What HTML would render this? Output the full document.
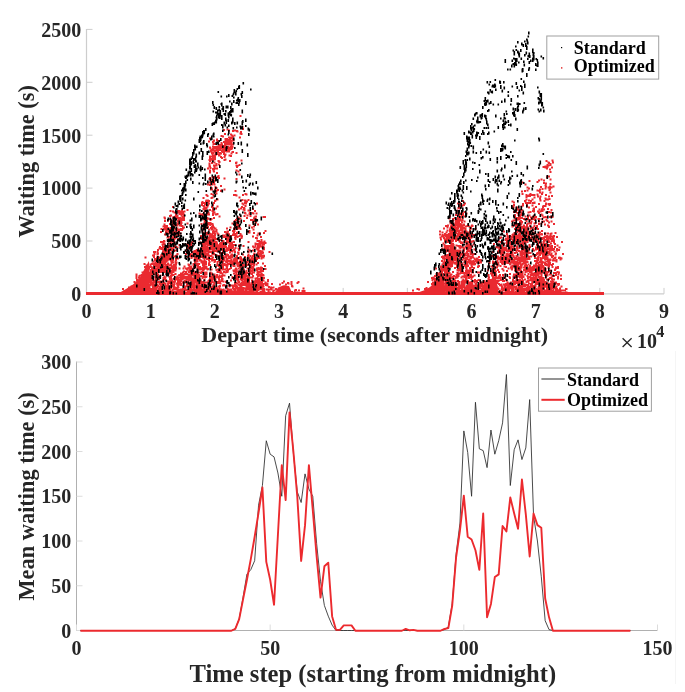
<!DOCTYPE html>
<html><head><meta charset="utf-8"><style>
html,body{margin:0;padding:0;background:#fff;overflow:hidden}
svg{display:block;font-family:"Liberation Serif",serif;will-change:transform}
</style></head><body>
<svg width="685" height="692" viewBox="0 0 685 692"><path d="M86.5 28.9V293.9H664.0" fill="none" stroke="#cdcdcd" stroke-width="1.2"/>
<path d="M86.5 293.90h6" stroke="#cdcdcd" stroke-width="1"/>
<text x="81.30" y="301.20" text-anchor="end" font-size="20" font-family="Liberation Serif" font-weight="bold" fill="#262626">0</text>
<path d="M86.5 241.00h6" stroke="#cdcdcd" stroke-width="1"/>
<text x="81.30" y="248.30" text-anchor="end" font-size="20" font-family="Liberation Serif" font-weight="bold" fill="#262626">500</text>
<path d="M86.5 188.10h6" stroke="#cdcdcd" stroke-width="1"/>
<text x="81.30" y="195.40" text-anchor="end" font-size="20" font-family="Liberation Serif" font-weight="bold" fill="#262626">1000</text>
<path d="M86.5 135.20h6" stroke="#cdcdcd" stroke-width="1"/>
<text x="81.30" y="142.50" text-anchor="end" font-size="20" font-family="Liberation Serif" font-weight="bold" fill="#262626">1500</text>
<path d="M86.5 82.30h6" stroke="#cdcdcd" stroke-width="1"/>
<text x="81.30" y="89.60" text-anchor="end" font-size="20" font-family="Liberation Serif" font-weight="bold" fill="#262626">2000</text>
<path d="M86.5 29.40h6" stroke="#cdcdcd" stroke-width="1"/>
<text x="81.30" y="36.70" text-anchor="end" font-size="20" font-family="Liberation Serif" font-weight="bold" fill="#262626">2500</text>
<path d="M86.50 293.9v-6" stroke="#cdcdcd" stroke-width="1"/>
<text x="86.50" y="317.9" text-anchor="middle" font-size="20" font-family="Liberation Serif" font-weight="bold" fill="#262626">0</text>
<path d="M150.67 293.9v-6" stroke="#cdcdcd" stroke-width="1"/>
<text x="150.67" y="317.9" text-anchor="middle" font-size="20" font-family="Liberation Serif" font-weight="bold" fill="#262626">1</text>
<path d="M214.83 293.9v-6" stroke="#cdcdcd" stroke-width="1"/>
<text x="214.83" y="317.9" text-anchor="middle" font-size="20" font-family="Liberation Serif" font-weight="bold" fill="#262626">2</text>
<path d="M279.00 293.9v-6" stroke="#cdcdcd" stroke-width="1"/>
<text x="279.00" y="317.9" text-anchor="middle" font-size="20" font-family="Liberation Serif" font-weight="bold" fill="#262626">3</text>
<path d="M343.17 293.9v-6" stroke="#cdcdcd" stroke-width="1"/>
<text x="343.17" y="317.9" text-anchor="middle" font-size="20" font-family="Liberation Serif" font-weight="bold" fill="#262626">4</text>
<path d="M407.33 293.9v-6" stroke="#cdcdcd" stroke-width="1"/>
<text x="407.33" y="317.9" text-anchor="middle" font-size="20" font-family="Liberation Serif" font-weight="bold" fill="#262626">5</text>
<path d="M471.50 293.9v-6" stroke="#cdcdcd" stroke-width="1"/>
<text x="471.50" y="317.9" text-anchor="middle" font-size="20" font-family="Liberation Serif" font-weight="bold" fill="#262626">6</text>
<path d="M535.67 293.9v-6" stroke="#cdcdcd" stroke-width="1"/>
<text x="535.67" y="317.9" text-anchor="middle" font-size="20" font-family="Liberation Serif" font-weight="bold" fill="#262626">7</text>
<path d="M599.83 293.9v-6" stroke="#cdcdcd" stroke-width="1"/>
<text x="599.83" y="317.9" text-anchor="middle" font-size="20" font-family="Liberation Serif" font-weight="bold" fill="#262626">8</text>
<path d="M664.00 293.9v-6" stroke="#cdcdcd" stroke-width="1"/>
<text x="664.00" y="317.9" text-anchor="middle" font-size="20" font-family="Liberation Serif" font-weight="bold" fill="#262626">9</text>
<text x="374.7" y="341.8" text-anchor="middle" font-size="22" font-family="Liberation Serif" font-weight="bold" fill="#262626">Depart time (seconds after midnight)</text>
<text transform="translate(33.5 161.3) rotate(-90)" text-anchor="middle" font-size="22.3" font-family="Liberation Serif" font-weight="bold" fill="#262626">Waiting time (s)</text>
<path d="M622.6 338.2L631.6 347M631.6 338.2L622.6 347" stroke="#262626" stroke-width="1.3"/>
<text x="637" y="347.7" font-size="20" font-family="Liberation Serif" font-weight="bold" fill="#262626">10</text>
<text x="656.2" y="337.4" font-size="16.2" font-family="Liberation Serif" font-weight="bold" fill="#262626">4</text>
<rect x="86" y="292" width="518" height="3" fill="#ea2a30"/>
<path d="M120 292.5L126 289L133 284.5L140 277.5L146 266L149 261L150 292.5Z M418 292.5L425 290L430 287L434 283L438 276L442 268L446 292.5Z M275 292.5L278 287.5L283 285.5L289 286L292 292.5Z" fill="#ea2a30"/>
<path d="M239.5 115h2v2h-2zM241.5 126h2v2h-2zM242 128h2v2h-2zM226.5 128.5h2v2h-2zM223 129h2v2h-2zM228 129.5h2v2h-2zM234 129.5h2v2h-2zM236 130h2v2h-2zM232 130h2v2h-2zM236.5 130.5h2v2h-2zM240 131h2v2h-2zM224 133h2v2h-2zM239.5 132.5h2v2h-2zM230 133.5h2v2h-2zM240.5 133h2v2h-2zM231 134.5h2v2h-2zM233.5 134.5h2v2h-2zM220.5 135h2v2h-2zM222 135.5h2v2h-2zM232 135.5h2v2h-2zM228 136.5h2v2h-2zM229.5 136.5h2v2h-2zM239 136.5h2v2h-2zM209 137.5h2v2h-2zM224.5 138h2v2h-2zM226 138h2v2h-2zM229 137.5h2v2h-2zM231 137h2v2h-2zM216 138.5h2v2h-2zM227 139h2v2h-2zM227.5 139h2v2h-2zM213 139.5h2v2h-2zM216 139.5h2v2h-2zM217 140h2v2h-2zM224.5 139h2v2h-2zM226 139.5h2v2h-2zM228 139.5h2v2h-2zM229.5 139.5h2v2h-2zM230.5 140h2v2h-2zM232 139h2v2h-2zM231 139.5h2v2h-2zM232.5 139.5h2v2h-2zM208 140.5h2v2h-2zM212 141h2v2h-2zM212.5 140.5h2v2h-2zM223 141h2v2h-2zM224.5 140.5h2v2h-2zM225 140h2v2h-2zM228 140.5h2v2h-2zM229.5 141h2v2h-2zM230.5 140.5h2v2h-2zM220.5 142h2v2h-2zM226 141.5h2v2h-2zM225.5 142h2v2h-2zM225.5 141.5h2v2h-2zM225 141.5h2v2h-2zM226.5 142h2v2h-2zM212.5 143h2v2h-2zM213.5 143h2v2h-2zM215 143h2v2h-2zM224 142.5h2v2h-2zM225.5 142h2v2h-2zM226 142h2v2h-2zM227.5 142.5h2v2h-2zM229.5 142h2v2h-2zM230.5 142.5h2v2h-2zM219 144h2v2h-2zM221 143.5h2v2h-2zM220.5 143h2v2h-2zM220.5 143.5h2v2h-2zM225.5 143.5h2v2h-2zM227.5 143.5h2v2h-2zM229 143h2v2h-2zM230.5 143.5h2v2h-2zM232 143.5h2v2h-2zM218 144.5h2v2h-2zM219.5 144.5h2v2h-2zM224 144.5h2v2h-2zM212 145.5h2v2h-2zM214 146h2v2h-2zM216 146h2v2h-2zM216.5 145.5h2v2h-2zM218.5 146h2v2h-2zM219 145h2v2h-2zM221.5 145.5h2v2h-2zM222 145h2v2h-2zM222.5 146h2v2h-2zM224.5 145.5h2v2h-2zM229.5 145.5h2v2h-2zM229.5 146h2v2h-2zM230.5 145.5h2v2h-2zM209 146.5h2v2h-2zM215.5 146.5h2v2h-2zM216 146.5h2v2h-2zM217 146.5h2v2h-2zM219.5 146h2v2h-2zM220 147h2v2h-2zM219 146.5h2v2h-2zM219 146h2v2h-2zM222.5 147h2v2h-2zM225 147h2v2h-2zM225.5 146.5h2v2h-2zM225.5 146h2v2h-2zM227 146h2v2h-2zM229 147h2v2h-2zM228.5 147h2v2h-2zM230.5 146.5h2v2h-2zM231.5 146h2v2h-2zM209.5 147.5h2v2h-2zM212 148h2v2h-2zM212.5 147.5h2v2h-2zM214.5 147.5h2v2h-2zM215 147.5h2v2h-2zM215.5 147h2v2h-2zM215 147.5h2v2h-2zM217 148h2v2h-2zM219.5 147.5h2v2h-2zM222 147h2v2h-2zM222 147h2v2h-2zM224.5 147.5h2v2h-2zM227 147.5h2v2h-2zM229 148h2v2h-2zM231 147.5h2v2h-2zM212 148.5h2v2h-2zM212 148h2v2h-2zM216 148.5h2v2h-2zM215.5 148.5h2v2h-2zM215.5 148.5h2v2h-2zM216 148h2v2h-2zM217 148h2v2h-2zM217 148.5h2v2h-2zM217.5 148h2v2h-2zM217 148.5h2v2h-2zM217.5 148.5h2v2h-2zM221.5 149h2v2h-2zM222 148h2v2h-2zM224.5 149h2v2h-2zM225 148.5h2v2h-2zM226 148h2v2h-2zM226 148.5h2v2h-2zM228.5 148.5h2v2h-2zM228 149h2v2h-2zM229 148.5h2v2h-2zM230 148h2v2h-2zM210.5 149h2v2h-2zM210.5 149.5h2v2h-2zM210.5 149.5h2v2h-2zM212.5 149.5h2v2h-2zM214 150h2v2h-2zM215.5 149.5h2v2h-2zM217 150h2v2h-2zM219 149h2v2h-2zM221 150h2v2h-2zM223.5 149h2v2h-2zM210 150h2v2h-2zM210.5 151h2v2h-2zM213.5 150.5h2v2h-2zM213.5 150.5h2v2h-2zM214 150h2v2h-2zM213.5 150.5h2v2h-2zM222 151h2v2h-2zM223.5 150h2v2h-2zM225.5 150.5h2v2h-2zM226.5 150.5h2v2h-2zM228 150.5h2v2h-2zM231.5 151h2v2h-2zM214.5 151h2v2h-2zM215.5 152h2v2h-2zM217 151h2v2h-2zM219 152h2v2h-2zM219.5 152h2v2h-2zM223 151h2v2h-2zM232 151h2v2h-2zM211 152.5h2v2h-2zM211.5 152.5h2v2h-2zM212 152h2v2h-2zM214.5 152h2v2h-2zM216.5 152h2v2h-2zM216.5 153h2v2h-2zM220 152.5h2v2h-2zM223 153h2v2h-2zM230.5 152.5h2v2h-2zM235.5 152h2v2h-2zM218.5 153.5h2v2h-2zM224.5 153.5h2v2h-2zM212 154.5h2v2h-2zM212.5 154.5h2v2h-2zM214.5 154h2v2h-2zM218 154.5h2v2h-2zM218.5 154.5h2v2h-2zM224 154.5h2v2h-2zM228.5 154.5h2v2h-2zM209 155.5h2v2h-2zM210 155.5h2v2h-2zM214 155.5h2v2h-2zM214 156h2v2h-2zM230 155h2v2h-2zM212 156h2v2h-2zM212.5 156.5h2v2h-2zM220 156h2v2h-2zM221 157h2v2h-2zM223.5 156h2v2h-2zM209 157.5h2v2h-2zM208.5 159h2v2h-2zM210 158.5h2v2h-2zM211 158h2v2h-2zM212 158.5h2v2h-2zM214 158h2v2h-2zM213.5 158h2v2h-2zM213.5 158.5h2v2h-2zM223.5 159h2v2h-2zM224.5 158.5h2v2h-2zM209 160h2v2h-2zM211.5 159.5h2v2h-2zM212 159.5h2v2h-2zM240.5 159.5h2v2h-2zM209 160h2v2h-2zM217.5 160h2v2h-2zM218 160.5h2v2h-2zM229 160h2v2h-2zM213.5 161.5h2v2h-2zM218.5 161h2v2h-2zM235 162h2v2h-2zM235.5 161.5h2v2h-2zM208.5 162.5h2v2h-2zM211 162h2v2h-2zM215.5 163h2v2h-2zM218 163.5h2v2h-2zM208.5 164h2v2h-2zM213 164.5h2v2h-2zM213.5 164.5h2v2h-2zM215.5 164.5h2v2h-2zM235.5 164.5h2v2h-2zM236.5 165h2v2h-2zM238.5 164h2v2h-2zM208.5 165.5h2v2h-2zM209 165.5h2v2h-2zM236 166h2v2h-2zM209.5 167h2v2h-2zM213.5 166h2v2h-2zM207 167.5h2v2h-2zM212 168h2v2h-2zM214.5 167.5h2v2h-2zM216 167.5h2v2h-2zM213 168h2v2h-2zM209 169.5h2v2h-2zM212.5 169h2v2h-2zM212.5 169.5h2v2h-2zM235.5 169.5h2v2h-2zM213 170.5h2v2h-2zM237.5 170.5h2v2h-2zM209 171.5h2v2h-2zM216 172h2v2h-2zM238.5 173.5h2v2h-2zM213.5 176h2v2h-2zM217.5 175h2v2h-2zM217.5 175h2v2h-2zM209 177h2v2h-2zM211.5 176h2v2h-2zM216.5 176h2v2h-2zM218 177h2v2h-2zM208.5 178h2v2h-2zM213.5 177.5h2v2h-2zM215 177h2v2h-2zM223.5 177.5h2v2h-2zM235.5 178h2v2h-2zM210.5 178.5h2v2h-2zM215.5 178.5h2v2h-2zM213 180h2v2h-2zM212 179.5h2v2h-2zM211 180h2v2h-2zM212 180.5h2v2h-2zM208.5 181.5h2v2h-2zM210 181.5h2v2h-2zM211.5 181.5h2v2h-2zM212 181.5h2v2h-2zM210.5 182h2v2h-2zM211.5 182.5h2v2h-2zM213 182h2v2h-2zM207 183.5h2v2h-2zM209 184h2v2h-2zM211 183.5h2v2h-2zM213.5 183.5h2v2h-2zM220 185h2v2h-2zM214.5 186h2v2h-2zM215.5 187h2v2h-2zM210.5 187h2v2h-2zM210 188.5h2v2h-2zM211 188.5h2v2h-2zM214 188.5h2v2h-2zM216.5 189h2v2h-2zM217 189h2v2h-2zM223.5 188.5h2v2h-2zM214.5 190h2v2h-2zM215.5 190h2v2h-2zM220.5 189.5h2v2h-2zM220 190h2v2h-2zM234.5 190h2v2h-2zM214.5 191.5h2v2h-2zM215.5 192.5h2v2h-2zM205.5 194h2v2h-2zM210.5 193h2v2h-2zM212.5 194h2v2h-2zM233 194h2v2h-2zM244.5 193h2v2h-2zM245.5 193.5h2v2h-2zM206.5 195h2v2h-2zM234.5 194h2v2h-2zM235.5 194.5h2v2h-2zM242 194h2v2h-2zM202.5 197h2v2h-2zM211.5 196.5h2v2h-2zM238.5 196.5h2v2h-2zM210.5 197h2v2h-2zM216.5 198.5h2v2h-2zM247.5 199h2v2h-2zM205.5 199.5h2v2h-2zM207 199.5h2v2h-2zM208 200h2v2h-2zM214 200h2v2h-2zM214.5 199.5h2v2h-2zM239.5 200h2v2h-2zM241.5 199h2v2h-2zM244.5 199.5h2v2h-2zM244 199.5h2v2h-2zM201.5 201h2v2h-2zM205 200.5h2v2h-2zM244.5 201h2v2h-2zM246 200.5h2v2h-2zM203 202h2v2h-2zM205 201h2v2h-2zM207 201.5h2v2h-2zM201 202h2v2h-2zM203 202h2v2h-2zM204 202.5h2v2h-2zM208 202.5h2v2h-2zM213 202h2v2h-2zM241.5 202.5h2v2h-2zM244 202h2v2h-2zM245 202.5h2v2h-2zM256 202.5h2v2h-2zM204 203h2v2h-2zM207 204h2v2h-2zM212 204h2v2h-2zM242.5 203.5h2v2h-2zM201 204h2v2h-2zM205.5 204.5h2v2h-2zM172 206h2v2h-2zM202.5 205h2v2h-2zM203 205h2v2h-2zM206.5 205.5h2v2h-2zM211 206h2v2h-2zM216.5 205.5h2v2h-2zM241 206h2v2h-2zM244.5 205h2v2h-2zM203.5 206.5h2v2h-2zM204 207h2v2h-2zM212 206.5h2v2h-2zM203 207.5h2v2h-2zM203.5 208h2v2h-2zM203.5 207.5h2v2h-2zM205.5 207h2v2h-2zM205.5 207.5h2v2h-2zM215 207.5h2v2h-2zM240 207.5h2v2h-2zM243 207h2v2h-2zM243.5 207.5h2v2h-2zM202.5 208h2v2h-2zM209 209h2v2h-2zM212 208h2v2h-2zM212 208.5h2v2h-2zM238 208.5h2v2h-2zM242.5 208.5h2v2h-2zM252 208h2v2h-2zM169.5 210h2v2h-2zM177 210h2v2h-2zM178.5 210h2v2h-2zM181 209.5h2v2h-2zM186.5 209h2v2h-2zM204.5 209.5h2v2h-2zM211.5 210h2v2h-2zM243.5 209.5h2v2h-2zM247.5 209.5h2v2h-2zM254 210h2v2h-2zM172 210.5h2v2h-2zM183.5 210.5h2v2h-2zM203.5 210.5h2v2h-2zM212.5 210.5h2v2h-2zM212.5 210.5h2v2h-2zM173.5 211.5h2v2h-2zM175 212h2v2h-2zM175.5 211.5h2v2h-2zM177.5 211.5h2v2h-2zM177 211.5h2v2h-2zM180.5 211h2v2h-2zM182 211h2v2h-2zM207.5 211.5h2v2h-2zM213.5 211.5h2v2h-2zM244 212h2v2h-2zM249 211.5h2v2h-2zM178.5 213h2v2h-2zM178.5 212.5h2v2h-2zM179.5 212h2v2h-2zM180 213h2v2h-2zM179.5 212.5h2v2h-2zM180 212.5h2v2h-2zM181.5 212.5h2v2h-2zM182.5 213h2v2h-2zM198.5 212.5h2v2h-2zM202 213h2v2h-2zM205.5 213h2v2h-2zM206.5 212.5h2v2h-2zM207 212.5h2v2h-2zM212 212.5h2v2h-2zM212.5 213h2v2h-2zM244.5 212.5h2v2h-2zM248.5 212.5h2v2h-2zM251.5 212h2v2h-2zM252.5 212.5h2v2h-2zM255.5 212.5h2v2h-2zM175 213.5h2v2h-2zM180.5 214h2v2h-2zM181 213.5h2v2h-2zM183 214h2v2h-2zM200 213.5h2v2h-2zM203.5 214h2v2h-2zM206.5 213.5h2v2h-2zM208 213.5h2v2h-2zM212 214h2v2h-2zM215 213.5h2v2h-2zM215.5 213.5h2v2h-2zM216.5 213h2v2h-2zM249 213h2v2h-2zM170 214.5h2v2h-2zM175.5 214.5h2v2h-2zM180.5 214.5h2v2h-2zM183 214.5h2v2h-2zM199.5 214h2v2h-2zM201.5 214h2v2h-2zM246.5 214.5h2v2h-2zM249.5 215h2v2h-2zM169 215h2v2h-2zM174.5 215.5h2v2h-2zM175 215.5h2v2h-2zM176.5 215h2v2h-2zM218.5 215.5h2v2h-2zM243.5 215h2v2h-2zM254.5 215.5h2v2h-2zM255 215.5h2v2h-2zM262.5 216h2v2h-2zM264 216h2v2h-2zM163.5 216.5h2v2h-2zM172 216.5h2v2h-2zM173.5 216h2v2h-2zM175 217h2v2h-2zM176.5 217h2v2h-2zM176.5 217h2v2h-2zM177.5 217h2v2h-2zM179 217h2v2h-2zM181.5 216h2v2h-2zM183 216.5h2v2h-2zM183 217h2v2h-2zM204 216.5h2v2h-2zM206 217h2v2h-2zM237.5 216.5h2v2h-2zM246 217h2v2h-2zM253.5 216.5h2v2h-2zM164 217.5h2v2h-2zM175.5 217.5h2v2h-2zM176 217.5h2v2h-2zM176.5 217h2v2h-2zM181 217.5h2v2h-2zM202.5 218h2v2h-2zM204.5 217.5h2v2h-2zM207.5 217.5h2v2h-2zM213 217h2v2h-2zM236 218h2v2h-2zM237 217h2v2h-2zM239.5 217.5h2v2h-2zM253 217.5h2v2h-2zM170 219h2v2h-2zM169.5 218.5h2v2h-2zM173.5 219h2v2h-2zM174 219h2v2h-2zM178 218.5h2v2h-2zM178.5 218.5h2v2h-2zM178 219h2v2h-2zM178 218h2v2h-2zM183 219h2v2h-2zM206.5 218h2v2h-2zM210.5 218h2v2h-2zM235 219h2v2h-2zM254.5 218h2v2h-2zM255 218.5h2v2h-2zM167 219.5h2v2h-2zM170.5 220h2v2h-2zM178 219.5h2v2h-2zM178 219.5h2v2h-2zM179.5 219.5h2v2h-2zM179.5 219h2v2h-2zM180.5 219.5h2v2h-2zM182 219h2v2h-2zM183 219h2v2h-2zM204 220h2v2h-2zM203.5 219.5h2v2h-2zM209.5 219h2v2h-2zM237 219.5h2v2h-2zM250 219h2v2h-2zM251.5 219h2v2h-2zM254.5 220h2v2h-2zM164 220h2v2h-2zM170 220.5h2v2h-2zM172.5 220.5h2v2h-2zM173.5 221h2v2h-2zM177 220.5h2v2h-2zM176.5 220.5h2v2h-2zM177 220h2v2h-2zM178 220.5h2v2h-2zM178 220.5h2v2h-2zM178.5 220h2v2h-2zM179.5 220.5h2v2h-2zM180 220h2v2h-2zM204 220.5h2v2h-2zM234 220h2v2h-2zM233.5 220.5h2v2h-2zM238.5 220.5h2v2h-2zM243 220h2v2h-2zM252.5 220h2v2h-2zM171.5 221.5h2v2h-2zM171 221.5h2v2h-2zM173.5 221.5h2v2h-2zM173 221h2v2h-2zM179.5 221h2v2h-2zM179.5 222h2v2h-2zM206 221.5h2v2h-2zM206.5 222h2v2h-2zM252 221.5h2v2h-2zM255 221.5h2v2h-2zM170.5 223h2v2h-2zM172 222.5h2v2h-2zM173 222.5h2v2h-2zM173.5 222.5h2v2h-2zM174.5 223h2v2h-2zM177.5 222h2v2h-2zM177 223h2v2h-2zM180.5 222h2v2h-2zM186.5 222.5h2v2h-2zM200.5 223h2v2h-2zM200.5 223h2v2h-2zM203.5 222h2v2h-2zM206 222.5h2v2h-2zM208.5 222h2v2h-2zM209.5 222h2v2h-2zM211.5 223h2v2h-2zM231.5 222.5h2v2h-2zM235 222h2v2h-2zM236 222h2v2h-2zM237 222.5h2v2h-2zM163.5 223.5h2v2h-2zM169 223h2v2h-2zM172 224h2v2h-2zM175.5 224h2v2h-2zM180 223.5h2v2h-2zM208 223.5h2v2h-2zM208.5 223h2v2h-2zM237 223h2v2h-2zM236 223.5h2v2h-2zM254 223.5h2v2h-2zM257 223.5h2v2h-2zM164 225h2v2h-2zM171 224h2v2h-2zM173.5 225h2v2h-2zM176.5 224.5h2v2h-2zM179 224.5h2v2h-2zM180.5 225h2v2h-2zM203 224.5h2v2h-2zM206 224.5h2v2h-2zM209.5 224h2v2h-2zM212 224.5h2v2h-2zM237 224.5h2v2h-2zM237.5 224h2v2h-2zM248.5 224.5h2v2h-2zM162.5 225.5h2v2h-2zM164 226h2v2h-2zM164.5 225.5h2v2h-2zM166 225h2v2h-2zM181.5 225h2v2h-2zM203.5 226h2v2h-2zM203.5 225.5h2v2h-2zM207 226h2v2h-2zM235.5 226h2v2h-2zM235.5 225.5h2v2h-2zM237.5 226h2v2h-2zM253 225.5h2v2h-2zM167 227h2v2h-2zM173 226.5h2v2h-2zM183 226.5h2v2h-2zM211 226h2v2h-2zM213 226.5h2v2h-2zM229.5 226.5h2v2h-2zM234 226h2v2h-2zM235 226.5h2v2h-2zM237.5 227h2v2h-2zM238.5 226.5h2v2h-2zM239 227h2v2h-2zM251 226.5h2v2h-2zM163 228h2v2h-2zM165.5 227h2v2h-2zM167.5 227.5h2v2h-2zM167.5 227h2v2h-2zM170.5 227h2v2h-2zM170.5 227.5h2v2h-2zM170 227h2v2h-2zM172.5 227h2v2h-2zM172 227.5h2v2h-2zM176.5 227.5h2v2h-2zM179.5 228h2v2h-2zM182 227h2v2h-2zM202 227.5h2v2h-2zM203 228h2v2h-2zM205.5 227h2v2h-2zM210 227h2v2h-2zM211 227h2v2h-2zM214 227.5h2v2h-2zM214.5 227.5h2v2h-2zM226 227.5h2v2h-2zM233 227.5h2v2h-2zM235 228h2v2h-2zM235.5 228h2v2h-2zM236 227.5h2v2h-2zM160.5 228h2v2h-2zM163.5 228.5h2v2h-2zM165 228h2v2h-2zM167.5 228h2v2h-2zM167.5 229h2v2h-2zM169.5 228.5h2v2h-2zM171.5 228.5h2v2h-2zM174.5 228h2v2h-2zM179 229h2v2h-2zM181.5 228h2v2h-2zM204 228.5h2v2h-2zM208 228.5h2v2h-2zM210.5 228.5h2v2h-2zM211.5 228h2v2h-2zM215.5 229h2v2h-2zM236.5 228h2v2h-2zM239.5 228h2v2h-2zM252.5 228.5h2v2h-2zM166 229h2v2h-2zM165.5 229h2v2h-2zM166.5 229.5h2v2h-2zM168 229.5h2v2h-2zM169 229h2v2h-2zM170 229.5h2v2h-2zM172.5 229.5h2v2h-2zM172 230h2v2h-2zM172.5 229.5h2v2h-2zM176 229.5h2v2h-2zM177.5 229h2v2h-2zM181 229h2v2h-2zM212.5 229.5h2v2h-2zM232 230h2v2h-2zM233 229.5h2v2h-2zM233.5 230h2v2h-2zM248.5 230h2v2h-2zM165 231h2v2h-2zM165.5 231h2v2h-2zM168 230h2v2h-2zM169.5 230h2v2h-2zM172 230.5h2v2h-2zM173.5 230.5h2v2h-2zM174 230.5h2v2h-2zM178 231h2v2h-2zM201.5 230h2v2h-2zM212 231h2v2h-2zM213 231h2v2h-2zM214 230.5h2v2h-2zM213.5 231h2v2h-2zM215.5 230.5h2v2h-2zM224 231h2v2h-2zM227 230.5h2v2h-2zM226.5 230.5h2v2h-2zM264.5 230h2v2h-2zM160 231h2v2h-2zM165.5 231.5h2v2h-2zM173 231.5h2v2h-2zM174 231.5h2v2h-2zM175 231.5h2v2h-2zM177.5 231.5h2v2h-2zM207 231.5h2v2h-2zM206 232h2v2h-2zM207.5 232h2v2h-2zM212 232h2v2h-2zM225.5 231.5h2v2h-2zM226.5 231.5h2v2h-2zM233 231h2v2h-2zM236.5 231.5h2v2h-2zM248 231.5h2v2h-2zM248.5 231.5h2v2h-2zM263 232h2v2h-2zM166.5 232h2v2h-2zM168 232.5h2v2h-2zM169 232.5h2v2h-2zM171 232h2v2h-2zM172.5 232.5h2v2h-2zM173 232.5h2v2h-2zM174 232.5h2v2h-2zM174 232.5h2v2h-2zM175.5 232.5h2v2h-2zM179.5 232.5h2v2h-2zM202.5 232h2v2h-2zM204 232.5h2v2h-2zM204.5 233h2v2h-2zM206 232h2v2h-2zM208 232.5h2v2h-2zM208.5 232.5h2v2h-2zM211.5 233h2v2h-2zM213.5 232h2v2h-2zM216.5 232.5h2v2h-2zM226 232h2v2h-2zM225.5 233h2v2h-2zM226 233h2v2h-2zM227.5 233h2v2h-2zM232.5 232.5h2v2h-2zM234.5 233h2v2h-2zM236 232h2v2h-2zM237 232h2v2h-2zM236 232.5h2v2h-2zM239.5 233h2v2h-2zM253 232h2v2h-2zM257.5 232.5h2v2h-2zM259 232.5h2v2h-2zM164 233.5h2v2h-2zM164.5 233.5h2v2h-2zM173 234h2v2h-2zM176.5 233.5h2v2h-2zM178 234h2v2h-2zM202.5 234h2v2h-2zM202.5 233h2v2h-2zM203 233h2v2h-2zM205 233.5h2v2h-2zM205 233h2v2h-2zM205 233.5h2v2h-2zM205.5 233h2v2h-2zM206 233.5h2v2h-2zM207.5 233h2v2h-2zM209 233h2v2h-2zM210.5 233.5h2v2h-2zM211.5 233.5h2v2h-2zM211 234h2v2h-2zM211 233.5h2v2h-2zM214 233h2v2h-2zM217.5 233.5h2v2h-2zM228 233.5h2v2h-2zM232 234h2v2h-2zM234 234h2v2h-2zM172.5 234.5h2v2h-2zM173.5 234.5h2v2h-2zM204 234.5h2v2h-2zM204 234.5h2v2h-2zM208.5 234.5h2v2h-2zM211.5 234.5h2v2h-2zM211 235h2v2h-2zM214 234.5h2v2h-2zM222 234.5h2v2h-2zM223.5 234.5h2v2h-2zM227.5 235h2v2h-2zM230 235h2v2h-2zM235.5 235h2v2h-2zM240.5 234.5h2v2h-2zM256.5 234.5h2v2h-2zM167.5 236h2v2h-2zM169.5 235.5h2v2h-2zM174.5 235.5h2v2h-2zM175.5 235h2v2h-2zM200 235h2v2h-2zM201.5 235.5h2v2h-2zM209 235.5h2v2h-2zM212.5 235h2v2h-2zM224.5 235.5h2v2h-2zM226.5 235h2v2h-2zM228 235.5h2v2h-2zM230 235.5h2v2h-2zM235 235.5h2v2h-2zM236.5 236h2v2h-2zM238.5 235h2v2h-2zM241 235.5h2v2h-2zM252 235.5h2v2h-2zM260 236h2v2h-2zM166.5 236.5h2v2h-2zM170.5 237h2v2h-2zM173 236.5h2v2h-2zM172 236.5h2v2h-2zM203 236.5h2v2h-2zM205 237h2v2h-2zM208.5 237h2v2h-2zM208.5 236h2v2h-2zM210.5 236.5h2v2h-2zM211.5 237h2v2h-2zM212 237h2v2h-2zM212 237h2v2h-2zM213.5 236.5h2v2h-2zM222.5 236h2v2h-2zM223.5 236h2v2h-2zM225.5 236.5h2v2h-2zM226 236h2v2h-2zM226.5 236.5h2v2h-2zM226.5 236h2v2h-2zM234 236.5h2v2h-2zM255 237h2v2h-2zM170 237.5h2v2h-2zM172 237h2v2h-2zM174.5 237.5h2v2h-2zM177 238h2v2h-2zM201 237.5h2v2h-2zM203 238h2v2h-2zM205.5 237.5h2v2h-2zM206.5 237h2v2h-2zM208.5 238h2v2h-2zM212.5 237.5h2v2h-2zM214 237h2v2h-2zM216.5 238h2v2h-2zM225.5 237.5h2v2h-2zM228 237.5h2v2h-2zM234.5 238h2v2h-2zM240.5 237h2v2h-2zM255.5 237h2v2h-2zM256 237.5h2v2h-2zM167 239h2v2h-2zM168 238.5h2v2h-2zM167.5 239h2v2h-2zM170.5 239h2v2h-2zM173 238h2v2h-2zM200.5 238h2v2h-2zM202 239h2v2h-2zM204.5 238.5h2v2h-2zM207.5 238h2v2h-2zM208.5 238.5h2v2h-2zM209 239h2v2h-2zM210.5 239h2v2h-2zM212 238.5h2v2h-2zM212.5 238h2v2h-2zM214.5 238h2v2h-2zM217 238.5h2v2h-2zM217 238.5h2v2h-2zM219.5 239h2v2h-2zM226.5 238h2v2h-2zM227.5 239h2v2h-2zM239 238.5h2v2h-2zM260.5 239h2v2h-2zM163 240h2v2h-2zM166.5 239.5h2v2h-2zM167.5 239.5h2v2h-2zM171.5 239.5h2v2h-2zM173 240h2v2h-2zM204 239.5h2v2h-2zM203.5 239h2v2h-2zM207.5 240h2v2h-2zM207.5 239.5h2v2h-2zM210.5 239.5h2v2h-2zM211.5 239.5h2v2h-2zM212 239.5h2v2h-2zM213 239h2v2h-2zM218 239h2v2h-2zM222.5 240h2v2h-2zM226 240h2v2h-2zM228 240h2v2h-2zM228.5 239h2v2h-2zM256.5 240h2v2h-2zM260.5 239.5h2v2h-2zM160 241h2v2h-2zM163.5 240.5h2v2h-2zM163 240h2v2h-2zM172 240h2v2h-2zM171.5 240.5h2v2h-2zM172 240.5h2v2h-2zM191.5 241h2v2h-2zM201.5 241h2v2h-2zM205 240.5h2v2h-2zM205.5 240.5h2v2h-2zM206.5 240h2v2h-2zM206.5 240.5h2v2h-2zM207.5 240.5h2v2h-2zM208.5 240.5h2v2h-2zM210.5 240.5h2v2h-2zM212.5 241h2v2h-2zM214.5 240.5h2v2h-2zM215.5 241h2v2h-2zM222 240h2v2h-2zM222.5 241h2v2h-2zM222 241h2v2h-2zM227 240.5h2v2h-2zM227 241h2v2h-2zM232.5 241h2v2h-2zM258 240h2v2h-2zM263.5 240.5h2v2h-2zM161 241h2v2h-2zM169.5 241h2v2h-2zM173.5 241.5h2v2h-2zM176 242h2v2h-2zM198.5 241.5h2v2h-2zM202 241h2v2h-2zM203 241.5h2v2h-2zM206.5 242h2v2h-2zM206.5 241.5h2v2h-2zM207.5 241h2v2h-2zM210 242h2v2h-2zM210.5 241.5h2v2h-2zM210 241.5h2v2h-2zM215 241.5h2v2h-2zM221.5 241h2v2h-2zM221 242h2v2h-2zM221.5 241.5h2v2h-2zM222.5 242h2v2h-2zM226 241.5h2v2h-2zM229 241.5h2v2h-2zM230 241.5h2v2h-2zM231 242h2v2h-2zM233 241h2v2h-2zM247.5 241h2v2h-2zM258.5 241h2v2h-2zM259 242h2v2h-2zM260 241.5h2v2h-2zM261.5 241.5h2v2h-2zM263 242h2v2h-2zM264.5 242h2v2h-2zM162.5 242h2v2h-2zM168 242.5h2v2h-2zM172.5 242h2v2h-2zM190 242h2v2h-2zM201.5 242h2v2h-2zM203.5 242h2v2h-2zM205.5 242.5h2v2h-2zM205.5 242.5h2v2h-2zM207 243h2v2h-2zM207.5 242h2v2h-2zM210 242.5h2v2h-2zM211.5 243h2v2h-2zM213.5 242.5h2v2h-2zM216 242.5h2v2h-2zM219.5 242h2v2h-2zM220 242.5h2v2h-2zM220 243h2v2h-2zM224.5 242h2v2h-2zM225 242h2v2h-2zM228.5 242.5h2v2h-2zM229 243h2v2h-2zM231 242.5h2v2h-2zM254.5 242.5h2v2h-2zM259 242h2v2h-2zM259.5 242.5h2v2h-2zM260.5 242h2v2h-2zM161.5 243.5h2v2h-2zM163.5 243h2v2h-2zM171 243h2v2h-2zM174 244h2v2h-2zM182 243.5h2v2h-2zM184.5 243.5h2v2h-2zM185 243.5h2v2h-2zM186.5 243.5h2v2h-2zM187 244h2v2h-2zM187.5 243.5h2v2h-2zM189.5 243.5h2v2h-2zM202.5 244h2v2h-2zM203.5 244h2v2h-2zM204 243.5h2v2h-2zM204.5 243.5h2v2h-2zM205 243h2v2h-2zM208.5 244h2v2h-2zM210 243.5h2v2h-2zM210 243.5h2v2h-2zM212.5 243.5h2v2h-2zM214.5 244h2v2h-2zM215.5 243.5h2v2h-2zM219 243h2v2h-2zM219 243.5h2v2h-2zM221 243h2v2h-2zM222 244h2v2h-2zM222 243.5h2v2h-2zM225 243.5h2v2h-2zM232.5 244h2v2h-2zM254.5 243.5h2v2h-2zM256.5 243h2v2h-2zM257 243.5h2v2h-2zM257 244h2v2h-2zM258.5 243h2v2h-2zM259 243h2v2h-2zM261.5 244h2v2h-2zM262 243.5h2v2h-2zM263 243.5h2v2h-2zM167 245h2v2h-2zM170 244h2v2h-2zM173 244h2v2h-2zM178.5 244h2v2h-2zM186.5 245h2v2h-2zM188 244.5h2v2h-2zM188 245h2v2h-2zM188.5 244.5h2v2h-2zM190.5 244h2v2h-2zM201.5 245h2v2h-2zM201.5 244h2v2h-2zM203.5 245h2v2h-2zM204 244.5h2v2h-2zM204.5 244h2v2h-2zM207 244.5h2v2h-2zM211 244.5h2v2h-2zM213.5 245h2v2h-2zM215.5 245h2v2h-2zM216.5 244.5h2v2h-2zM218 244.5h2v2h-2zM218.5 244h2v2h-2zM223.5 244.5h2v2h-2zM223 244.5h2v2h-2zM228 245h2v2h-2zM229 244.5h2v2h-2zM230.5 244.5h2v2h-2zM230 244.5h2v2h-2zM234.5 244h2v2h-2zM238.5 244h2v2h-2zM257.5 244h2v2h-2zM259 244.5h2v2h-2zM258 244.5h2v2h-2zM162 245.5h2v2h-2zM163 246h2v2h-2zM163 245.5h2v2h-2zM163 245.5h2v2h-2zM165 245.5h2v2h-2zM164.5 246h2v2h-2zM167.5 245.5h2v2h-2zM169 245h2v2h-2zM170 246h2v2h-2zM173 246h2v2h-2zM188 246h2v2h-2zM190 245h2v2h-2zM189.5 245h2v2h-2zM191.5 245h2v2h-2zM201.5 245.5h2v2h-2zM204 246h2v2h-2zM203.5 245.5h2v2h-2zM206 245.5h2v2h-2zM209.5 245.5h2v2h-2zM211 245.5h2v2h-2zM216.5 246h2v2h-2zM217.5 246h2v2h-2zM218 245.5h2v2h-2zM217.5 245h2v2h-2zM218.5 245h2v2h-2zM218.5 245.5h2v2h-2zM220.5 245.5h2v2h-2zM222 245.5h2v2h-2zM221 245h2v2h-2zM222 245h2v2h-2zM221.5 245.5h2v2h-2zM223 245.5h2v2h-2zM222.5 245.5h2v2h-2zM222.5 246h2v2h-2zM222.5 246h2v2h-2zM224 245.5h2v2h-2zM225 246h2v2h-2zM238 245h2v2h-2zM242.5 245h2v2h-2zM252 245.5h2v2h-2zM254.5 245.5h2v2h-2zM257 245.5h2v2h-2zM258 246h2v2h-2zM259.5 245.5h2v2h-2zM159 246h2v2h-2zM165.5 246.5h2v2h-2zM165.5 246.5h2v2h-2zM168 246.5h2v2h-2zM172.5 247h2v2h-2zM175 246h2v2h-2zM176.5 246.5h2v2h-2zM188 247h2v2h-2zM200.5 247h2v2h-2zM203.5 246h2v2h-2zM204.5 246.5h2v2h-2zM206 246h2v2h-2zM211.5 246.5h2v2h-2zM213.5 246.5h2v2h-2zM215 246.5h2v2h-2zM216.5 246.5h2v2h-2zM216 246.5h2v2h-2zM218.5 246h2v2h-2zM220 246.5h2v2h-2zM221 246h2v2h-2zM220.5 246h2v2h-2zM228.5 246.5h2v2h-2zM230.5 246.5h2v2h-2zM231.5 247h2v2h-2zM232 246h2v2h-2zM234.5 247h2v2h-2zM253 246.5h2v2h-2zM258 246.5h2v2h-2zM261.5 246h2v2h-2zM262 247h2v2h-2zM261.5 246.5h2v2h-2zM262.5 246h2v2h-2zM158.5 247.5h2v2h-2zM160.5 248h2v2h-2zM161 247h2v2h-2zM163.5 247.5h2v2h-2zM164.5 247.5h2v2h-2zM170.5 247.5h2v2h-2zM171 247.5h2v2h-2zM186.5 247h2v2h-2zM189.5 247h2v2h-2zM189.5 247.5h2v2h-2zM202.5 247.5h2v2h-2zM203 247.5h2v2h-2zM203 247.5h2v2h-2zM203.5 247h2v2h-2zM204 247.5h2v2h-2zM205 248h2v2h-2zM205.5 248h2v2h-2zM207 247h2v2h-2zM209 247.5h2v2h-2zM208.5 247h2v2h-2zM209 247.5h2v2h-2zM211 247.5h2v2h-2zM210.5 248h2v2h-2zM211.5 247h2v2h-2zM217.5 247.5h2v2h-2zM218.5 247.5h2v2h-2zM219.5 247h2v2h-2zM220 247.5h2v2h-2zM221.5 247.5h2v2h-2zM223 247h2v2h-2zM226 247.5h2v2h-2zM225.5 247.5h2v2h-2zM227.5 247h2v2h-2zM229 247.5h2v2h-2zM229.5 248h2v2h-2zM230 247h2v2h-2zM237.5 247.5h2v2h-2zM255.5 247.5h2v2h-2zM257.5 247.5h2v2h-2zM263 247h2v2h-2zM157 249h2v2h-2zM162.5 248.5h2v2h-2zM163.5 248.5h2v2h-2zM164.5 248.5h2v2h-2zM167 248.5h2v2h-2zM166.5 249h2v2h-2zM166.5 248.5h2v2h-2zM171 249h2v2h-2zM175.5 249h2v2h-2zM189 248h2v2h-2zM199.5 248.5h2v2h-2zM201.5 249h2v2h-2zM201 248h2v2h-2zM202 249h2v2h-2zM203.5 248h2v2h-2zM204.5 248h2v2h-2zM208 248.5h2v2h-2zM207.5 248h2v2h-2zM207 249h2v2h-2zM208.5 248.5h2v2h-2zM209 248.5h2v2h-2zM211 248.5h2v2h-2zM213.5 248.5h2v2h-2zM216 248h2v2h-2zM217 248.5h2v2h-2zM218.5 248h2v2h-2zM221.5 249h2v2h-2zM221.5 248.5h2v2h-2zM222.5 248.5h2v2h-2zM226 248.5h2v2h-2zM227 248.5h2v2h-2zM226.5 248.5h2v2h-2zM233.5 249h2v2h-2zM233 248.5h2v2h-2zM238 249h2v2h-2zM247.5 248.5h2v2h-2zM256.5 248.5h2v2h-2zM262.5 248.5h2v2h-2zM263 248h2v2h-2zM164 249.5h2v2h-2zM164.5 249h2v2h-2zM164.5 249.5h2v2h-2zM167.5 249.5h2v2h-2zM169 249h2v2h-2zM171 249h2v2h-2zM173.5 250h2v2h-2zM185 250h2v2h-2zM185.5 249h2v2h-2zM195.5 249.5h2v2h-2zM196 249h2v2h-2zM197.5 249.5h2v2h-2zM200.5 249h2v2h-2zM201.5 249h2v2h-2zM203.5 249h2v2h-2zM203.5 249.5h2v2h-2zM204.5 249h2v2h-2zM205.5 249h2v2h-2zM205.5 249.5h2v2h-2zM207.5 250h2v2h-2zM207 250h2v2h-2zM207.5 249.5h2v2h-2zM213 249h2v2h-2zM214 250h2v2h-2zM219 249.5h2v2h-2zM222 249.5h2v2h-2zM223.5 249h2v2h-2zM223 249.5h2v2h-2zM223.5 249.5h2v2h-2zM223.5 249.5h2v2h-2zM226 249.5h2v2h-2zM225.5 250h2v2h-2zM227.5 249h2v2h-2zM228 249h2v2h-2zM229.5 250h2v2h-2zM230.5 249.5h2v2h-2zM249 249.5h2v2h-2zM252 249.5h2v2h-2zM253 249.5h2v2h-2zM257.5 249h2v2h-2zM259 250h2v2h-2zM259.5 250h2v2h-2zM154 251h2v2h-2zM156.5 251h2v2h-2zM162 250.5h2v2h-2zM163.5 251h2v2h-2zM163.5 250.5h2v2h-2zM164 250h2v2h-2zM165.5 250.5h2v2h-2zM168 251h2v2h-2zM168 250.5h2v2h-2zM172 250.5h2v2h-2zM171.5 250h2v2h-2zM171.5 250.5h2v2h-2zM186.5 250.5h2v2h-2zM192 251h2v2h-2zM193.5 250h2v2h-2zM193.5 250.5h2v2h-2zM194 250.5h2v2h-2zM197 250.5h2v2h-2zM197.5 250.5h2v2h-2zM197.5 250.5h2v2h-2zM200.5 250.5h2v2h-2zM202.5 251h2v2h-2zM203.5 250.5h2v2h-2zM204.5 251h2v2h-2zM204 250.5h2v2h-2zM205.5 250h2v2h-2zM206 250h2v2h-2zM207.5 250.5h2v2h-2zM212 250h2v2h-2zM215 250h2v2h-2zM216.5 250.5h2v2h-2zM218 250.5h2v2h-2zM222 251h2v2h-2zM223 250.5h2v2h-2zM225.5 250h2v2h-2zM229.5 250h2v2h-2zM231 250h2v2h-2zM231.5 250.5h2v2h-2zM247.5 251h2v2h-2zM257.5 250.5h2v2h-2zM259 250.5h2v2h-2zM261 250.5h2v2h-2zM153 251h2v2h-2zM162 251.5h2v2h-2zM162 251.5h2v2h-2zM162 251h2v2h-2zM164.5 251.5h2v2h-2zM164 252h2v2h-2zM165.5 251.5h2v2h-2zM165.5 252h2v2h-2zM166.5 252h2v2h-2zM166.5 251.5h2v2h-2zM169 251.5h2v2h-2zM187.5 251h2v2h-2zM193.5 252h2v2h-2zM193.5 251.5h2v2h-2zM195 251h2v2h-2zM195.5 251.5h2v2h-2zM198.5 251.5h2v2h-2zM199.5 251.5h2v2h-2zM199 252h2v2h-2zM200.5 251.5h2v2h-2zM208.5 251h2v2h-2zM210 251h2v2h-2zM211 251.5h2v2h-2zM212.5 251h2v2h-2zM212.5 251.5h2v2h-2zM220.5 252h2v2h-2zM229 251.5h2v2h-2zM234 251h2v2h-2zM237 251.5h2v2h-2zM237.5 251.5h2v2h-2zM257 252h2v2h-2zM262 251.5h2v2h-2zM268.5 251h2v2h-2zM153.5 253h2v2h-2zM156.5 252.5h2v2h-2zM157 252.5h2v2h-2zM161.5 253h2v2h-2zM162.5 252h2v2h-2zM163.5 253h2v2h-2zM163.5 252h2v2h-2zM164 252.5h2v2h-2zM164.5 252.5h2v2h-2zM165 252.5h2v2h-2zM167.5 252.5h2v2h-2zM167.5 252h2v2h-2zM168 252h2v2h-2zM176.5 253h2v2h-2zM185 253h2v2h-2zM188 253h2v2h-2zM189.5 253h2v2h-2zM192.5 252.5h2v2h-2zM194 252.5h2v2h-2zM193 252.5h2v2h-2zM196.5 252h2v2h-2zM197 252h2v2h-2zM198.5 253h2v2h-2zM199.5 253h2v2h-2zM199 253h2v2h-2zM202 252.5h2v2h-2zM202 253h2v2h-2zM204 252h2v2h-2zM203.5 252.5h2v2h-2zM205.5 252.5h2v2h-2zM206.5 252.5h2v2h-2zM207 252.5h2v2h-2zM211.5 252.5h2v2h-2zM211.5 252.5h2v2h-2zM213 253h2v2h-2zM212 252h2v2h-2zM219 252h2v2h-2zM219 252.5h2v2h-2zM223 252h2v2h-2zM237.5 253h2v2h-2zM253.5 252.5h2v2h-2zM258.5 253h2v2h-2zM259.5 252.5h2v2h-2zM260 252.5h2v2h-2zM261.5 252h2v2h-2zM156.5 253.5h2v2h-2zM161 254h2v2h-2zM161.5 253.5h2v2h-2zM164.5 253.5h2v2h-2zM164 253h2v2h-2zM165 253h2v2h-2zM166.5 253h2v2h-2zM167.5 254h2v2h-2zM168 254h2v2h-2zM170.5 254h2v2h-2zM170 253.5h2v2h-2zM190.5 253.5h2v2h-2zM190.5 253.5h2v2h-2zM192.5 253.5h2v2h-2zM195 253h2v2h-2zM196.5 253.5h2v2h-2zM196 253.5h2v2h-2zM196.5 253.5h2v2h-2zM198.5 253.5h2v2h-2zM200.5 253.5h2v2h-2zM201.5 254h2v2h-2zM203.5 253.5h2v2h-2zM204 253h2v2h-2zM204.5 253.5h2v2h-2zM205 253.5h2v2h-2zM204.5 253h2v2h-2zM206 253.5h2v2h-2zM207.5 253.5h2v2h-2zM207 253h2v2h-2zM211.5 253h2v2h-2zM213.5 253.5h2v2h-2zM224 253.5h2v2h-2zM226 253.5h2v2h-2zM231 253.5h2v2h-2zM242 253.5h2v2h-2zM247.5 253.5h2v2h-2zM253 253.5h2v2h-2zM260 253.5h2v2h-2zM152 254.5h2v2h-2zM160.5 254h2v2h-2zM161 254.5h2v2h-2zM161.5 254.5h2v2h-2zM164 254h2v2h-2zM164 254h2v2h-2zM163.5 254.5h2v2h-2zM165.5 254.5h2v2h-2zM166 254.5h2v2h-2zM165.5 255h2v2h-2zM165.5 254.5h2v2h-2zM166.5 254.5h2v2h-2zM170.5 254.5h2v2h-2zM170.5 255h2v2h-2zM171 255h2v2h-2zM171.5 254.5h2v2h-2zM175.5 254.5h2v2h-2zM192 254h2v2h-2zM192 254.5h2v2h-2zM198 254.5h2v2h-2zM197.5 254h2v2h-2zM197 254.5h2v2h-2zM198.5 254.5h2v2h-2zM199 254h2v2h-2zM200.5 254h2v2h-2zM202 254.5h2v2h-2zM203 255h2v2h-2zM203.5 254.5h2v2h-2zM205.5 254h2v2h-2zM205.5 254h2v2h-2zM207.5 254h2v2h-2zM216 254.5h2v2h-2zM218 255h2v2h-2zM220.5 254.5h2v2h-2zM225 255h2v2h-2zM227 254.5h2v2h-2zM227 254h2v2h-2zM230 254.5h2v2h-2zM231 254.5h2v2h-2zM232.5 254.5h2v2h-2zM252 255h2v2h-2zM257 254h2v2h-2zM259 254.5h2v2h-2zM259 255h2v2h-2zM260.5 254.5h2v2h-2zM262.5 254.5h2v2h-2zM153 255h2v2h-2zM153 256h2v2h-2zM157.5 256h2v2h-2zM160 255.5h2v2h-2zM163 255.5h2v2h-2zM164 255.5h2v2h-2zM165 256h2v2h-2zM166 255.5h2v2h-2zM172 255.5h2v2h-2zM173 255.5h2v2h-2zM175 255h2v2h-2zM188 255h2v2h-2zM189.5 255h2v2h-2zM192 255.5h2v2h-2zM194 255.5h2v2h-2zM197.5 256h2v2h-2zM200 255.5h2v2h-2zM201 255.5h2v2h-2zM201.5 255.5h2v2h-2zM201.5 255.5h2v2h-2zM201.5 256h2v2h-2zM204.5 255h2v2h-2zM205 255h2v2h-2zM205 256h2v2h-2zM207.5 255h2v2h-2zM209.5 255h2v2h-2zM210.5 255h2v2h-2zM219.5 255.5h2v2h-2zM222 255h2v2h-2zM225 255h2v2h-2zM225.5 255h2v2h-2zM225 256h2v2h-2zM225.5 256h2v2h-2zM228 255.5h2v2h-2zM229 255.5h2v2h-2zM236 255h2v2h-2zM236 255.5h2v2h-2zM239.5 256h2v2h-2zM247 255h2v2h-2zM249.5 255h2v2h-2zM258 255.5h2v2h-2zM263 255h2v2h-2zM144.5 256.5h2v2h-2zM156 256.5h2v2h-2zM159 257h2v2h-2zM162 256.5h2v2h-2zM163 256.5h2v2h-2zM165.5 256.5h2v2h-2zM166 256.5h2v2h-2zM166 256h2v2h-2zM168 256h2v2h-2zM167.5 256.5h2v2h-2zM169 256.5h2v2h-2zM170 257h2v2h-2zM170.5 256.5h2v2h-2zM186.5 256h2v2h-2zM190.5 257h2v2h-2zM195 257h2v2h-2zM196 257h2v2h-2zM196 256.5h2v2h-2zM197 256.5h2v2h-2zM199 256.5h2v2h-2zM201 256h2v2h-2zM204 257h2v2h-2zM208 256.5h2v2h-2zM212 256.5h2v2h-2zM220.5 256h2v2h-2zM220 257h2v2h-2zM221.5 256.5h2v2h-2zM223 256.5h2v2h-2zM222.5 256.5h2v2h-2zM224.5 256h2v2h-2zM225.5 257h2v2h-2zM228 256.5h2v2h-2zM231 256.5h2v2h-2zM235 257h2v2h-2zM235 257h2v2h-2zM236 256h2v2h-2zM244 256h2v2h-2zM248.5 256.5h2v2h-2zM251.5 256.5h2v2h-2zM256 256.5h2v2h-2zM260.5 256.5h2v2h-2zM262.5 256.5h2v2h-2zM156 257.5h2v2h-2zM156 257h2v2h-2zM157.5 257.5h2v2h-2zM159 257.5h2v2h-2zM162 258h2v2h-2zM162 258h2v2h-2zM162.5 257.5h2v2h-2zM163.5 257h2v2h-2zM166 257h2v2h-2zM166.5 258h2v2h-2zM175 257.5h2v2h-2zM176 257.5h2v2h-2zM177 257.5h2v2h-2zM194 257.5h2v2h-2zM195.5 258h2v2h-2zM196.5 257.5h2v2h-2zM197 258h2v2h-2zM202.5 257h2v2h-2zM206 257.5h2v2h-2zM206 258h2v2h-2zM207.5 257.5h2v2h-2zM211 257.5h2v2h-2zM219.5 257.5h2v2h-2zM223 257.5h2v2h-2zM226.5 258h2v2h-2zM228 257h2v2h-2zM229.5 257.5h2v2h-2zM237 257.5h2v2h-2zM239 257h2v2h-2zM240 257h2v2h-2zM246.5 257.5h2v2h-2zM248.5 257.5h2v2h-2zM251 257h2v2h-2zM252.5 258h2v2h-2zM253 257.5h2v2h-2zM254 257.5h2v2h-2zM254 257h2v2h-2zM254.5 257.5h2v2h-2zM258 257h2v2h-2zM260.5 257.5h2v2h-2zM154 258.5h2v2h-2zM154 258.5h2v2h-2zM154 258h2v2h-2zM156.5 258h2v2h-2zM156.5 258h2v2h-2zM161.5 259h2v2h-2zM161.5 258.5h2v2h-2zM162 258.5h2v2h-2zM161 259h2v2h-2zM163 258.5h2v2h-2zM164 258.5h2v2h-2zM165 259h2v2h-2zM166 258.5h2v2h-2zM166 259h2v2h-2zM167 258.5h2v2h-2zM167 258h2v2h-2zM169 258.5h2v2h-2zM171 258.5h2v2h-2zM172 258h2v2h-2zM193.5 258.5h2v2h-2zM194.5 258.5h2v2h-2zM195.5 259h2v2h-2zM203.5 259h2v2h-2zM208 259h2v2h-2zM209 258h2v2h-2zM214 259h2v2h-2zM220 258h2v2h-2zM225.5 258.5h2v2h-2zM230.5 259h2v2h-2zM233 258.5h2v2h-2zM233.5 258h2v2h-2zM233 259h2v2h-2zM234.5 258h2v2h-2zM236 258.5h2v2h-2zM239.5 259h2v2h-2zM239.5 258.5h2v2h-2zM240.5 259h2v2h-2zM241 258.5h2v2h-2zM243.5 258.5h2v2h-2zM250 259h2v2h-2zM249.5 258.5h2v2h-2zM250.5 258.5h2v2h-2zM251 258.5h2v2h-2zM252 258h2v2h-2zM256 258h2v2h-2zM154.5 259h2v2h-2zM155.5 260h2v2h-2zM158 259.5h2v2h-2zM157.5 259h2v2h-2zM158.5 259h2v2h-2zM161 259.5h2v2h-2zM164 259.5h2v2h-2zM164.5 259h2v2h-2zM164.5 260h2v2h-2zM165.5 260h2v2h-2zM166.5 259.5h2v2h-2zM166 259h2v2h-2zM170 259.5h2v2h-2zM170.5 259h2v2h-2zM171 260h2v2h-2zM171.5 260h2v2h-2zM172 259h2v2h-2zM175 259h2v2h-2zM193.5 259.5h2v2h-2zM196.5 260h2v2h-2zM199 259h2v2h-2zM199 259.5h2v2h-2zM200 259.5h2v2h-2zM200.5 260h2v2h-2zM200.5 259.5h2v2h-2zM211 259.5h2v2h-2zM213 259h2v2h-2zM214 260h2v2h-2zM219 260h2v2h-2zM220 259.5h2v2h-2zM219 260h2v2h-2zM221 259.5h2v2h-2zM223 259.5h2v2h-2zM226 259.5h2v2h-2zM227.5 260h2v2h-2zM228 260h2v2h-2zM230.5 259.5h2v2h-2zM235 259.5h2v2h-2zM235.5 259.5h2v2h-2zM236 259.5h2v2h-2zM236 260h2v2h-2zM242.5 259.5h2v2h-2zM244.5 259.5h2v2h-2zM244.5 259.5h2v2h-2zM249.5 260h2v2h-2zM250.5 260h2v2h-2zM250.5 259h2v2h-2zM252 259h2v2h-2zM251 260h2v2h-2zM253.5 259h2v2h-2zM253.5 259h2v2h-2zM255 259.5h2v2h-2zM152.5 260.5h2v2h-2zM156 260.5h2v2h-2zM156 260.5h2v2h-2zM157.5 260.5h2v2h-2zM160 260.5h2v2h-2zM161 261h2v2h-2zM163 260.5h2v2h-2zM163.5 261h2v2h-2zM164 261h2v2h-2zM165 260.5h2v2h-2zM165 260.5h2v2h-2zM174.5 260.5h2v2h-2zM201.5 260.5h2v2h-2zM201 260.5h2v2h-2zM202.5 260.5h2v2h-2zM204.5 260.5h2v2h-2zM205 261h2v2h-2zM218.5 260h2v2h-2zM220 260.5h2v2h-2zM221.5 261h2v2h-2zM222 260.5h2v2h-2zM225.5 261h2v2h-2zM225 260.5h2v2h-2zM225.5 260h2v2h-2zM229.5 260.5h2v2h-2zM230 260h2v2h-2zM232 260.5h2v2h-2zM234 260h2v2h-2zM234 260.5h2v2h-2zM236 261h2v2h-2zM235.5 260.5h2v2h-2zM235.5 260.5h2v2h-2zM240.5 260.5h2v2h-2zM240 260.5h2v2h-2zM248 260.5h2v2h-2zM247.5 260.5h2v2h-2zM250.5 261h2v2h-2zM250 260.5h2v2h-2zM253 260h2v2h-2zM253.5 260.5h2v2h-2zM253 260.5h2v2h-2zM255 260h2v2h-2zM154.5 261.5h2v2h-2zM156 261.5h2v2h-2zM155.5 261.5h2v2h-2zM158 261.5h2v2h-2zM160 262h2v2h-2zM160 261h2v2h-2zM161.5 261.5h2v2h-2zM161.5 261.5h2v2h-2zM163 261h2v2h-2zM163.5 262h2v2h-2zM164.5 261h2v2h-2zM170.5 262h2v2h-2zM170.5 261h2v2h-2zM171.5 261.5h2v2h-2zM172 261.5h2v2h-2zM174.5 262h2v2h-2zM175.5 261.5h2v2h-2zM194 261.5h2v2h-2zM194 261h2v2h-2zM194.5 261h2v2h-2zM200.5 261.5h2v2h-2zM202 262h2v2h-2zM202.5 261.5h2v2h-2zM208.5 261h2v2h-2zM213.5 261h2v2h-2zM216.5 261h2v2h-2zM216.5 261h2v2h-2zM219 262h2v2h-2zM220.5 261h2v2h-2zM221.5 261.5h2v2h-2zM221.5 261.5h2v2h-2zM229.5 261.5h2v2h-2zM229.5 262h2v2h-2zM231 261.5h2v2h-2zM232.5 261h2v2h-2zM235 261.5h2v2h-2zM234.5 262h2v2h-2zM237 262h2v2h-2zM238.5 262h2v2h-2zM238.5 261.5h2v2h-2zM239 261h2v2h-2zM239 261.5h2v2h-2zM240.5 262h2v2h-2zM241 261h2v2h-2zM244.5 261.5h2v2h-2zM245.5 261.5h2v2h-2zM246.5 261h2v2h-2zM151 263h2v2h-2zM151.5 262.5h2v2h-2zM153.5 263h2v2h-2zM156.5 262.5h2v2h-2zM157 262.5h2v2h-2zM158.5 262.5h2v2h-2zM159 263h2v2h-2zM158.5 263h2v2h-2zM160 262.5h2v2h-2zM159.5 263h2v2h-2zM161 262h2v2h-2zM162.5 262h2v2h-2zM164 263h2v2h-2zM163.5 262.5h2v2h-2zM167 262.5h2v2h-2zM174.5 263h2v2h-2zM194 262h2v2h-2zM194.5 262.5h2v2h-2zM194 262h2v2h-2zM196.5 262.5h2v2h-2zM202 262.5h2v2h-2zM203 262.5h2v2h-2zM202.5 262.5h2v2h-2zM204 262.5h2v2h-2zM205 262.5h2v2h-2zM208 262.5h2v2h-2zM222.5 263h2v2h-2zM223.5 263h2v2h-2zM226.5 262h2v2h-2zM229 262.5h2v2h-2zM232.5 263h2v2h-2zM234 262h2v2h-2zM234 262h2v2h-2zM236 262.5h2v2h-2zM239.5 262h2v2h-2zM241 262.5h2v2h-2zM245 262.5h2v2h-2zM248 263h2v2h-2zM249.5 263h2v2h-2zM253 262.5h2v2h-2zM253 262.5h2v2h-2zM257 262h2v2h-2zM262 262.5h2v2h-2zM143.5 263h2v2h-2zM149.5 263.5h2v2h-2zM154.5 264h2v2h-2zM155.5 264h2v2h-2zM155.5 263.5h2v2h-2zM156.5 263.5h2v2h-2zM160.5 263.5h2v2h-2zM162 263.5h2v2h-2zM161 263.5h2v2h-2zM161.5 263.5h2v2h-2zM163 263h2v2h-2zM162 263h2v2h-2zM164.5 263.5h2v2h-2zM165.5 264h2v2h-2zM167.5 263.5h2v2h-2zM170 264h2v2h-2zM173 264h2v2h-2zM174.5 263h2v2h-2zM175 263.5h2v2h-2zM187.5 263.5h2v2h-2zM192.5 263h2v2h-2zM193.5 264h2v2h-2zM196 264h2v2h-2zM198 263h2v2h-2zM203.5 263.5h2v2h-2zM205 263.5h2v2h-2zM216.5 263h2v2h-2zM220.5 264h2v2h-2zM223 263.5h2v2h-2zM222 263.5h2v2h-2zM224 263.5h2v2h-2zM228 263h2v2h-2zM231 263.5h2v2h-2zM237 264h2v2h-2zM237.5 263.5h2v2h-2zM238 263.5h2v2h-2zM238 263h2v2h-2zM239.5 264h2v2h-2zM239.5 264h2v2h-2zM241.5 263h2v2h-2zM245.5 263.5h2v2h-2zM246.5 264h2v2h-2zM248 263h2v2h-2zM248 263.5h2v2h-2zM251.5 263.5h2v2h-2zM251.5 263h2v2h-2zM255.5 263.5h2v2h-2zM145.5 264.5h2v2h-2zM149.5 264.5h2v2h-2zM153 264h2v2h-2zM153.5 264.5h2v2h-2zM153.5 264h2v2h-2zM154.5 265h2v2h-2zM157.5 264h2v2h-2zM158.5 264h2v2h-2zM159 264h2v2h-2zM159.5 264.5h2v2h-2zM160 265h2v2h-2zM160.5 264.5h2v2h-2zM161.5 264h2v2h-2zM162 264.5h2v2h-2zM162 264h2v2h-2zM164.5 264.5h2v2h-2zM165.5 264.5h2v2h-2zM166.5 264h2v2h-2zM169 264.5h2v2h-2zM172.5 264.5h2v2h-2zM172.5 265h2v2h-2zM172.5 264.5h2v2h-2zM173 264.5h2v2h-2zM174.5 264.5h2v2h-2zM188 264h2v2h-2zM192.5 264.5h2v2h-2zM197 264h2v2h-2zM197 264.5h2v2h-2zM202 264.5h2v2h-2zM202.5 264h2v2h-2zM203.5 264.5h2v2h-2zM208 264h2v2h-2zM209 264h2v2h-2zM216 264.5h2v2h-2zM219 264.5h2v2h-2zM218 264.5h2v2h-2zM221.5 264.5h2v2h-2zM222 264h2v2h-2zM222.5 264h2v2h-2zM222 264.5h2v2h-2zM224.5 264h2v2h-2zM225 264.5h2v2h-2zM226 264h2v2h-2zM226.5 264.5h2v2h-2zM232.5 265h2v2h-2zM232.5 264.5h2v2h-2zM233.5 265h2v2h-2zM236.5 264.5h2v2h-2zM237 264h2v2h-2zM237 265h2v2h-2zM242.5 264.5h2v2h-2zM242 264.5h2v2h-2zM242 265h2v2h-2zM243.5 264h2v2h-2zM244 264.5h2v2h-2zM245 265h2v2h-2zM250 264.5h2v2h-2zM253 264.5h2v2h-2zM146 266h2v2h-2zM147 266h2v2h-2zM148.5 266h2v2h-2zM149.5 266h2v2h-2zM153.5 266h2v2h-2zM155.5 265h2v2h-2zM156.5 265.5h2v2h-2zM158 265.5h2v2h-2zM159 265.5h2v2h-2zM160.5 265.5h2v2h-2zM160 265.5h2v2h-2zM162.5 265.5h2v2h-2zM165.5 265h2v2h-2zM167 266h2v2h-2zM167 266h2v2h-2zM171 265.5h2v2h-2zM173.5 265.5h2v2h-2zM183.5 265.5h2v2h-2zM188.5 265.5h2v2h-2zM190 265.5h2v2h-2zM193.5 265h2v2h-2zM193 265.5h2v2h-2zM194 265h2v2h-2zM194.5 265.5h2v2h-2zM197 266h2v2h-2zM197 265.5h2v2h-2zM198 266h2v2h-2zM199 266h2v2h-2zM205 266h2v2h-2zM218 265h2v2h-2zM218.5 265h2v2h-2zM219.5 266h2v2h-2zM239 265.5h2v2h-2zM240 265.5h2v2h-2zM240 265h2v2h-2zM251 266h2v2h-2zM264 265h2v2h-2zM144 266h2v2h-2zM150 266h2v2h-2zM151.5 266.5h2v2h-2zM152 267h2v2h-2zM158 267h2v2h-2zM158 266.5h2v2h-2zM158.5 266h2v2h-2zM158.5 266.5h2v2h-2zM161 267h2v2h-2zM161 266h2v2h-2zM162 266h2v2h-2zM161 266.5h2v2h-2zM164 267h2v2h-2zM163.5 266.5h2v2h-2zM166 266.5h2v2h-2zM166 266.5h2v2h-2zM166.5 266.5h2v2h-2zM167 266h2v2h-2zM170 267h2v2h-2zM171 267h2v2h-2zM171 266.5h2v2h-2zM172.5 266h2v2h-2zM175 266.5h2v2h-2zM175 266.5h2v2h-2zM188.5 266.5h2v2h-2zM188.5 266.5h2v2h-2zM194 266.5h2v2h-2zM201.5 267h2v2h-2zM203 266.5h2v2h-2zM203.5 266h2v2h-2zM205.5 266h2v2h-2zM205.5 266h2v2h-2zM219 266h2v2h-2zM219 266h2v2h-2zM221.5 266.5h2v2h-2zM222 266.5h2v2h-2zM226 266.5h2v2h-2zM239 266h2v2h-2zM241 266.5h2v2h-2zM249 267h2v2h-2zM250.5 266.5h2v2h-2zM252 266.5h2v2h-2zM257.5 267h2v2h-2zM260 266.5h2v2h-2zM148 267.5h2v2h-2zM147.5 267.5h2v2h-2zM148 267.5h2v2h-2zM152 267h2v2h-2zM151.5 267.5h2v2h-2zM152.5 268h2v2h-2zM153 267h2v2h-2zM155.5 268h2v2h-2zM155.5 267.5h2v2h-2zM155 268h2v2h-2zM156 267.5h2v2h-2zM157.5 267.5h2v2h-2zM159.5 268h2v2h-2zM159.5 267.5h2v2h-2zM161.5 268h2v2h-2zM161.5 267.5h2v2h-2zM163 267h2v2h-2zM162.5 267.5h2v2h-2zM166 267.5h2v2h-2zM165.5 267.5h2v2h-2zM166.5 267h2v2h-2zM166.5 267h2v2h-2zM169 267.5h2v2h-2zM168.5 267h2v2h-2zM171 267.5h2v2h-2zM173 267.5h2v2h-2zM175 267.5h2v2h-2zM178.5 267.5h2v2h-2zM182.5 267.5h2v2h-2zM185 267.5h2v2h-2zM186 268h2v2h-2zM185.5 267.5h2v2h-2zM186 267.5h2v2h-2zM187.5 267h2v2h-2zM188 267.5h2v2h-2zM190 267.5h2v2h-2zM191.5 267.5h2v2h-2zM193.5 267h2v2h-2zM197 267.5h2v2h-2zM197 267.5h2v2h-2zM196.5 267.5h2v2h-2zM197.5 268h2v2h-2zM199.5 267.5h2v2h-2zM199.5 268h2v2h-2zM202 267.5h2v2h-2zM204 267.5h2v2h-2zM204 267h2v2h-2zM205 267.5h2v2h-2zM218.5 267.5h2v2h-2zM222 267.5h2v2h-2zM221 267.5h2v2h-2zM221.5 267.5h2v2h-2zM221.5 267.5h2v2h-2zM225.5 267.5h2v2h-2zM225.5 267.5h2v2h-2zM226 267.5h2v2h-2zM230 267h2v2h-2zM235 267.5h2v2h-2zM237.5 267.5h2v2h-2zM242 267h2v2h-2zM246.5 267.5h2v2h-2zM248.5 267h2v2h-2zM249.5 267.5h2v2h-2zM250.5 267h2v2h-2zM252.5 267.5h2v2h-2zM256 267.5h2v2h-2zM257 267.5h2v2h-2zM257 268h2v2h-2zM259 267.5h2v2h-2zM259 267.5h2v2h-2zM259.5 268h2v2h-2zM260.5 268h2v2h-2zM260 267h2v2h-2zM261 267h2v2h-2zM264.5 268h2v2h-2zM150 269h2v2h-2zM149.5 269h2v2h-2zM151.5 268.5h2v2h-2zM151 268h2v2h-2zM152.5 268h2v2h-2zM153.5 269h2v2h-2zM154 268.5h2v2h-2zM155 268h2v2h-2zM154 268.5h2v2h-2zM155 269h2v2h-2zM155.5 269h2v2h-2zM157 269h2v2h-2zM158.5 268.5h2v2h-2zM159 269h2v2h-2zM160.5 268h2v2h-2zM162 268h2v2h-2zM162 268.5h2v2h-2zM162.5 268h2v2h-2zM163.5 269h2v2h-2zM165.5 269h2v2h-2zM172 268h2v2h-2zM172 268.5h2v2h-2zM186 268.5h2v2h-2zM189.5 268h2v2h-2zM191.5 268.5h2v2h-2zM198 268.5h2v2h-2zM200 268.5h2v2h-2zM201 268.5h2v2h-2zM203 268.5h2v2h-2zM207 268h2v2h-2zM206.5 268.5h2v2h-2zM210.5 268.5h2v2h-2zM218 269h2v2h-2zM217 268.5h2v2h-2zM219 268.5h2v2h-2zM219 268h2v2h-2zM222 268.5h2v2h-2zM224 268.5h2v2h-2zM228.5 268h2v2h-2zM234.5 268.5h2v2h-2zM239.5 268.5h2v2h-2zM239.5 268.5h2v2h-2zM239.5 268.5h2v2h-2zM240.5 268.5h2v2h-2zM240.5 268.5h2v2h-2zM240.5 268.5h2v2h-2zM242 268h2v2h-2zM243 268.5h2v2h-2zM252 268.5h2v2h-2zM256 268.5h2v2h-2zM256 269h2v2h-2zM258 268h2v2h-2zM259.5 269h2v2h-2zM260.5 268h2v2h-2zM150 269.5h2v2h-2zM152 269.5h2v2h-2zM156 269.5h2v2h-2zM156 269h2v2h-2zM159.5 270h2v2h-2zM164.5 270h2v2h-2zM166 269.5h2v2h-2zM167 269h2v2h-2zM172.5 269h2v2h-2zM174 269.5h2v2h-2zM174.5 269.5h2v2h-2zM189 269.5h2v2h-2zM188.5 269.5h2v2h-2zM190.5 269.5h2v2h-2zM192.5 269.5h2v2h-2zM202 269.5h2v2h-2zM215.5 269h2v2h-2zM218.5 270h2v2h-2zM219.5 269.5h2v2h-2zM219.5 269.5h2v2h-2zM225.5 270h2v2h-2zM227 269.5h2v2h-2zM226.5 269h2v2h-2zM232.5 269.5h2v2h-2zM233 270h2v2h-2zM235.5 269h2v2h-2zM239.5 270h2v2h-2zM243 270h2v2h-2zM243 269.5h2v2h-2zM245.5 270h2v2h-2zM248.5 269.5h2v2h-2zM250 269.5h2v2h-2zM252 269h2v2h-2zM256.5 270h2v2h-2zM260 269.5h2v2h-2zM260 269h2v2h-2zM261.5 269.5h2v2h-2zM262 270h2v2h-2zM261.5 269.5h2v2h-2zM150.5 271h2v2h-2zM153 270h2v2h-2zM152.5 270h2v2h-2zM152.5 270h2v2h-2zM154 270.5h2v2h-2zM154.5 270h2v2h-2zM155.5 270h2v2h-2zM156 270.5h2v2h-2zM155 270.5h2v2h-2zM158.5 271h2v2h-2zM159.5 270.5h2v2h-2zM160.5 271h2v2h-2zM161.5 270h2v2h-2zM162.5 270.5h2v2h-2zM163.5 271h2v2h-2zM165.5 271h2v2h-2zM167 270h2v2h-2zM168 270.5h2v2h-2zM170 270h2v2h-2zM171 270.5h2v2h-2zM183 270.5h2v2h-2zM185 271h2v2h-2zM187.5 270.5h2v2h-2zM189.5 271h2v2h-2zM192 270.5h2v2h-2zM192 270h2v2h-2zM195.5 270.5h2v2h-2zM195.5 270.5h2v2h-2zM223 271h2v2h-2zM234.5 271h2v2h-2zM235 270.5h2v2h-2zM236 270.5h2v2h-2zM237 270.5h2v2h-2zM237 270.5h2v2h-2zM239.5 270.5h2v2h-2zM241.5 271h2v2h-2zM243 271h2v2h-2zM248 270h2v2h-2zM248 270h2v2h-2zM248 270.5h2v2h-2zM249 271h2v2h-2zM251 270h2v2h-2zM256.5 271h2v2h-2zM257.5 271h2v2h-2zM260.5 270.5h2v2h-2zM141.5 271.5h2v2h-2zM142 271.5h2v2h-2zM144 272h2v2h-2zM149 271.5h2v2h-2zM149.5 272h2v2h-2zM149.5 272h2v2h-2zM154.5 271.5h2v2h-2zM154 271.5h2v2h-2zM155.5 272h2v2h-2zM167 271.5h2v2h-2zM168 271.5h2v2h-2zM167.5 271.5h2v2h-2zM169.5 272h2v2h-2zM169.5 271h2v2h-2zM171 271.5h2v2h-2zM172.5 271h2v2h-2zM182 271.5h2v2h-2zM188 271.5h2v2h-2zM189.5 271.5h2v2h-2zM189.5 271h2v2h-2zM191 271.5h2v2h-2zM191.5 271.5h2v2h-2zM194.5 271h2v2h-2zM195.5 271.5h2v2h-2zM195.5 271.5h2v2h-2zM196.5 271.5h2v2h-2zM198 271.5h2v2h-2zM200.5 271h2v2h-2zM201.5 271h2v2h-2zM201.5 271h2v2h-2zM204 271.5h2v2h-2zM205.5 271.5h2v2h-2zM209.5 271.5h2v2h-2zM216.5 271h2v2h-2zM217.5 271h2v2h-2zM220 271.5h2v2h-2zM224.5 271.5h2v2h-2zM226.5 271h2v2h-2zM235 271h2v2h-2zM238 271.5h2v2h-2zM239 271h2v2h-2zM240 271.5h2v2h-2zM241 271h2v2h-2zM244 272h2v2h-2zM244.5 271.5h2v2h-2zM251.5 271h2v2h-2zM253 271.5h2v2h-2zM258 271h2v2h-2zM259.5 271.5h2v2h-2zM144.5 272.5h2v2h-2zM147.5 273h2v2h-2zM148 273h2v2h-2zM150 272.5h2v2h-2zM149.5 273h2v2h-2zM151.5 272h2v2h-2zM153.5 272h2v2h-2zM153.5 273h2v2h-2zM153 272.5h2v2h-2zM154.5 272h2v2h-2zM154 272h2v2h-2zM156.5 273h2v2h-2zM166 272.5h2v2h-2zM170.5 272.5h2v2h-2zM174.5 273h2v2h-2zM180 272.5h2v2h-2zM184 273h2v2h-2zM185 273h2v2h-2zM186 273h2v2h-2zM190.5 272.5h2v2h-2zM190 273h2v2h-2zM191.5 272.5h2v2h-2zM192.5 272.5h2v2h-2zM193 272h2v2h-2zM195 272.5h2v2h-2zM195 272.5h2v2h-2zM195.5 272h2v2h-2zM200 272h2v2h-2zM205.5 273h2v2h-2zM210.5 272.5h2v2h-2zM210 272.5h2v2h-2zM211 272.5h2v2h-2zM219.5 272h2v2h-2zM221.5 272.5h2v2h-2zM233 272.5h2v2h-2zM235.5 272.5h2v2h-2zM238.5 272.5h2v2h-2zM239.5 272h2v2h-2zM240.5 272.5h2v2h-2zM241.5 272h2v2h-2zM243.5 272.5h2v2h-2zM246 272h2v2h-2zM250 272.5h2v2h-2zM257 273h2v2h-2zM260.5 273h2v2h-2zM135.5 273.5h2v2h-2zM147 273.5h2v2h-2zM150.5 273.5h2v2h-2zM152 273h2v2h-2zM151.5 273h2v2h-2zM155.5 273.5h2v2h-2zM156.5 273.5h2v2h-2zM165.5 273.5h2v2h-2zM167.5 273.5h2v2h-2zM171 274h2v2h-2zM170.5 273.5h2v2h-2zM172.5 274h2v2h-2zM178.5 274h2v2h-2zM181 273.5h2v2h-2zM181 273.5h2v2h-2zM182.5 274h2v2h-2zM183.5 273.5h2v2h-2zM188 274h2v2h-2zM192 274h2v2h-2zM191.5 273.5h2v2h-2zM192 274h2v2h-2zM194.5 274h2v2h-2zM195.5 273.5h2v2h-2zM195.5 273.5h2v2h-2zM196.5 273h2v2h-2zM196.5 274h2v2h-2zM203 273.5h2v2h-2zM203.5 273.5h2v2h-2zM210 273.5h2v2h-2zM213.5 273.5h2v2h-2zM234.5 273.5h2v2h-2zM241.5 273.5h2v2h-2zM242.5 273.5h2v2h-2zM243.5 273h2v2h-2zM248 273.5h2v2h-2zM251 273h2v2h-2zM256 273.5h2v2h-2zM258.5 274h2v2h-2zM258 273.5h2v2h-2zM261 273.5h2v2h-2zM262 274h2v2h-2zM262 274h2v2h-2zM138.5 275h2v2h-2zM139.5 274.5h2v2h-2zM141 274h2v2h-2zM148.5 275h2v2h-2zM149 275h2v2h-2zM151 274.5h2v2h-2zM156.5 274.5h2v2h-2zM156.5 274.5h2v2h-2zM157 274h2v2h-2zM159.5 274.5h2v2h-2zM171 274.5h2v2h-2zM178 274.5h2v2h-2zM180 274h2v2h-2zM181 274h2v2h-2zM181.5 274.5h2v2h-2zM189 274.5h2v2h-2zM190 275h2v2h-2zM190.5 275h2v2h-2zM193 274.5h2v2h-2zM196.5 274.5h2v2h-2zM198 274h2v2h-2zM203.5 274.5h2v2h-2zM211.5 274.5h2v2h-2zM211.5 275h2v2h-2zM213 275h2v2h-2zM216 274h2v2h-2zM218.5 274.5h2v2h-2zM218.5 274.5h2v2h-2zM221.5 274.5h2v2h-2zM221.5 274h2v2h-2zM222 274.5h2v2h-2zM223.5 274.5h2v2h-2zM234.5 274h2v2h-2zM236 274.5h2v2h-2zM237 274h2v2h-2zM236.5 274h2v2h-2zM236.5 274.5h2v2h-2zM237 274.5h2v2h-2zM238 274h2v2h-2zM240.5 275h2v2h-2zM242 274h2v2h-2zM243 274h2v2h-2zM243.5 274.5h2v2h-2zM244 274h2v2h-2zM245.5 274.5h2v2h-2zM245 274h2v2h-2zM246.5 275h2v2h-2zM252 275h2v2h-2zM257 275h2v2h-2zM257 274.5h2v2h-2zM259 274.5h2v2h-2zM260 274.5h2v2h-2zM260 274.5h2v2h-2zM261 274.5h2v2h-2zM262.5 274.5h2v2h-2zM135.5 275.5h2v2h-2zM141.5 275.5h2v2h-2zM148.5 275.5h2v2h-2zM149 275.5h2v2h-2zM151.5 276h2v2h-2zM155 275.5h2v2h-2zM154.5 275.5h2v2h-2zM157 275.5h2v2h-2zM158 275.5h2v2h-2zM157 276h2v2h-2zM158 276h2v2h-2zM163.5 275.5h2v2h-2zM169 276h2v2h-2zM170 275h2v2h-2zM176.5 275.5h2v2h-2zM180.5 276h2v2h-2zM182 275.5h2v2h-2zM186.5 275.5h2v2h-2zM188.5 275h2v2h-2zM189.5 276h2v2h-2zM193.5 275h2v2h-2zM193.5 275.5h2v2h-2zM194 276h2v2h-2zM196 275h2v2h-2zM196 275.5h2v2h-2zM197 275.5h2v2h-2zM197 276h2v2h-2zM198.5 275.5h2v2h-2zM200.5 275h2v2h-2zM202 276h2v2h-2zM205 276h2v2h-2zM205.5 275.5h2v2h-2zM209 276h2v2h-2zM210.5 276h2v2h-2zM213 275h2v2h-2zM213 276h2v2h-2zM213.5 275.5h2v2h-2zM215 275.5h2v2h-2zM217.5 276h2v2h-2zM218.5 276h2v2h-2zM219.5 275.5h2v2h-2zM220 275.5h2v2h-2zM221 275h2v2h-2zM220.5 276h2v2h-2zM231.5 276h2v2h-2zM235.5 275.5h2v2h-2zM235.5 275.5h2v2h-2zM237 275h2v2h-2zM237 275h2v2h-2zM237 275h2v2h-2zM238.5 275.5h2v2h-2zM240.5 275h2v2h-2zM242 276h2v2h-2zM244.5 275.5h2v2h-2zM259.5 275.5h2v2h-2zM259.5 275.5h2v2h-2zM260.5 275.5h2v2h-2zM260.5 275.5h2v2h-2zM135.5 277h2v2h-2zM138 276.5h2v2h-2zM148 276.5h2v2h-2zM152.5 276.5h2v2h-2zM152.5 277h2v2h-2zM155 276h2v2h-2zM155 276.5h2v2h-2zM156.5 276.5h2v2h-2zM157 276.5h2v2h-2zM157 276.5h2v2h-2zM158.5 276.5h2v2h-2zM164.5 276.5h2v2h-2zM168.5 276h2v2h-2zM169 276.5h2v2h-2zM176 276.5h2v2h-2zM177.5 277h2v2h-2zM179.5 276h2v2h-2zM180.5 276.5h2v2h-2zM182.5 276.5h2v2h-2zM184.5 277h2v2h-2zM184.5 276h2v2h-2zM184 276h2v2h-2zM186.5 276.5h2v2h-2zM187.5 276.5h2v2h-2zM189.5 277h2v2h-2zM190.5 277h2v2h-2zM190.5 276.5h2v2h-2zM196 276.5h2v2h-2zM195.5 276.5h2v2h-2zM196.5 276.5h2v2h-2zM197 276.5h2v2h-2zM198 276.5h2v2h-2zM197.5 276.5h2v2h-2zM204 276.5h2v2h-2zM211 277h2v2h-2zM211.5 276h2v2h-2zM212 276h2v2h-2zM214.5 276h2v2h-2zM215.5 276h2v2h-2zM217.5 277h2v2h-2zM217.5 277h2v2h-2zM234.5 276.5h2v2h-2zM234.5 276.5h2v2h-2zM235.5 276.5h2v2h-2zM237 277h2v2h-2zM239.5 276.5h2v2h-2zM241 276.5h2v2h-2zM242.5 276.5h2v2h-2zM243.5 276h2v2h-2zM244 277h2v2h-2zM243 276.5h2v2h-2zM247.5 276.5h2v2h-2zM247 276.5h2v2h-2zM248.5 276.5h2v2h-2zM250 276.5h2v2h-2zM251.5 276.5h2v2h-2zM256.5 277h2v2h-2zM260.5 276h2v2h-2zM260 276.5h2v2h-2zM261.5 277h2v2h-2zM138.5 278h2v2h-2zM140 277.5h2v2h-2zM141 277.5h2v2h-2zM144 277.5h2v2h-2zM146.5 277.5h2v2h-2zM148 277h2v2h-2zM149.5 278h2v2h-2zM149.5 277h2v2h-2zM150.5 277h2v2h-2zM152 277.5h2v2h-2zM151 277h2v2h-2zM152.5 277.5h2v2h-2zM152.5 277h2v2h-2zM155 277.5h2v2h-2zM155 277h2v2h-2zM157 277h2v2h-2zM162.5 277h2v2h-2zM164 277.5h2v2h-2zM170 277h2v2h-2zM169.5 277.5h2v2h-2zM170 277h2v2h-2zM173.5 277.5h2v2h-2zM173 277.5h2v2h-2zM174.5 277.5h2v2h-2zM175.5 277.5h2v2h-2zM176 277.5h2v2h-2zM176 277.5h2v2h-2zM180.5 277.5h2v2h-2zM183 277.5h2v2h-2zM184.5 277h2v2h-2zM184 277.5h2v2h-2zM185.5 278h2v2h-2zM186 278h2v2h-2zM188 277h2v2h-2zM187.5 277.5h2v2h-2zM189 277.5h2v2h-2zM192 277.5h2v2h-2zM194 277.5h2v2h-2zM195.5 277.5h2v2h-2zM196 277.5h2v2h-2zM197.5 277.5h2v2h-2zM201.5 277h2v2h-2zM209 277h2v2h-2zM209 277h2v2h-2zM210 277.5h2v2h-2zM211 277.5h2v2h-2zM211.5 278h2v2h-2zM212.5 277.5h2v2h-2zM212.5 277.5h2v2h-2zM218 277h2v2h-2zM221 277.5h2v2h-2zM221 277.5h2v2h-2zM231.5 277h2v2h-2zM234.5 278h2v2h-2zM236.5 277.5h2v2h-2zM241 277.5h2v2h-2zM241.5 278h2v2h-2zM244.5 278h2v2h-2zM244 277h2v2h-2zM244 277h2v2h-2zM245.5 277.5h2v2h-2zM248 278h2v2h-2zM254.5 277.5h2v2h-2zM258.5 278h2v2h-2zM260.5 278h2v2h-2zM260.5 277.5h2v2h-2zM261.5 277.5h2v2h-2zM263 277h2v2h-2zM142 278.5h2v2h-2zM143.5 278.5h2v2h-2zM144 278h2v2h-2zM150.5 278.5h2v2h-2zM151 279h2v2h-2zM156 279h2v2h-2zM158 278h2v2h-2zM162.5 279h2v2h-2zM164 278h2v2h-2zM169 278h2v2h-2zM170.5 278h2v2h-2zM174 278.5h2v2h-2zM174 279h2v2h-2zM175.5 278.5h2v2h-2zM175 278h2v2h-2zM177 279h2v2h-2zM179 278.5h2v2h-2zM180 278h2v2h-2zM180.5 278.5h2v2h-2zM181.5 278h2v2h-2zM187.5 278h2v2h-2zM189 278h2v2h-2zM188 278.5h2v2h-2zM189 279h2v2h-2zM190 278.5h2v2h-2zM192 278.5h2v2h-2zM193.5 279h2v2h-2zM193.5 278.5h2v2h-2zM196.5 278.5h2v2h-2zM196.5 278.5h2v2h-2zM197.5 278h2v2h-2zM197 278.5h2v2h-2zM199.5 279h2v2h-2zM210.5 279h2v2h-2zM212.5 278h2v2h-2zM214 278.5h2v2h-2zM214 278.5h2v2h-2zM214.5 279h2v2h-2zM214.5 278h2v2h-2zM218 278.5h2v2h-2zM221 279h2v2h-2zM221.5 278h2v2h-2zM235 278.5h2v2h-2zM237.5 279h2v2h-2zM237 278.5h2v2h-2zM240 278.5h2v2h-2zM241 278h2v2h-2zM242.5 278.5h2v2h-2zM246 278h2v2h-2zM246 278.5h2v2h-2zM258.5 278.5h2v2h-2zM258 279h2v2h-2zM261 278h2v2h-2zM136 279h2v2h-2zM140 279.5h2v2h-2zM148 279h2v2h-2zM148.5 279.5h2v2h-2zM150 279.5h2v2h-2zM152.5 280h2v2h-2zM154.5 279.5h2v2h-2zM155.5 279h2v2h-2zM156 279.5h2v2h-2zM165 279h2v2h-2zM171 279.5h2v2h-2zM179 279.5h2v2h-2zM179.5 280h2v2h-2zM180.5 279.5h2v2h-2zM183.5 280h2v2h-2zM185 280h2v2h-2zM187.5 280h2v2h-2zM190.5 279.5h2v2h-2zM191 279.5h2v2h-2zM193.5 279.5h2v2h-2zM194 279.5h2v2h-2zM194.5 279.5h2v2h-2zM196.5 280h2v2h-2zM197 279.5h2v2h-2zM203.5 279h2v2h-2zM208.5 279h2v2h-2zM211.5 279.5h2v2h-2zM221 279h2v2h-2zM220.5 279h2v2h-2zM230 279.5h2v2h-2zM237 279.5h2v2h-2zM241.5 279.5h2v2h-2zM241.5 279h2v2h-2zM241 279.5h2v2h-2zM244 279h2v2h-2zM244 279.5h2v2h-2zM244.5 280h2v2h-2zM246.5 280h2v2h-2zM248 279.5h2v2h-2zM248 279.5h2v2h-2zM251 279.5h2v2h-2zM254.5 280h2v2h-2zM255 279.5h2v2h-2zM257 279h2v2h-2zM257 280h2v2h-2zM258.5 279.5h2v2h-2zM261.5 279.5h2v2h-2zM262.5 279.5h2v2h-2zM267 280h2v2h-2zM267 279h2v2h-2zM133.5 281h2v2h-2zM140 281h2v2h-2zM142 281h2v2h-2zM144.5 281h2v2h-2zM147.5 280h2v2h-2zM150 280.5h2v2h-2zM152.5 281h2v2h-2zM154 281h2v2h-2zM153.5 280.5h2v2h-2zM154.5 280.5h2v2h-2zM155 280.5h2v2h-2zM155 281h2v2h-2zM154.5 280.5h2v2h-2zM156 280.5h2v2h-2zM157 281h2v2h-2zM159.5 280.5h2v2h-2zM159 280.5h2v2h-2zM160.5 280.5h2v2h-2zM162.5 280h2v2h-2zM166.5 280.5h2v2h-2zM168.5 280.5h2v2h-2zM169.5 280h2v2h-2zM173 280.5h2v2h-2zM174 280.5h2v2h-2zM177 280.5h2v2h-2zM178.5 280.5h2v2h-2zM179 280.5h2v2h-2zM179 280.5h2v2h-2zM183 281h2v2h-2zM187 280.5h2v2h-2zM187 281h2v2h-2zM193 280h2v2h-2zM194 280.5h2v2h-2zM194 281h2v2h-2zM194.5 280h2v2h-2zM196 281h2v2h-2zM197.5 280h2v2h-2zM197.5 280h2v2h-2zM198.5 280.5h2v2h-2zM198.5 281h2v2h-2zM200 280.5h2v2h-2zM207.5 280h2v2h-2zM209 280h2v2h-2zM210.5 281h2v2h-2zM211.5 280.5h2v2h-2zM214.5 280.5h2v2h-2zM218.5 280.5h2v2h-2zM219 280.5h2v2h-2zM221 280h2v2h-2zM222.5 280.5h2v2h-2zM225.5 280.5h2v2h-2zM238 281h2v2h-2zM253.5 280.5h2v2h-2zM253.5 280.5h2v2h-2zM254.5 281h2v2h-2zM255.5 280h2v2h-2zM257.5 281h2v2h-2zM258 280.5h2v2h-2zM259.5 280.5h2v2h-2zM259 280.5h2v2h-2zM283 280.5h2v2h-2zM290.5 281h2v2h-2zM139.5 282h2v2h-2zM146 281.5h2v2h-2zM148.5 281h2v2h-2zM150 281.5h2v2h-2zM151 281.5h2v2h-2zM152 281.5h2v2h-2zM154 281h2v2h-2zM154.5 281.5h2v2h-2zM156 281h2v2h-2zM158.5 281.5h2v2h-2zM160 281.5h2v2h-2zM163 282h2v2h-2zM168 281.5h2v2h-2zM170 281.5h2v2h-2zM172 281.5h2v2h-2zM178 281.5h2v2h-2zM181.5 281.5h2v2h-2zM184 281.5h2v2h-2zM184 281.5h2v2h-2zM183.5 281h2v2h-2zM186.5 281h2v2h-2zM189 282h2v2h-2zM188 282h2v2h-2zM191 281.5h2v2h-2zM193 281.5h2v2h-2zM194.5 281.5h2v2h-2zM195 281h2v2h-2zM196 281.5h2v2h-2zM197.5 281.5h2v2h-2zM198 281.5h2v2h-2zM198.5 281.5h2v2h-2zM199.5 281.5h2v2h-2zM200.5 281.5h2v2h-2zM202 282h2v2h-2zM203 282h2v2h-2zM202 281h2v2h-2zM203.5 281.5h2v2h-2zM205 281.5h2v2h-2zM205 281.5h2v2h-2zM206.5 281.5h2v2h-2zM208.5 281.5h2v2h-2zM211.5 281h2v2h-2zM212.5 281.5h2v2h-2zM216.5 281.5h2v2h-2zM216.5 281h2v2h-2zM217 282h2v2h-2zM218.5 282h2v2h-2zM225 281h2v2h-2zM234.5 281.5h2v2h-2zM235 282h2v2h-2zM237.5 281h2v2h-2zM238.5 281.5h2v2h-2zM242 282h2v2h-2zM242 281h2v2h-2zM244 281h2v2h-2zM243.5 281.5h2v2h-2zM244 282h2v2h-2zM244.5 281.5h2v2h-2zM246 281.5h2v2h-2zM245 282h2v2h-2zM246.5 281.5h2v2h-2zM248 282h2v2h-2zM248 281h2v2h-2zM251.5 281.5h2v2h-2zM255 281.5h2v2h-2zM255 281.5h2v2h-2zM257 281h2v2h-2zM258.5 281h2v2h-2zM259.5 282h2v2h-2zM259.5 281h2v2h-2zM259.5 281h2v2h-2zM260 282h2v2h-2zM261 281.5h2v2h-2zM264.5 281.5h2v2h-2zM287 282h2v2h-2zM296.5 282h2v2h-2zM297.5 281h2v2h-2zM137.5 282h2v2h-2zM140 282.5h2v2h-2zM142.5 282.5h2v2h-2zM144 283h2v2h-2zM146 282h2v2h-2zM146.5 282.5h2v2h-2zM151 283h2v2h-2zM151.5 282.5h2v2h-2zM152 283h2v2h-2zM160.5 282h2v2h-2zM160 282.5h2v2h-2zM162.5 282.5h2v2h-2zM164 282.5h2v2h-2zM164.5 282.5h2v2h-2zM167 283h2v2h-2zM167.5 282.5h2v2h-2zM169.5 282h2v2h-2zM173.5 283h2v2h-2zM173.5 282.5h2v2h-2zM176 282.5h2v2h-2zM177 282.5h2v2h-2zM179 282h2v2h-2zM179 282h2v2h-2zM180 283h2v2h-2zM186 282h2v2h-2zM186.5 282h2v2h-2zM189.5 283h2v2h-2zM190 282.5h2v2h-2zM190.5 282.5h2v2h-2zM191 283h2v2h-2zM190.5 282.5h2v2h-2zM193 283h2v2h-2zM195.5 282.5h2v2h-2zM197.5 283h2v2h-2zM200.5 282h2v2h-2zM202 282h2v2h-2zM201.5 282h2v2h-2zM208.5 282.5h2v2h-2zM209.5 282.5h2v2h-2zM210 282.5h2v2h-2zM213.5 282.5h2v2h-2zM219.5 282.5h2v2h-2zM234 282h2v2h-2zM236 282.5h2v2h-2zM240 283h2v2h-2zM241 282h2v2h-2zM243 282.5h2v2h-2zM244 282.5h2v2h-2zM244.5 282h2v2h-2zM244 282.5h2v2h-2zM245 282.5h2v2h-2zM247.5 282.5h2v2h-2zM248 282.5h2v2h-2zM248.5 282h2v2h-2zM251 282.5h2v2h-2zM251 282h2v2h-2zM252.5 282.5h2v2h-2zM252.5 282h2v2h-2zM253.5 283h2v2h-2zM254.5 282.5h2v2h-2zM257.5 283h2v2h-2zM257.5 282h2v2h-2zM258.5 283h2v2h-2zM260 283h2v2h-2zM260 282.5h2v2h-2zM264.5 282.5h2v2h-2zM266.5 282.5h2v2h-2zM281.5 282h2v2h-2zM287.5 282.5h2v2h-2zM136.5 283h2v2h-2zM141 284h2v2h-2zM144 283h2v2h-2zM143 283h2v2h-2zM145.5 284h2v2h-2zM149.5 283.5h2v2h-2zM153.5 283.5h2v2h-2zM154.5 283.5h2v2h-2zM156.5 284h2v2h-2zM156.5 283.5h2v2h-2zM159 283h2v2h-2zM161.5 283.5h2v2h-2zM170 283h2v2h-2zM171 283.5h2v2h-2zM171 283h2v2h-2zM177.5 283h2v2h-2zM178 283.5h2v2h-2zM180 284h2v2h-2zM180.5 283.5h2v2h-2zM186 283.5h2v2h-2zM188.5 283h2v2h-2zM188.5 284h2v2h-2zM189.5 283h2v2h-2zM190 283h2v2h-2zM189.5 283.5h2v2h-2zM192.5 283.5h2v2h-2zM193 284h2v2h-2zM198 284h2v2h-2zM198.5 283.5h2v2h-2zM201 283.5h2v2h-2zM202.5 283.5h2v2h-2zM203.5 283h2v2h-2zM203.5 283.5h2v2h-2zM209.5 283h2v2h-2zM212.5 284h2v2h-2zM234.5 284h2v2h-2zM237.5 283.5h2v2h-2zM241 283.5h2v2h-2zM243 283.5h2v2h-2zM242.5 284h2v2h-2zM242.5 283h2v2h-2zM244 284h2v2h-2zM245.5 283.5h2v2h-2zM250 283.5h2v2h-2zM251.5 283h2v2h-2zM256 284h2v2h-2zM256.5 284h2v2h-2zM257 283h2v2h-2zM259 283.5h2v2h-2zM262 283.5h2v2h-2zM262.5 283h2v2h-2zM271 283h2v2h-2zM279 283.5h2v2h-2zM285 283.5h2v2h-2zM290.5 283h2v2h-2zM139 284h2v2h-2zM139.5 284.5h2v2h-2zM141.5 284.5h2v2h-2zM141.5 284.5h2v2h-2zM141 284h2v2h-2zM142 284h2v2h-2zM144 285h2v2h-2zM146.5 285h2v2h-2zM148.5 284h2v2h-2zM149 284.5h2v2h-2zM151.5 284.5h2v2h-2zM156 284h2v2h-2zM157 285h2v2h-2zM156 284.5h2v2h-2zM160 285h2v2h-2zM161 284.5h2v2h-2zM161.5 284.5h2v2h-2zM164.5 284.5h2v2h-2zM164.5 284h2v2h-2zM166.5 285h2v2h-2zM170.5 284.5h2v2h-2zM171 284h2v2h-2zM171.5 284.5h2v2h-2zM172 284.5h2v2h-2zM173 285h2v2h-2zM172 284h2v2h-2zM176.5 284h2v2h-2zM177 284.5h2v2h-2zM179.5 284h2v2h-2zM186.5 285h2v2h-2zM189 284h2v2h-2zM188.5 285h2v2h-2zM191 285h2v2h-2zM192.5 284.5h2v2h-2zM193 284h2v2h-2zM195 284.5h2v2h-2zM197 284h2v2h-2zM197.5 285h2v2h-2zM199 284.5h2v2h-2zM200 285h2v2h-2zM200 284.5h2v2h-2zM201 285h2v2h-2zM203.5 284.5h2v2h-2zM205 285h2v2h-2zM205 284h2v2h-2zM207.5 284h2v2h-2zM208.5 284h2v2h-2zM208.5 284h2v2h-2zM208 284.5h2v2h-2zM213 284.5h2v2h-2zM219 285h2v2h-2zM223 284h2v2h-2zM222 284.5h2v2h-2zM224 284.5h2v2h-2zM228 284.5h2v2h-2zM229 284.5h2v2h-2zM230.5 284.5h2v2h-2zM231.5 284.5h2v2h-2zM233 285h2v2h-2zM233 284.5h2v2h-2zM233 285h2v2h-2zM234 284h2v2h-2zM235.5 285h2v2h-2zM239 284h2v2h-2zM238.5 284h2v2h-2zM239.5 284h2v2h-2zM240.5 285h2v2h-2zM246.5 284.5h2v2h-2zM246.5 284.5h2v2h-2zM247 284.5h2v2h-2zM247.5 284.5h2v2h-2zM248.5 284h2v2h-2zM253 284h2v2h-2zM253.5 285h2v2h-2zM253 284.5h2v2h-2zM253 284.5h2v2h-2zM255 284.5h2v2h-2zM255.5 285h2v2h-2zM255 284.5h2v2h-2zM256 284h2v2h-2zM256.5 284.5h2v2h-2zM258 284.5h2v2h-2zM259 284.5h2v2h-2zM259.5 285h2v2h-2zM261 284.5h2v2h-2zM261.5 285h2v2h-2zM265 284h2v2h-2zM266.5 284.5h2v2h-2zM266.5 284.5h2v2h-2zM291 285h2v2h-2zM130.5 285.5h2v2h-2zM136 285.5h2v2h-2zM137.5 285h2v2h-2zM139 286h2v2h-2zM140 285.5h2v2h-2zM139.5 285h2v2h-2zM140 286h2v2h-2zM144 286h2v2h-2zM146 285.5h2v2h-2zM148 285.5h2v2h-2zM152.5 286h2v2h-2zM153.5 285.5h2v2h-2zM153.5 286h2v2h-2zM155.5 285.5h2v2h-2zM158 285.5h2v2h-2zM158 285.5h2v2h-2zM159.5 286h2v2h-2zM164.5 285.5h2v2h-2zM165 285h2v2h-2zM166 285.5h2v2h-2zM167.5 285h2v2h-2zM169 285.5h2v2h-2zM171 285h2v2h-2zM182.5 285h2v2h-2zM183.5 285.5h2v2h-2zM183.5 285.5h2v2h-2zM184.5 285.5h2v2h-2zM187.5 285.5h2v2h-2zM187.5 285.5h2v2h-2zM191.5 285.5h2v2h-2zM194.5 285h2v2h-2zM196.5 285.5h2v2h-2zM199.5 285.5h2v2h-2zM200 285h2v2h-2zM203 285.5h2v2h-2zM205.5 285.5h2v2h-2zM211.5 285.5h2v2h-2zM215.5 285.5h2v2h-2zM218 285.5h2v2h-2zM228.5 285.5h2v2h-2zM232 285.5h2v2h-2zM236 286h2v2h-2zM239.5 286h2v2h-2zM240.5 286h2v2h-2zM245.5 285.5h2v2h-2zM247.5 285.5h2v2h-2zM247.5 286h2v2h-2zM248 285.5h2v2h-2zM249 285.5h2v2h-2zM251 285.5h2v2h-2zM253 285.5h2v2h-2zM254.5 285.5h2v2h-2zM256.5 285.5h2v2h-2zM257.5 285.5h2v2h-2zM258 285.5h2v2h-2zM259.5 285.5h2v2h-2zM260 286h2v2h-2zM261.5 285.5h2v2h-2zM262.5 285.5h2v2h-2zM268 286h2v2h-2zM283.5 285.5h2v2h-2zM291.5 285.5h2v2h-2zM128 286.5h2v2h-2zM133.5 286.5h2v2h-2zM134 286.5h2v2h-2zM133.5 286h2v2h-2zM141 287h2v2h-2zM146 286h2v2h-2zM147 286h2v2h-2zM152 286.5h2v2h-2zM155 287h2v2h-2zM155 286.5h2v2h-2zM156 286.5h2v2h-2zM158.5 286.5h2v2h-2zM161 286.5h2v2h-2zM160 286h2v2h-2zM160.5 286.5h2v2h-2zM163.5 286.5h2v2h-2zM164 286.5h2v2h-2zM165 286.5h2v2h-2zM166 286h2v2h-2zM167 287h2v2h-2zM168 286.5h2v2h-2zM169 286.5h2v2h-2zM170 287h2v2h-2zM174.5 286.5h2v2h-2zM174 287h2v2h-2zM177 286h2v2h-2zM177 286.5h2v2h-2zM177.5 286.5h2v2h-2zM184 286.5h2v2h-2zM187.5 286.5h2v2h-2zM190.5 287h2v2h-2zM192 286.5h2v2h-2zM192.5 286.5h2v2h-2zM192.5 286.5h2v2h-2zM193 286h2v2h-2zM194 286h2v2h-2zM193 286h2v2h-2zM194 286.5h2v2h-2zM195.5 286.5h2v2h-2zM197 287h2v2h-2zM200.5 286.5h2v2h-2zM202.5 286h2v2h-2zM204.5 286h2v2h-2zM204.5 286.5h2v2h-2zM204.5 286.5h2v2h-2zM208.5 286.5h2v2h-2zM210 286.5h2v2h-2zM212 286h2v2h-2zM225.5 287h2v2h-2zM232 287h2v2h-2zM234.5 286h2v2h-2zM235.5 286h2v2h-2zM238.5 286.5h2v2h-2zM240.5 287h2v2h-2zM240.5 286.5h2v2h-2zM242.5 287h2v2h-2zM245.5 286.5h2v2h-2zM246.5 287h2v2h-2zM249.5 286.5h2v2h-2zM251 286.5h2v2h-2zM253 286h2v2h-2zM253 287h2v2h-2zM253.5 286.5h2v2h-2zM255.5 286.5h2v2h-2zM256 287h2v2h-2zM257 287h2v2h-2zM256.5 286h2v2h-2zM260 286.5h2v2h-2zM261 286.5h2v2h-2zM261 286.5h2v2h-2zM260.5 286h2v2h-2zM270 286.5h2v2h-2zM270.5 287h2v2h-2zM272.5 286.5h2v2h-2zM283 286.5h2v2h-2zM131 287.5h2v2h-2zM132 288h2v2h-2zM137.5 287.5h2v2h-2zM138 287h2v2h-2zM139 288h2v2h-2zM141 287.5h2v2h-2zM148.5 287h2v2h-2zM150 288h2v2h-2zM153.5 288h2v2h-2zM155.5 287.5h2v2h-2zM164.5 287h2v2h-2zM165 288h2v2h-2zM164.5 287h2v2h-2zM169 287.5h2v2h-2zM173 287.5h2v2h-2zM172.5 287h2v2h-2zM173.5 287.5h2v2h-2zM173.5 287.5h2v2h-2zM176 287.5h2v2h-2zM176 287h2v2h-2zM176.5 288h2v2h-2zM183 287.5h2v2h-2zM183.5 288h2v2h-2zM184 287.5h2v2h-2zM183 287.5h2v2h-2zM183.5 287.5h2v2h-2zM184.5 287.5h2v2h-2zM184.5 287.5h2v2h-2zM189 288h2v2h-2zM193 287.5h2v2h-2zM193.5 287.5h2v2h-2zM198 287.5h2v2h-2zM198.5 287h2v2h-2zM198.5 287.5h2v2h-2zM198 287h2v2h-2zM198.5 287.5h2v2h-2zM199.5 287h2v2h-2zM200.5 287h2v2h-2zM200.5 287.5h2v2h-2zM206 288h2v2h-2zM206.5 287.5h2v2h-2zM206 287.5h2v2h-2zM207 287h2v2h-2zM208 287.5h2v2h-2zM208 287.5h2v2h-2zM211 287.5h2v2h-2zM212.5 288h2v2h-2zM212.5 288h2v2h-2zM213 287.5h2v2h-2zM214 287h2v2h-2zM214.5 288h2v2h-2zM216 287.5h2v2h-2zM218.5 287h2v2h-2zM226.5 288h2v2h-2zM235 287.5h2v2h-2zM237 287h2v2h-2zM237.5 287.5h2v2h-2zM238 288h2v2h-2zM239 288h2v2h-2zM240.5 287.5h2v2h-2zM242 288h2v2h-2zM241 287.5h2v2h-2zM244 287.5h2v2h-2zM245.5 287.5h2v2h-2zM247.5 287.5h2v2h-2zM247 288h2v2h-2zM248.5 288h2v2h-2zM250 288h2v2h-2zM250 287.5h2v2h-2zM249.5 287.5h2v2h-2zM249.5 287h2v2h-2zM251.5 288h2v2h-2zM251 287h2v2h-2zM253 288h2v2h-2zM252.5 287h2v2h-2zM253 288h2v2h-2zM254 287.5h2v2h-2zM256 287h2v2h-2zM256.5 287h2v2h-2zM258 287h2v2h-2zM257.5 288h2v2h-2zM259.5 288h2v2h-2zM261.5 287.5h2v2h-2zM263 288h2v2h-2zM270.5 287.5h2v2h-2zM283.5 287.5h2v2h-2zM302.5 287.5h2v2h-2zM122 288h2v2h-2zM132 288h2v2h-2zM134.5 288.5h2v2h-2zM135.5 288.5h2v2h-2zM135 288.5h2v2h-2zM137 289h2v2h-2zM138 288.5h2v2h-2zM137 288.5h2v2h-2zM138.5 289h2v2h-2zM140.5 289h2v2h-2zM142 288.5h2v2h-2zM145 288.5h2v2h-2zM145.5 289h2v2h-2zM146 288.5h2v2h-2zM146 288.5h2v2h-2zM150.5 289h2v2h-2zM151.5 288h2v2h-2zM153 288.5h2v2h-2zM154 288.5h2v2h-2zM153 288.5h2v2h-2zM153.5 289h2v2h-2zM153.5 288.5h2v2h-2zM154.5 288h2v2h-2zM154.5 289h2v2h-2zM155.5 288.5h2v2h-2zM158 288h2v2h-2zM160 288.5h2v2h-2zM163.5 288.5h2v2h-2zM166 289h2v2h-2zM167 289h2v2h-2zM168 288h2v2h-2zM171.5 289h2v2h-2zM172.5 288.5h2v2h-2zM174 288.5h2v2h-2zM175 288.5h2v2h-2zM176.5 288.5h2v2h-2zM176.5 288.5h2v2h-2zM180 288.5h2v2h-2zM180.5 288.5h2v2h-2zM182 288h2v2h-2zM181 289h2v2h-2zM183 288.5h2v2h-2zM184 288.5h2v2h-2zM184 289h2v2h-2zM185 289h2v2h-2zM190 288.5h2v2h-2zM189 288.5h2v2h-2zM192 289h2v2h-2zM193 288.5h2v2h-2zM193.5 289h2v2h-2zM193 288h2v2h-2zM196 288.5h2v2h-2zM198 288h2v2h-2zM197.5 289h2v2h-2zM198.5 289h2v2h-2zM200.5 288h2v2h-2zM202.5 288.5h2v2h-2zM203.5 289h2v2h-2zM203.5 288h2v2h-2zM207.5 288.5h2v2h-2zM210.5 288.5h2v2h-2zM211.5 289h2v2h-2zM211.5 288.5h2v2h-2zM212.5 289h2v2h-2zM215.5 289h2v2h-2zM218 288.5h2v2h-2zM220 288.5h2v2h-2zM222.5 288.5h2v2h-2zM228 288.5h2v2h-2zM228.5 288.5h2v2h-2zM230.5 288.5h2v2h-2zM233.5 288.5h2v2h-2zM233 288h2v2h-2zM236.5 288.5h2v2h-2zM237.5 288h2v2h-2zM237 289h2v2h-2zM244.5 289h2v2h-2zM249 288h2v2h-2zM249 288.5h2v2h-2zM250.5 288.5h2v2h-2zM250.5 288h2v2h-2zM250.5 288.5h2v2h-2zM252 288h2v2h-2zM252 289h2v2h-2zM257 288.5h2v2h-2zM256.5 288.5h2v2h-2zM257.5 288h2v2h-2zM258.5 288.5h2v2h-2zM261.5 288h2v2h-2zM262 288h2v2h-2zM262.5 289h2v2h-2zM265.5 288.5h2v2h-2zM267.5 288.5h2v2h-2zM269.5 288.5h2v2h-2zM270.5 288.5h2v2h-2zM275 288h2v2h-2zM280.5 288.5h2v2h-2zM286.5 289h2v2h-2zM131.5 289.5h2v2h-2zM137.5 289h2v2h-2zM140.5 289.5h2v2h-2zM140 289.5h2v2h-2zM142 289h2v2h-2zM142.5 290h2v2h-2zM143.5 289.5h2v2h-2zM144.5 290h2v2h-2zM145 289.5h2v2h-2zM145 289.5h2v2h-2zM146.5 289.5h2v2h-2zM146 290h2v2h-2zM147.5 290h2v2h-2zM148.5 289.5h2v2h-2zM148.5 289.5h2v2h-2zM150 289h2v2h-2zM151.5 289.5h2v2h-2zM153 289.5h2v2h-2zM153 289.5h2v2h-2zM155 289.5h2v2h-2zM156 290h2v2h-2zM156 289.5h2v2h-2zM159.5 289.5h2v2h-2zM160.5 289.5h2v2h-2zM163.5 289h2v2h-2zM163 290h2v2h-2zM165 289.5h2v2h-2zM166 290h2v2h-2zM169 289.5h2v2h-2zM169 289.5h2v2h-2zM168 289.5h2v2h-2zM168.5 289.5h2v2h-2zM176.5 289.5h2v2h-2zM178 289.5h2v2h-2zM178 289h2v2h-2zM177 289.5h2v2h-2zM181.5 289h2v2h-2zM187 289.5h2v2h-2zM187 289h2v2h-2zM187.5 289.5h2v2h-2zM188 289.5h2v2h-2zM189 290h2v2h-2zM189.5 290h2v2h-2zM191.5 289h2v2h-2zM191.5 289h2v2h-2zM192 289.5h2v2h-2zM193 289.5h2v2h-2zM195.5 289h2v2h-2zM196.5 289.5h2v2h-2zM200 290h2v2h-2zM200.5 289.5h2v2h-2zM201.5 289.5h2v2h-2zM205.5 289h2v2h-2zM205.5 289.5h2v2h-2zM208.5 289.5h2v2h-2zM211 289h2v2h-2zM210 290h2v2h-2zM211 289.5h2v2h-2zM213 290h2v2h-2zM214 289.5h2v2h-2zM213.5 289.5h2v2h-2zM213 289h2v2h-2zM215 289.5h2v2h-2zM217 289.5h2v2h-2zM218 289.5h2v2h-2zM219.5 289.5h2v2h-2zM221.5 289h2v2h-2zM221.5 289.5h2v2h-2zM224 289.5h2v2h-2zM227 289.5h2v2h-2zM228.5 289.5h2v2h-2zM228 289.5h2v2h-2zM230 289h2v2h-2zM230.5 289.5h2v2h-2zM234 289h2v2h-2zM237.5 289h2v2h-2zM239.5 289h2v2h-2zM239 290h2v2h-2zM240.5 289.5h2v2h-2zM242 289.5h2v2h-2zM245 290h2v2h-2zM245.5 289h2v2h-2zM249 290h2v2h-2zM248.5 289.5h2v2h-2zM251 289.5h2v2h-2zM252 290h2v2h-2zM252 290h2v2h-2zM254 289h2v2h-2zM254.5 289.5h2v2h-2zM255.5 290h2v2h-2zM256 289.5h2v2h-2zM255 289h2v2h-2zM257 289h2v2h-2zM262.5 289h2v2h-2zM263 289.5h2v2h-2zM272.5 289.5h2v2h-2zM273.5 289.5h2v2h-2zM279 289.5h2v2h-2zM279.5 289.5h2v2h-2zM287.5 289h2v2h-2zM287.5 289.5h2v2h-2zM294 289.5h2v2h-2zM295 289h2v2h-2zM298 289.5h2v2h-2zM301.5 290h2v2h-2zM123 290.5h2v2h-2zM124 290.5h2v2h-2zM126 291h2v2h-2zM129.5 291h2v2h-2zM130.5 290h2v2h-2zM131.5 290h2v2h-2zM131 290.5h2v2h-2zM133 291h2v2h-2zM136.5 290.5h2v2h-2zM138.5 290h2v2h-2zM140 290.5h2v2h-2zM139.5 290.5h2v2h-2zM139.5 290.5h2v2h-2zM140 290.5h2v2h-2zM140.5 290.5h2v2h-2zM142.5 290.5h2v2h-2zM142.5 290h2v2h-2zM142.5 290.5h2v2h-2zM142 291h2v2h-2zM143.5 290.5h2v2h-2zM144 290.5h2v2h-2zM144.5 291h2v2h-2zM144.5 290h2v2h-2zM145 290h2v2h-2zM145.5 291h2v2h-2zM148 290.5h2v2h-2zM147.5 290.5h2v2h-2zM148 291h2v2h-2zM149 290.5h2v2h-2zM150.5 290h2v2h-2zM151 290h2v2h-2zM150.5 290h2v2h-2zM150 290h2v2h-2zM151.5 290h2v2h-2zM153 290h2v2h-2zM156 291h2v2h-2zM157.5 290h2v2h-2zM158.5 291h2v2h-2zM160.5 290h2v2h-2zM161 290.5h2v2h-2zM162.5 290.5h2v2h-2zM164.5 290h2v2h-2zM164 290.5h2v2h-2zM164.5 290h2v2h-2zM168 290.5h2v2h-2zM168 290.5h2v2h-2zM170 291h2v2h-2zM170.5 290.5h2v2h-2zM170.5 290.5h2v2h-2zM172 291h2v2h-2zM174 291h2v2h-2zM174 291h2v2h-2zM179 290.5h2v2h-2zM179.5 291h2v2h-2zM181 290.5h2v2h-2zM180 290.5h2v2h-2zM186.5 290.5h2v2h-2zM186.5 290h2v2h-2zM190 290.5h2v2h-2zM190 290.5h2v2h-2zM189 291h2v2h-2zM195 290h2v2h-2zM194 290.5h2v2h-2zM196 290h2v2h-2zM199 290.5h2v2h-2zM198.5 290h2v2h-2zM200 290h2v2h-2zM202.5 291h2v2h-2zM202.5 290.5h2v2h-2zM203.5 290h2v2h-2zM204.5 290.5h2v2h-2zM204.5 290.5h2v2h-2zM205 291h2v2h-2zM205 290h2v2h-2zM205.5 291h2v2h-2zM211 290.5h2v2h-2zM213 290.5h2v2h-2zM214.5 290.5h2v2h-2zM215 290.5h2v2h-2zM215.5 291h2v2h-2zM217 290h2v2h-2zM218 290.5h2v2h-2zM218.5 290h2v2h-2zM218.5 290.5h2v2h-2zM220.5 290.5h2v2h-2zM220.5 290.5h2v2h-2zM220.5 290.5h2v2h-2zM222.5 290h2v2h-2zM222 290h2v2h-2zM222 290.5h2v2h-2zM223 290.5h2v2h-2zM223.5 290.5h2v2h-2zM224.5 291h2v2h-2zM227.5 290.5h2v2h-2zM232 291h2v2h-2zM232.5 290.5h2v2h-2zM234 290.5h2v2h-2zM234.5 291h2v2h-2zM235.5 290.5h2v2h-2zM238 290h2v2h-2zM238 290.5h2v2h-2zM241.5 290.5h2v2h-2zM241.5 290.5h2v2h-2zM243 290.5h2v2h-2zM242 290.5h2v2h-2zM244 291h2v2h-2zM245.5 290.5h2v2h-2zM245 290h2v2h-2zM247.5 290.5h2v2h-2zM249 290.5h2v2h-2zM250 290.5h2v2h-2zM250 290.5h2v2h-2zM249.5 290.5h2v2h-2zM249.5 290.5h2v2h-2zM250 290.5h2v2h-2zM252 290.5h2v2h-2zM255.5 290.5h2v2h-2zM256 290h2v2h-2zM259.5 291h2v2h-2zM259.5 291h2v2h-2zM261 291h2v2h-2zM261.5 290h2v2h-2zM267.5 290.5h2v2h-2zM282.5 290.5h2v2h-2zM285 290.5h2v2h-2zM287 290.5h2v2h-2zM303.5 290h2v2h-2zM130.5 292h2v2h-2zM131 292h2v2h-2zM133 291.5h2v2h-2zM132 291h2v2h-2zM132.5 291.5h2v2h-2zM134 291h2v2h-2zM136 291h2v2h-2zM136.5 291h2v2h-2zM137 291.5h2v2h-2zM138.5 291.5h2v2h-2zM139.5 291.5h2v2h-2zM141 292h2v2h-2zM141 292h2v2h-2zM142 291.5h2v2h-2zM146.5 291.5h2v2h-2zM146.5 291.5h2v2h-2zM149.5 291.5h2v2h-2zM150 292h2v2h-2zM151.5 291.5h2v2h-2zM151.5 292h2v2h-2zM154 291.5h2v2h-2zM154.5 291h2v2h-2zM154.5 291.5h2v2h-2zM156 291h2v2h-2zM158 292h2v2h-2zM159 291h2v2h-2zM158 291h2v2h-2zM159.5 291.5h2v2h-2zM160 291.5h2v2h-2zM161 291.5h2v2h-2zM161.5 292h2v2h-2zM161.5 292h2v2h-2zM164 291.5h2v2h-2zM164 291h2v2h-2zM163 292h2v2h-2zM165.5 292h2v2h-2zM165 292h2v2h-2zM166.5 291.5h2v2h-2zM166.5 292h2v2h-2zM166.5 291h2v2h-2zM167 291.5h2v2h-2zM167.5 291.5h2v2h-2zM168.5 291.5h2v2h-2zM170 291h2v2h-2zM170 291.5h2v2h-2zM171.5 292h2v2h-2zM172 291.5h2v2h-2zM174.5 292h2v2h-2zM176 291h2v2h-2zM176 292h2v2h-2zM177 291h2v2h-2zM176.5 292h2v2h-2zM179 291.5h2v2h-2zM179.5 292h2v2h-2zM181.5 291h2v2h-2zM181.5 291.5h2v2h-2zM182.5 291h2v2h-2zM183.5 291h2v2h-2zM183.5 292h2v2h-2zM186 292h2v2h-2zM187.5 291.5h2v2h-2zM189.5 291.5h2v2h-2zM190 291.5h2v2h-2zM190 292h2v2h-2zM196.5 291h2v2h-2zM202 291.5h2v2h-2zM202.5 291h2v2h-2zM203 291h2v2h-2zM205 292h2v2h-2zM205.5 292h2v2h-2zM207 291h2v2h-2zM210.5 291.5h2v2h-2zM211 291.5h2v2h-2zM214 291h2v2h-2zM216 291.5h2v2h-2zM218.5 291.5h2v2h-2zM221.5 291h2v2h-2zM223 291.5h2v2h-2zM223.5 291.5h2v2h-2zM224 291.5h2v2h-2zM224 291.5h2v2h-2zM227 291.5h2v2h-2zM228 291.5h2v2h-2zM229 292h2v2h-2zM229.5 291h2v2h-2zM230 291.5h2v2h-2zM231.5 291h2v2h-2zM232.5 291.5h2v2h-2zM233.5 291.5h2v2h-2zM233.5 291.5h2v2h-2zM234 292h2v2h-2zM235 291h2v2h-2zM236 291.5h2v2h-2zM236.5 291.5h2v2h-2zM236 291.5h2v2h-2zM236 291h2v2h-2zM236.5 291.5h2v2h-2zM237.5 291.5h2v2h-2zM238.5 291h2v2h-2zM239.5 291.5h2v2h-2zM243 291h2v2h-2zM242.5 291h2v2h-2zM243.5 292h2v2h-2zM243 291h2v2h-2zM251 291h2v2h-2zM251.5 291.5h2v2h-2zM253 291.5h2v2h-2zM256.5 291.5h2v2h-2zM256.5 291.5h2v2h-2zM257.5 292h2v2h-2zM258.5 292h2v2h-2zM260 291.5h2v2h-2zM261 292h2v2h-2zM262 292h2v2h-2zM263.5 291.5h2v2h-2zM264 291.5h2v2h-2zM269 291.5h2v2h-2zM272 291.5h2v2h-2zM282.5 291.5h2v2h-2zM283.5 292h2v2h-2zM291 291h2v2h-2zM293.5 291.5h2v2h-2zM293 292h2v2h-2zM293.5 291.5h2v2h-2zM296 291.5h2v2h-2zM129 292.5h2v2h-2zM133 292.5h2v2h-2zM134.5 292.5h2v2h-2zM134.5 292.5h2v2h-2zM135 292.5h2v2h-2zM137.5 292h2v2h-2zM137.5 292.5h2v2h-2zM138.5 292.5h2v2h-2zM139.5 292.5h2v2h-2zM141.5 292.5h2v2h-2zM144.5 292h2v2h-2zM147 292h2v2h-2zM147 292h2v2h-2zM148.5 292h2v2h-2zM149.5 292.5h2v2h-2zM151.5 292.5h2v2h-2zM154 292h2v2h-2zM156 292.5h2v2h-2zM155.5 292.5h2v2h-2zM155 292.5h2v2h-2zM158 292.5h2v2h-2zM162 292.5h2v2h-2zM161 292.5h2v2h-2zM164 292.5h2v2h-2zM165.5 292.5h2v2h-2zM167 292.5h2v2h-2zM167.5 292.5h2v2h-2zM169.5 292.5h2v2h-2zM169.5 292.5h2v2h-2zM171.5 292.5h2v2h-2zM171 292.5h2v2h-2zM173 292.5h2v2h-2zM173.5 292.5h2v2h-2zM174.5 292h2v2h-2zM174.5 292h2v2h-2zM176.5 292.5h2v2h-2zM179 292.5h2v2h-2zM180.5 292.5h2v2h-2zM181.5 292.5h2v2h-2zM181 292h2v2h-2zM184.5 292.5h2v2h-2zM184.5 292.5h2v2h-2zM186.5 292.5h2v2h-2zM187.5 292.5h2v2h-2zM187 292h2v2h-2zM188.5 292.5h2v2h-2zM189 292h2v2h-2zM190 292.5h2v2h-2zM190 292.5h2v2h-2zM190 292.5h2v2h-2zM190.5 292.5h2v2h-2zM191.5 292.5h2v2h-2zM191.5 292.5h2v2h-2zM191.5 292.5h2v2h-2zM192 292h2v2h-2zM193 292h2v2h-2zM195 292.5h2v2h-2zM196 292.5h2v2h-2zM195.5 292.5h2v2h-2zM195.5 292.5h2v2h-2zM196 292.5h2v2h-2zM196.5 292.5h2v2h-2zM197 292.5h2v2h-2zM198 292.5h2v2h-2zM198.5 292h2v2h-2zM198 292.5h2v2h-2zM198.5 292.5h2v2h-2zM198 292.5h2v2h-2zM202 292.5h2v2h-2zM202 292.5h2v2h-2zM202 292.5h2v2h-2zM204 292.5h2v2h-2zM204.5 292.5h2v2h-2zM204.5 292.5h2v2h-2zM204.5 292.5h2v2h-2zM205.5 292.5h2v2h-2zM205.5 292.5h2v2h-2zM210 292.5h2v2h-2zM210.5 292h2v2h-2zM210.5 292h2v2h-2zM211 292h2v2h-2zM212.5 292.5h2v2h-2zM213 292.5h2v2h-2zM214 292h2v2h-2zM214.5 292.5h2v2h-2zM215.5 292.5h2v2h-2zM218 292.5h2v2h-2zM219.5 292.5h2v2h-2zM222 292.5h2v2h-2zM222 292.5h2v2h-2zM223 292h2v2h-2zM223.5 292.5h2v2h-2zM224.5 292.5h2v2h-2zM224 292.5h2v2h-2zM225 292.5h2v2h-2zM231.5 292.5h2v2h-2zM232.5 292.5h2v2h-2zM234.5 292.5h2v2h-2zM234.5 292.5h2v2h-2zM234 292.5h2v2h-2zM234 292.5h2v2h-2zM237 292.5h2v2h-2zM237 292.5h2v2h-2zM237 292.5h2v2h-2zM238.5 292h2v2h-2zM240 292.5h2v2h-2zM239.5 292.5h2v2h-2zM241.5 292.5h2v2h-2zM241.5 292.5h2v2h-2zM241.5 292.5h2v2h-2zM243.5 292h2v2h-2zM244.5 292.5h2v2h-2zM246 292.5h2v2h-2zM245.5 292h2v2h-2zM250 292.5h2v2h-2zM250 292.5h2v2h-2zM250.5 292.5h2v2h-2zM250.5 292.5h2v2h-2zM252.5 292.5h2v2h-2zM256 292.5h2v2h-2zM257 292h2v2h-2zM257.5 292h2v2h-2zM258.5 292.5h2v2h-2zM259 292.5h2v2h-2zM258.5 292.5h2v2h-2zM259.5 292.5h2v2h-2zM260 292.5h2v2h-2zM259.5 292.5h2v2h-2zM261 292.5h2v2h-2zM263 292.5h2v2h-2zM262.5 292.5h2v2h-2zM264.5 292.5h2v2h-2zM283.5 292.5h2v2h-2zM284.5 292.5h2v2h-2zM286 292h2v2h-2zM286.5 292.5h2v2h-2zM288.5 292h2v2h-2zM289 292h2v2h-2zM291 292.5h2v2h-2zM293 292.5h2v2h-2zM295.5 292h2v2h-2zM302.5 292.5h2v2h-2zM132 292.5h2v2h-2zM135 292.5h2v2h-2zM135.5 292.5h2v2h-2zM136.5 292.5h2v2h-2zM139 292.5h2v2h-2zM140.5 292.5h2v2h-2zM142.5 292.5h2v2h-2zM143.5 292.5h2v2h-2zM145 292.5h2v2h-2zM145 292.5h2v2h-2zM146 292.5h2v2h-2zM146.5 292.5h2v2h-2zM146.5 292.5h2v2h-2zM147 292.5h2v2h-2zM148.5 292.5h2v2h-2zM148 292.5h2v2h-2zM150 292.5h2v2h-2zM150 292.5h2v2h-2zM153.5 292.5h2v2h-2zM154.5 292.5h2v2h-2zM155.5 292.5h2v2h-2zM155.5 292.5h2v2h-2zM156.5 292.5h2v2h-2zM156 292.5h2v2h-2zM158.5 292.5h2v2h-2zM161 292.5h2v2h-2zM163.5 292.5h2v2h-2zM163.5 292.5h2v2h-2zM163 292.5h2v2h-2zM163.5 292.5h2v2h-2zM166 292.5h2v2h-2zM166 292.5h2v2h-2zM167 292.5h2v2h-2zM167 292.5h2v2h-2zM167 292.5h2v2h-2zM167.5 292.5h2v2h-2zM167.5 292.5h2v2h-2zM169.5 292.5h2v2h-2zM170 292.5h2v2h-2zM170.5 292.5h2v2h-2zM171.5 292.5h2v2h-2zM179 292.5h2v2h-2zM179 292.5h2v2h-2zM180 292.5h2v2h-2zM181 292.5h2v2h-2zM183 292.5h2v2h-2zM182.5 292.5h2v2h-2zM185.5 292.5h2v2h-2zM186 292.5h2v2h-2zM188 292.5h2v2h-2zM188.5 292.5h2v2h-2zM190 292.5h2v2h-2zM190.5 292.5h2v2h-2zM193 292.5h2v2h-2zM193 292.5h2v2h-2zM194.5 292.5h2v2h-2zM196.5 292.5h2v2h-2zM196.5 292.5h2v2h-2zM199 292.5h2v2h-2zM203.5 292.5h2v2h-2zM204 292.5h2v2h-2zM205 292.5h2v2h-2zM206 292.5h2v2h-2zM207.5 292.5h2v2h-2zM209 292.5h2v2h-2zM212 292.5h2v2h-2zM211.5 292.5h2v2h-2zM213.5 292.5h2v2h-2zM215 292.5h2v2h-2zM215.5 292.5h2v2h-2zM216.5 292.5h2v2h-2zM217.5 292.5h2v2h-2zM217.5 292.5h2v2h-2zM220.5 292.5h2v2h-2zM221.5 292.5h2v2h-2zM223.5 292.5h2v2h-2zM224 292.5h2v2h-2zM224.5 292.5h2v2h-2zM225 292.5h2v2h-2zM227 292.5h2v2h-2zM228 292.5h2v2h-2zM228 292.5h2v2h-2zM229 292.5h2v2h-2zM229.5 292.5h2v2h-2zM230.5 292.5h2v2h-2zM230.5 292.5h2v2h-2zM232 292.5h2v2h-2zM233.5 292.5h2v2h-2zM233.5 292.5h2v2h-2zM233.5 292.5h2v2h-2zM234 292.5h2v2h-2zM235 292.5h2v2h-2zM236 292.5h2v2h-2zM236.5 292.5h2v2h-2zM238 292.5h2v2h-2zM237.5 292.5h2v2h-2zM239 292.5h2v2h-2zM238 292.5h2v2h-2zM241.5 292.5h2v2h-2zM241.5 292.5h2v2h-2zM241 292.5h2v2h-2zM241.5 292.5h2v2h-2zM242 292.5h2v2h-2zM245.5 292.5h2v2h-2zM246.5 292.5h2v2h-2zM247.5 292.5h2v2h-2zM248.5 292.5h2v2h-2zM249.5 292.5h2v2h-2zM251 292.5h2v2h-2zM253 292.5h2v2h-2zM255 292.5h2v2h-2zM254 292.5h2v2h-2zM255.5 292.5h2v2h-2zM260 292.5h2v2h-2zM262 292.5h2v2h-2zM262.5 292.5h2v2h-2zM263.5 292.5h2v2h-2zM263.5 292.5h2v2h-2zM264 292.5h2v2h-2zM267 292.5h2v2h-2zM267 292.5h2v2h-2zM273.5 292.5h2v2h-2zM282 292.5h2v2h-2zM287.5 292.5h2v2h-2zM288.5 292.5h2v2h-2zM291.5 292.5h2v2h-2zM293 292.5h2v2h-2zM122 292.5h2v2h-2zM122 292.5h2v2h-2zM128.5 292.5h2v2h-2zM132.5 292.5h2v2h-2zM132.5 292.5h2v2h-2zM132 292.5h2v2h-2zM134 292.5h2v2h-2zM133 292.5h2v2h-2zM135 292.5h2v2h-2zM138.5 292.5h2v2h-2zM139 292.5h2v2h-2zM139.5 292.5h2v2h-2zM140 292.5h2v2h-2zM140.5 292.5h2v2h-2zM141 292.5h2v2h-2zM141 292.5h2v2h-2zM141.5 292.5h2v2h-2zM146.5 292.5h2v2h-2zM147.5 292.5h2v2h-2zM148.5 292.5h2v2h-2zM153.5 292.5h2v2h-2zM159 292.5h2v2h-2zM160.5 292.5h2v2h-2zM162.5 292.5h2v2h-2zM164 292.5h2v2h-2zM166.5 292.5h2v2h-2zM167 292.5h2v2h-2zM168 292.5h2v2h-2zM171 292.5h2v2h-2zM171.5 292.5h2v2h-2zM172.5 292.5h2v2h-2zM174 292.5h2v2h-2zM174 292.5h2v2h-2zM175.5 292.5h2v2h-2zM177.5 292.5h2v2h-2zM178 292.5h2v2h-2zM179 292.5h2v2h-2zM179 292.5h2v2h-2zM179.5 292.5h2v2h-2zM181 292.5h2v2h-2zM181.5 292.5h2v2h-2zM182.5 292.5h2v2h-2zM182 292.5h2v2h-2zM183.5 292.5h2v2h-2zM183 292.5h2v2h-2zM183.5 292.5h2v2h-2zM185.5 292.5h2v2h-2zM187 292.5h2v2h-2zM188 292.5h2v2h-2zM189 292.5h2v2h-2zM188.5 292.5h2v2h-2zM188 292.5h2v2h-2zM195 292.5h2v2h-2zM194 292.5h2v2h-2zM196 292.5h2v2h-2zM197 292.5h2v2h-2zM199.5 292.5h2v2h-2zM203 292.5h2v2h-2zM202.5 292.5h2v2h-2zM203.5 292.5h2v2h-2zM203.5 292.5h2v2h-2zM205.5 292.5h2v2h-2zM205.5 292.5h2v2h-2zM207 292.5h2v2h-2zM208.5 292.5h2v2h-2zM209 292.5h2v2h-2zM208.5 292.5h2v2h-2zM210 292.5h2v2h-2zM210.5 292.5h2v2h-2zM210.5 292.5h2v2h-2zM211.5 292.5h2v2h-2zM213.5 292.5h2v2h-2zM213 292.5h2v2h-2zM214.5 292.5h2v2h-2zM215 292.5h2v2h-2zM215.5 292.5h2v2h-2zM216.5 292.5h2v2h-2zM216.5 292.5h2v2h-2zM221 292.5h2v2h-2zM222.5 292.5h2v2h-2zM222.5 292.5h2v2h-2zM224.5 292.5h2v2h-2zM226.5 292.5h2v2h-2zM226.5 292.5h2v2h-2zM226.5 292.5h2v2h-2zM227.5 292.5h2v2h-2zM227.5 292.5h2v2h-2zM227 292.5h2v2h-2zM227.5 292.5h2v2h-2zM230.5 292.5h2v2h-2zM232 292.5h2v2h-2zM232.5 292.5h2v2h-2zM233 292.5h2v2h-2zM233.5 292.5h2v2h-2zM234 292.5h2v2h-2zM233 292.5h2v2h-2zM233 292.5h2v2h-2zM235.5 292.5h2v2h-2zM237.5 292.5h2v2h-2zM238 292.5h2v2h-2zM239 292.5h2v2h-2zM240 292.5h2v2h-2zM239.5 292.5h2v2h-2zM239.5 292.5h2v2h-2zM241 292.5h2v2h-2zM241.5 292.5h2v2h-2zM243.5 292.5h2v2h-2zM243.5 292.5h2v2h-2zM244 292.5h2v2h-2zM246 292.5h2v2h-2zM246 292.5h2v2h-2zM245 292.5h2v2h-2zM248 292.5h2v2h-2zM247 292.5h2v2h-2zM248 292.5h2v2h-2zM251 292.5h2v2h-2zM251.5 292.5h2v2h-2zM253 292.5h2v2h-2zM253 292.5h2v2h-2zM253.5 292.5h2v2h-2zM254 292.5h2v2h-2zM255.5 292.5h2v2h-2zM256 292.5h2v2h-2zM256 292.5h2v2h-2zM256 292.5h2v2h-2zM257.5 292.5h2v2h-2zM262 292.5h2v2h-2zM261.5 292.5h2v2h-2zM262.5 292.5h2v2h-2zM263.5 292.5h2v2h-2zM280 292.5h2v2h-2zM282 292.5h2v2h-2zM287.5 292.5h2v2h-2zM291 292.5h2v2h-2zM293 292.5h2v2h-2zM294.5 292.5h2v2h-2zM294.5 292.5h2v2h-2zM123.5 292.5h2v2h-2zM126.5 292.5h2v2h-2zM129 292.5h2v2h-2zM130 292.5h2v2h-2zM132 292.5h2v2h-2zM134 292.5h2v2h-2zM133.5 292.5h2v2h-2zM136 292.5h2v2h-2zM136 292.5h2v2h-2zM137 292.5h2v2h-2zM138 292.5h2v2h-2zM138.5 292.5h2v2h-2zM138 292.5h2v2h-2zM140 292.5h2v2h-2zM139.5 292.5h2v2h-2zM141 292.5h2v2h-2zM141 292.5h2v2h-2zM140 292.5h2v2h-2zM142 292.5h2v2h-2zM144 292.5h2v2h-2zM147 292.5h2v2h-2zM148 292.5h2v2h-2zM148.5 292.5h2v2h-2zM151 292.5h2v2h-2zM151.5 292.5h2v2h-2zM152 292.5h2v2h-2zM153.5 292.5h2v2h-2zM154.5 292.5h2v2h-2zM155 292.5h2v2h-2zM156 292.5h2v2h-2zM156.5 292.5h2v2h-2zM156 292.5h2v2h-2zM157.5 292.5h2v2h-2zM157.5 292.5h2v2h-2zM158 292.5h2v2h-2zM160.5 292.5h2v2h-2zM161.5 292.5h2v2h-2zM162.5 292.5h2v2h-2zM163 292.5h2v2h-2zM163 292.5h2v2h-2zM164 292.5h2v2h-2zM164.5 292.5h2v2h-2zM164.5 292.5h2v2h-2zM165.5 292.5h2v2h-2zM166.5 292.5h2v2h-2zM168.5 292.5h2v2h-2zM170.5 292.5h2v2h-2zM171.5 292.5h2v2h-2zM172 292.5h2v2h-2zM172.5 292.5h2v2h-2zM173.5 292.5h2v2h-2zM175 292.5h2v2h-2zM175 292.5h2v2h-2zM176.5 292.5h2v2h-2zM176.5 292.5h2v2h-2zM182 292.5h2v2h-2zM181.5 292.5h2v2h-2zM182 292.5h2v2h-2zM184 292.5h2v2h-2zM183.5 292.5h2v2h-2zM184.5 292.5h2v2h-2zM185 292.5h2v2h-2zM186.5 292.5h2v2h-2zM188 292.5h2v2h-2zM188 292.5h2v2h-2zM189.5 292.5h2v2h-2zM190 292.5h2v2h-2zM189.5 292.5h2v2h-2zM189.5 292.5h2v2h-2zM189.5 292.5h2v2h-2zM194.5 292.5h2v2h-2zM196 292.5h2v2h-2zM195 292.5h2v2h-2zM197.5 292.5h2v2h-2zM199 292.5h2v2h-2zM198.5 292.5h2v2h-2zM199 292.5h2v2h-2zM202.5 292.5h2v2h-2zM205 292.5h2v2h-2zM205 292.5h2v2h-2zM205 292.5h2v2h-2zM206.5 292.5h2v2h-2zM207.5 292.5h2v2h-2zM207.5 292.5h2v2h-2zM207.5 292.5h2v2h-2zM207.5 292.5h2v2h-2zM209.5 292.5h2v2h-2zM210.5 292.5h2v2h-2zM212.5 292.5h2v2h-2zM215 292.5h2v2h-2zM215 292.5h2v2h-2zM215.5 292.5h2v2h-2zM216.5 292.5h2v2h-2zM221 292.5h2v2h-2zM220.5 292.5h2v2h-2zM221.5 292.5h2v2h-2zM221.5 292.5h2v2h-2zM223 292.5h2v2h-2zM223.5 292.5h2v2h-2zM224 292.5h2v2h-2zM225.5 292.5h2v2h-2zM228.5 292.5h2v2h-2zM228.5 292.5h2v2h-2zM228.5 292.5h2v2h-2zM231 292.5h2v2h-2zM230.5 292.5h2v2h-2zM232.5 292.5h2v2h-2zM233 292.5h2v2h-2zM232.5 292.5h2v2h-2zM234.5 292.5h2v2h-2zM235.5 292.5h2v2h-2zM236.5 292.5h2v2h-2zM239 292.5h2v2h-2zM239 292.5h2v2h-2zM239.5 292.5h2v2h-2zM240 292.5h2v2h-2zM240 292.5h2v2h-2zM240.5 292.5h2v2h-2zM240.5 292.5h2v2h-2zM243 292.5h2v2h-2zM243 292.5h2v2h-2zM246 292.5h2v2h-2zM246 292.5h2v2h-2zM249 292.5h2v2h-2zM249 292.5h2v2h-2zM249.5 292.5h2v2h-2zM249.5 292.5h2v2h-2zM249.5 292.5h2v2h-2zM255 292.5h2v2h-2zM255.5 292.5h2v2h-2zM256.5 292.5h2v2h-2zM259 292.5h2v2h-2zM259 292.5h2v2h-2zM259.5 292.5h2v2h-2zM260.5 292.5h2v2h-2zM260.5 292.5h2v2h-2zM260.5 292.5h2v2h-2zM262 292.5h2v2h-2zM261 292.5h2v2h-2zM262 292.5h2v2h-2zM262 292.5h2v2h-2zM263.5 292.5h2v2h-2zM263.5 292.5h2v2h-2zM265 292.5h2v2h-2zM268 292.5h2v2h-2zM270 292.5h2v2h-2zM278.5 292.5h2v2h-2zM281.5 292.5h2v2h-2zM290 292.5h2v2h-2zM291.5 292.5h2v2h-2zM291.5 292.5h2v2h-2zM292.5 292.5h2v2h-2zM296.5 292.5h2v2h-2zM551.5 159.5h2v2h-2zM545.5 160h2v2h-2zM547.5 161.5h2v2h-2zM552 161.5h2v2h-2zM548 162h2v2h-2zM546.5 164h2v2h-2zM549.5 163h2v2h-2zM547 164.5h2v2h-2zM547.5 164.5h2v2h-2zM549.5 164h2v2h-2zM542.5 166h2v2h-2zM544.5 165.5h2v2h-2zM546.5 166h2v2h-2zM544.5 166.5h2v2h-2zM545 166.5h2v2h-2zM551 166.5h2v2h-2zM546 167.5h2v2h-2zM549 168.5h2v2h-2zM549.5 171h2v2h-2zM546.5 175.5h2v2h-2zM548 175.5h2v2h-2zM546 176.5h2v2h-2zM540.5 178.5h2v2h-2zM549.5 178.5h2v2h-2zM528.5 180h2v2h-2zM538 179.5h2v2h-2zM543 179.5h2v2h-2zM521.5 181.5h2v2h-2zM536.5 181h2v2h-2zM543 182h2v2h-2zM545 182.5h2v2h-2zM524.5 183.5h2v2h-2zM549.5 183h2v2h-2zM544.5 184.5h2v2h-2zM540 186h2v2h-2zM545 185.5h2v2h-2zM549 185.5h2v2h-2zM552.5 185.5h2v2h-2zM526.5 186.5h2v2h-2zM547.5 186.5h2v2h-2zM550.5 186.5h2v2h-2zM528 187.5h2v2h-2zM541.5 188h2v2h-2zM544.5 187.5h2v2h-2zM548.5 187h2v2h-2zM539 188.5h2v2h-2zM549 188h2v2h-2zM524 190h2v2h-2zM526.5 189.5h2v2h-2zM536.5 189.5h2v2h-2zM538.5 190h2v2h-2zM548.5 189h2v2h-2zM521 190.5h2v2h-2zM539 191.5h2v2h-2zM541.5 191.5h2v2h-2zM549.5 191.5h2v2h-2zM521.5 193h2v2h-2zM528.5 194h2v2h-2zM529.5 193h2v2h-2zM533.5 194h2v2h-2zM536.5 193.5h2v2h-2zM541 193h2v2h-2zM525.5 194h2v2h-2zM525.5 194.5h2v2h-2zM527 195h2v2h-2zM531 194h2v2h-2zM532.5 194h2v2h-2zM545 194h2v2h-2zM551 195h2v2h-2zM529 195h2v2h-2zM537 195.5h2v2h-2zM539.5 195.5h2v2h-2zM548 195.5h2v2h-2zM525.5 196h2v2h-2zM533.5 196.5h2v2h-2zM539 197.5h2v2h-2zM544.5 197.5h2v2h-2zM525.5 198.5h2v2h-2zM531.5 198.5h2v2h-2zM545 198.5h2v2h-2zM547 198.5h2v2h-2zM547 198.5h2v2h-2zM548.5 198h2v2h-2zM462 200h2v2h-2zM528 199.5h2v2h-2zM530 200h2v2h-2zM539.5 199.5h2v2h-2zM511.5 200.5h2v2h-2zM524 200h2v2h-2zM524.5 200.5h2v2h-2zM543.5 200h2v2h-2zM459 202h2v2h-2zM513 201.5h2v2h-2zM525 202h2v2h-2zM531.5 202h2v2h-2zM533.5 201.5h2v2h-2zM457 202.5h2v2h-2zM464 202.5h2v2h-2zM522 203h2v2h-2zM527 202h2v2h-2zM529 202h2v2h-2zM533.5 202h2v2h-2zM538 203h2v2h-2zM545 202.5h2v2h-2zM547.5 203h2v2h-2zM549 203h2v2h-2zM458 204h2v2h-2zM458 203h2v2h-2zM459 203h2v2h-2zM463 204h2v2h-2zM513 204h2v2h-2zM526 203.5h2v2h-2zM545 203h2v2h-2zM458 205h2v2h-2zM459 204.5h2v2h-2zM459 204h2v2h-2zM461.5 204.5h2v2h-2zM522 204.5h2v2h-2zM531.5 204.5h2v2h-2zM542.5 205h2v2h-2zM548.5 204h2v2h-2zM458 205h2v2h-2zM458 205.5h2v2h-2zM460.5 205.5h2v2h-2zM511.5 205.5h2v2h-2zM512.5 206h2v2h-2zM520.5 205.5h2v2h-2zM526 205.5h2v2h-2zM542 206h2v2h-2zM544.5 205h2v2h-2zM457.5 207h2v2h-2zM512.5 206.5h2v2h-2zM516 206.5h2v2h-2zM528 206.5h2v2h-2zM535 206h2v2h-2zM459 207.5h2v2h-2zM515.5 207.5h2v2h-2zM516 207h2v2h-2zM532.5 208h2v2h-2zM533 207.5h2v2h-2zM515 209h2v2h-2zM517 208.5h2v2h-2zM519 208.5h2v2h-2zM538.5 208.5h2v2h-2zM541 208.5h2v2h-2zM541.5 208h2v2h-2zM543 208.5h2v2h-2zM547 208h2v2h-2zM550.5 209h2v2h-2zM456.5 209.5h2v2h-2zM518 209.5h2v2h-2zM520 209.5h2v2h-2zM520.5 209h2v2h-2zM521.5 209.5h2v2h-2zM532 210h2v2h-2zM533 209.5h2v2h-2zM541.5 210h2v2h-2zM464 211h2v2h-2zM533 210.5h2v2h-2zM537 210.5h2v2h-2zM539.5 210.5h2v2h-2zM548 211h2v2h-2zM455.5 211.5h2v2h-2zM458 212h2v2h-2zM513 211h2v2h-2zM515 211h2v2h-2zM519.5 211h2v2h-2zM527.5 211.5h2v2h-2zM529.5 211h2v2h-2zM538 212h2v2h-2zM538 211.5h2v2h-2zM550 211.5h2v2h-2zM459 212.5h2v2h-2zM459.5 213h2v2h-2zM461.5 212h2v2h-2zM462 212.5h2v2h-2zM465.5 212.5h2v2h-2zM516.5 212h2v2h-2zM520.5 212h2v2h-2zM457.5 213.5h2v2h-2zM458 213.5h2v2h-2zM517.5 214h2v2h-2zM520 214h2v2h-2zM521 213.5h2v2h-2zM540.5 213.5h2v2h-2zM455 214h2v2h-2zM458 214.5h2v2h-2zM462 214h2v2h-2zM514 214h2v2h-2zM514 215h2v2h-2zM518 214.5h2v2h-2zM519.5 214.5h2v2h-2zM528.5 214.5h2v2h-2zM533 214.5h2v2h-2zM533 215h2v2h-2zM541.5 214.5h2v2h-2zM449 215h2v2h-2zM460.5 215h2v2h-2zM464 215.5h2v2h-2zM513.5 215h2v2h-2zM514 215.5h2v2h-2zM518.5 215.5h2v2h-2zM518 216h2v2h-2zM519 215.5h2v2h-2zM524.5 215.5h2v2h-2zM527 216h2v2h-2zM533 215.5h2v2h-2zM534.5 216h2v2h-2zM550.5 215.5h2v2h-2zM461 216h2v2h-2zM514.5 217h2v2h-2zM515.5 217h2v2h-2zM516 217h2v2h-2zM517.5 217h2v2h-2zM518.5 216h2v2h-2zM530 216.5h2v2h-2zM532 216h2v2h-2zM535 216h2v2h-2zM535 216.5h2v2h-2zM542.5 216.5h2v2h-2zM544.5 216h2v2h-2zM546 216.5h2v2h-2zM545.5 216.5h2v2h-2zM549 216h2v2h-2zM551.5 216h2v2h-2zM448.5 217.5h2v2h-2zM452 218h2v2h-2zM454 217h2v2h-2zM457 217h2v2h-2zM458.5 218h2v2h-2zM459 217.5h2v2h-2zM461.5 218h2v2h-2zM518.5 218h2v2h-2zM519.5 217h2v2h-2zM521 217h2v2h-2zM523.5 218h2v2h-2zM531 218h2v2h-2zM532 217.5h2v2h-2zM533 217h2v2h-2zM533.5 218h2v2h-2zM452 218.5h2v2h-2zM456 218.5h2v2h-2zM456 218.5h2v2h-2zM456 218.5h2v2h-2zM457 218.5h2v2h-2zM459 218.5h2v2h-2zM461.5 219h2v2h-2zM514.5 218h2v2h-2zM515.5 219h2v2h-2zM515.5 219h2v2h-2zM516.5 218.5h2v2h-2zM518.5 218.5h2v2h-2zM523 218h2v2h-2zM527 218h2v2h-2zM529 219h2v2h-2zM533 218h2v2h-2zM534 219h2v2h-2zM537.5 218h2v2h-2zM538.5 218h2v2h-2zM545.5 219h2v2h-2zM452.5 219.5h2v2h-2zM455 220h2v2h-2zM456.5 219.5h2v2h-2zM457 219.5h2v2h-2zM456.5 219.5h2v2h-2zM457 219.5h2v2h-2zM460 219.5h2v2h-2zM460.5 219.5h2v2h-2zM512.5 219.5h2v2h-2zM513.5 219.5h2v2h-2zM514.5 219.5h2v2h-2zM514 219.5h2v2h-2zM525.5 220h2v2h-2zM546.5 220h2v2h-2zM458 220h2v2h-2zM463.5 220.5h2v2h-2zM511 220.5h2v2h-2zM519 221h2v2h-2zM520 220h2v2h-2zM530.5 220.5h2v2h-2zM538 220.5h2v2h-2zM541.5 220.5h2v2h-2zM543 220.5h2v2h-2zM550.5 220.5h2v2h-2zM449.5 221h2v2h-2zM456 221h2v2h-2zM457 221.5h2v2h-2zM457 221h2v2h-2zM458 221.5h2v2h-2zM461 221.5h2v2h-2zM514 222h2v2h-2zM519 221h2v2h-2zM521 221h2v2h-2zM548 221.5h2v2h-2zM449.5 222.5h2v2h-2zM452 222.5h2v2h-2zM454.5 222h2v2h-2zM456.5 222.5h2v2h-2zM457.5 222.5h2v2h-2zM513.5 223h2v2h-2zM520.5 222.5h2v2h-2zM526.5 222.5h2v2h-2zM528 222.5h2v2h-2zM530 222.5h2v2h-2zM529.5 222h2v2h-2zM533.5 222.5h2v2h-2zM534.5 222h2v2h-2zM538 223h2v2h-2zM540.5 222.5h2v2h-2zM553 223h2v2h-2zM451 224h2v2h-2zM452.5 224h2v2h-2zM452.5 223.5h2v2h-2zM455 223.5h2v2h-2zM455.5 223h2v2h-2zM457 223.5h2v2h-2zM459.5 223h2v2h-2zM463 224h2v2h-2zM463 223.5h2v2h-2zM467 223.5h2v2h-2zM514.5 223h2v2h-2zM516 224h2v2h-2zM517 223.5h2v2h-2zM517 223h2v2h-2zM520 223.5h2v2h-2zM526 224h2v2h-2zM544 223.5h2v2h-2zM447 224.5h2v2h-2zM454 224.5h2v2h-2zM455 224.5h2v2h-2zM456.5 224.5h2v2h-2zM458 224h2v2h-2zM458.5 224.5h2v2h-2zM459 225h2v2h-2zM460.5 224h2v2h-2zM461 224.5h2v2h-2zM466.5 225h2v2h-2zM471 224.5h2v2h-2zM471.5 225h2v2h-2zM514 224h2v2h-2zM516 224h2v2h-2zM517 224h2v2h-2zM519 224.5h2v2h-2zM523 224.5h2v2h-2zM533.5 225h2v2h-2zM547 224.5h2v2h-2zM445 225h2v2h-2zM450 225.5h2v2h-2zM450.5 225h2v2h-2zM451 226h2v2h-2zM452.5 225.5h2v2h-2zM454 225h2v2h-2zM453.5 225h2v2h-2zM454.5 226h2v2h-2zM457 225.5h2v2h-2zM457 225.5h2v2h-2zM458.5 225.5h2v2h-2zM461 225h2v2h-2zM461.5 225.5h2v2h-2zM465 225.5h2v2h-2zM468.5 225.5h2v2h-2zM511.5 225.5h2v2h-2zM515 226h2v2h-2zM517.5 226h2v2h-2zM520 226h2v2h-2zM519 225h2v2h-2zM519 226h2v2h-2zM520.5 226h2v2h-2zM521.5 226h2v2h-2zM522.5 225.5h2v2h-2zM525.5 226h2v2h-2zM526.5 226h2v2h-2zM529 225h2v2h-2zM536 226h2v2h-2zM536 225h2v2h-2zM548 225.5h2v2h-2zM446.5 226.5h2v2h-2zM451 226h2v2h-2zM451.5 226.5h2v2h-2zM452 226h2v2h-2zM452.5 226h2v2h-2zM453.5 226.5h2v2h-2zM453.5 226.5h2v2h-2zM454.5 226.5h2v2h-2zM455 227h2v2h-2zM459.5 226.5h2v2h-2zM463 226.5h2v2h-2zM470 226.5h2v2h-2zM518 226.5h2v2h-2zM519.5 226h2v2h-2zM521.5 226.5h2v2h-2zM523 226.5h2v2h-2zM523.5 226.5h2v2h-2zM526 226h2v2h-2zM526.5 226.5h2v2h-2zM532.5 226.5h2v2h-2zM532.5 226.5h2v2h-2zM536 227h2v2h-2zM548 226h2v2h-2zM443 227.5h2v2h-2zM449.5 227h2v2h-2zM452 227.5h2v2h-2zM452 228h2v2h-2zM453 227.5h2v2h-2zM454 227.5h2v2h-2zM456 227h2v2h-2zM455.5 227.5h2v2h-2zM457 227.5h2v2h-2zM456 228h2v2h-2zM457 227h2v2h-2zM461 227.5h2v2h-2zM460 227.5h2v2h-2zM461.5 227.5h2v2h-2zM463.5 227.5h2v2h-2zM464.5 228h2v2h-2zM470 227.5h2v2h-2zM474.5 228h2v2h-2zM514 228h2v2h-2zM516.5 227.5h2v2h-2zM517 227.5h2v2h-2zM518 228h2v2h-2zM518.5 228h2v2h-2zM520.5 227.5h2v2h-2zM520.5 228h2v2h-2zM522.5 227h2v2h-2zM524.5 227.5h2v2h-2zM525.5 227.5h2v2h-2zM525 227.5h2v2h-2zM529.5 227.5h2v2h-2zM530.5 227h2v2h-2zM534 228h2v2h-2zM537 228h2v2h-2zM449 228.5h2v2h-2zM449.5 228.5h2v2h-2zM452 228h2v2h-2zM455.5 228.5h2v2h-2zM456.5 228.5h2v2h-2zM456.5 229h2v2h-2zM461.5 228h2v2h-2zM461.5 228.5h2v2h-2zM469 229h2v2h-2zM514.5 228h2v2h-2zM515.5 228h2v2h-2zM516.5 228.5h2v2h-2zM519 228h2v2h-2zM523.5 229h2v2h-2zM525 228.5h2v2h-2zM526.5 228.5h2v2h-2zM446.5 229.5h2v2h-2zM449.5 229h2v2h-2zM451 230h2v2h-2zM452.5 229.5h2v2h-2zM454.5 229.5h2v2h-2zM456 229.5h2v2h-2zM459 229.5h2v2h-2zM460 229.5h2v2h-2zM464.5 229.5h2v2h-2zM515.5 229.5h2v2h-2zM515.5 230h2v2h-2zM516.5 229h2v2h-2zM517.5 229.5h2v2h-2zM518 229.5h2v2h-2zM520.5 230h2v2h-2zM525.5 229.5h2v2h-2zM530.5 229.5h2v2h-2zM532 229.5h2v2h-2zM541 230h2v2h-2zM439 230.5h2v2h-2zM449 230.5h2v2h-2zM450.5 230.5h2v2h-2zM451.5 230.5h2v2h-2zM452.5 230h2v2h-2zM453 230h2v2h-2zM454 230.5h2v2h-2zM455 231h2v2h-2zM455.5 230h2v2h-2zM457.5 230h2v2h-2zM458 230.5h2v2h-2zM458 230.5h2v2h-2zM462 230.5h2v2h-2zM462 230.5h2v2h-2zM465.5 230.5h2v2h-2zM465.5 230.5h2v2h-2zM469 231h2v2h-2zM503 230.5h2v2h-2zM516.5 231h2v2h-2zM518 230h2v2h-2zM520 230h2v2h-2zM526 230.5h2v2h-2zM441.5 231.5h2v2h-2zM445.5 231.5h2v2h-2zM450.5 231.5h2v2h-2zM452.5 231.5h2v2h-2zM453 231h2v2h-2zM452.5 231h2v2h-2zM454.5 232h2v2h-2zM457.5 231.5h2v2h-2zM459 232h2v2h-2zM459.5 232h2v2h-2zM461.5 231.5h2v2h-2zM461.5 231h2v2h-2zM462 231.5h2v2h-2zM462.5 231h2v2h-2zM465 231h2v2h-2zM467.5 231.5h2v2h-2zM520 231.5h2v2h-2zM519.5 231.5h2v2h-2zM521 231h2v2h-2zM522.5 231h2v2h-2zM523.5 231.5h2v2h-2zM524 231h2v2h-2zM523.5 231.5h2v2h-2zM524 231h2v2h-2zM524 231h2v2h-2zM527 231h2v2h-2zM533 232h2v2h-2zM533.5 232h2v2h-2zM539 231.5h2v2h-2zM449.5 232.5h2v2h-2zM450.5 232h2v2h-2zM451 232.5h2v2h-2zM451 232h2v2h-2zM454 232.5h2v2h-2zM455 232h2v2h-2zM454 232.5h2v2h-2zM457 233h2v2h-2zM458.5 232h2v2h-2zM458 232.5h2v2h-2zM459 233h2v2h-2zM461.5 232h2v2h-2zM461 232h2v2h-2zM461.5 232.5h2v2h-2zM464 232.5h2v2h-2zM466.5 233h2v2h-2zM471 233h2v2h-2zM470.5 232.5h2v2h-2zM506 233h2v2h-2zM513.5 232h2v2h-2zM514.5 232.5h2v2h-2zM518.5 233h2v2h-2zM519.5 232.5h2v2h-2zM519 232.5h2v2h-2zM522.5 232.5h2v2h-2zM523.5 233h2v2h-2zM526.5 232.5h2v2h-2zM528 232.5h2v2h-2zM529 232h2v2h-2zM531 232.5h2v2h-2zM531 233h2v2h-2zM531 232.5h2v2h-2zM540.5 233h2v2h-2zM544.5 232.5h2v2h-2zM547 232.5h2v2h-2zM550.5 232.5h2v2h-2zM554.5 232h2v2h-2zM439 233.5h2v2h-2zM444 233h2v2h-2zM448 233h2v2h-2zM450.5 233.5h2v2h-2zM451.5 234h2v2h-2zM458 234h2v2h-2zM459 233.5h2v2h-2zM459.5 234h2v2h-2zM462 234h2v2h-2zM464.5 233.5h2v2h-2zM465 233.5h2v2h-2zM465.5 233h2v2h-2zM466.5 233.5h2v2h-2zM468 233.5h2v2h-2zM513 233.5h2v2h-2zM512 233.5h2v2h-2zM515 233h2v2h-2zM517.5 233.5h2v2h-2zM517.5 233.5h2v2h-2zM519 233.5h2v2h-2zM523 233.5h2v2h-2zM524 233.5h2v2h-2zM525 234h2v2h-2zM528 233.5h2v2h-2zM530 233.5h2v2h-2zM536 233.5h2v2h-2zM538 233h2v2h-2zM538.5 234h2v2h-2zM541 233.5h2v2h-2zM544 233.5h2v2h-2zM549.5 233h2v2h-2zM441.5 234h2v2h-2zM443 234.5h2v2h-2zM446 235h2v2h-2zM445 235h2v2h-2zM446 234h2v2h-2zM447 235h2v2h-2zM448 234.5h2v2h-2zM450 234h2v2h-2zM451.5 234.5h2v2h-2zM453 234h2v2h-2zM454 234.5h2v2h-2zM456.5 234.5h2v2h-2zM457 235h2v2h-2zM457.5 234h2v2h-2zM457.5 234.5h2v2h-2zM461.5 235h2v2h-2zM466 234.5h2v2h-2zM469.5 234.5h2v2h-2zM473 234h2v2h-2zM511.5 234h2v2h-2zM512.5 235h2v2h-2zM514 234.5h2v2h-2zM514.5 234.5h2v2h-2zM515 234.5h2v2h-2zM516.5 235h2v2h-2zM521.5 235h2v2h-2zM521.5 235h2v2h-2zM527.5 234.5h2v2h-2zM529.5 234h2v2h-2zM530 234h2v2h-2zM533.5 234.5h2v2h-2zM538 234.5h2v2h-2zM546 235h2v2h-2zM549.5 234h2v2h-2zM553 235h2v2h-2zM441 235.5h2v2h-2zM442.5 235.5h2v2h-2zM446 235h2v2h-2zM447.5 235.5h2v2h-2zM447 235h2v2h-2zM449.5 235.5h2v2h-2zM449.5 236h2v2h-2zM451.5 235.5h2v2h-2zM452.5 236h2v2h-2zM452.5 235.5h2v2h-2zM453.5 235.5h2v2h-2zM455.5 235.5h2v2h-2zM456.5 235.5h2v2h-2zM456.5 235h2v2h-2zM460 235.5h2v2h-2zM461 236h2v2h-2zM462 235h2v2h-2zM461 236h2v2h-2zM464.5 235.5h2v2h-2zM465.5 235.5h2v2h-2zM466.5 236h2v2h-2zM467 235h2v2h-2zM468 235.5h2v2h-2zM469 235.5h2v2h-2zM468 235.5h2v2h-2zM471.5 235.5h2v2h-2zM503.5 235h2v2h-2zM506.5 235h2v2h-2zM509 235h2v2h-2zM508.5 235.5h2v2h-2zM512.5 235h2v2h-2zM514.5 236h2v2h-2zM515.5 235.5h2v2h-2zM515.5 236h2v2h-2zM516.5 235.5h2v2h-2zM516 235h2v2h-2zM518 235.5h2v2h-2zM519.5 235.5h2v2h-2zM519 236h2v2h-2zM520 235.5h2v2h-2zM522 235.5h2v2h-2zM522 235.5h2v2h-2zM522 235.5h2v2h-2zM522.5 235.5h2v2h-2zM525 235h2v2h-2zM524.5 235.5h2v2h-2zM526 235.5h2v2h-2zM527.5 235.5h2v2h-2zM527 235.5h2v2h-2zM531 235.5h2v2h-2zM535.5 235.5h2v2h-2zM544 236h2v2h-2zM546 235.5h2v2h-2zM546.5 235.5h2v2h-2zM548.5 235.5h2v2h-2zM550 235.5h2v2h-2zM551 235.5h2v2h-2zM552 236h2v2h-2zM556 236h2v2h-2zM439.5 236.5h2v2h-2zM443.5 237h2v2h-2zM446.5 236.5h2v2h-2zM446 236.5h2v2h-2zM446.5 236.5h2v2h-2zM446.5 236h2v2h-2zM448 237h2v2h-2zM449.5 236h2v2h-2zM453.5 237h2v2h-2zM454 236h2v2h-2zM454 236.5h2v2h-2zM459.5 236h2v2h-2zM462.5 236h2v2h-2zM462.5 236.5h2v2h-2zM463.5 236h2v2h-2zM466 236h2v2h-2zM465 236h2v2h-2zM466 237h2v2h-2zM469.5 237h2v2h-2zM470.5 236.5h2v2h-2zM499 237h2v2h-2zM500 236.5h2v2h-2zM507 236.5h2v2h-2zM511 236h2v2h-2zM511.5 236.5h2v2h-2zM513.5 237h2v2h-2zM516 236.5h2v2h-2zM518 236h2v2h-2zM521 236.5h2v2h-2zM522.5 237h2v2h-2zM533.5 236h2v2h-2zM533.5 236.5h2v2h-2zM535.5 237h2v2h-2zM538.5 236h2v2h-2zM543 237h2v2h-2zM543.5 236h2v2h-2zM545.5 236.5h2v2h-2zM547 236.5h2v2h-2zM552.5 237h2v2h-2zM443 237h2v2h-2zM443.5 237.5h2v2h-2zM448 237.5h2v2h-2zM451 238h2v2h-2zM451 237.5h2v2h-2zM452.5 237.5h2v2h-2zM452 238h2v2h-2zM452.5 237h2v2h-2zM454 237h2v2h-2zM455.5 237.5h2v2h-2zM456 238h2v2h-2zM457.5 238h2v2h-2zM463.5 237.5h2v2h-2zM467.5 238h2v2h-2zM468.5 238h2v2h-2zM505 237.5h2v2h-2zM505.5 238h2v2h-2zM508 237h2v2h-2zM508.5 238h2v2h-2zM508 237h2v2h-2zM509.5 238h2v2h-2zM513.5 237h2v2h-2zM515 237h2v2h-2zM515 238h2v2h-2zM514 237.5h2v2h-2zM514 237.5h2v2h-2zM515.5 237.5h2v2h-2zM516.5 238h2v2h-2zM519.5 237.5h2v2h-2zM520.5 237.5h2v2h-2zM521 237h2v2h-2zM526.5 237h2v2h-2zM529 237.5h2v2h-2zM530 237h2v2h-2zM534 238h2v2h-2zM533 237.5h2v2h-2zM539 237h2v2h-2zM541 237h2v2h-2zM542.5 237.5h2v2h-2zM546 237.5h2v2h-2zM546.5 238h2v2h-2zM548.5 237.5h2v2h-2zM549.5 237.5h2v2h-2zM550 238h2v2h-2zM551 238h2v2h-2zM551.5 238h2v2h-2zM552.5 237.5h2v2h-2zM440 238.5h2v2h-2zM445.5 238.5h2v2h-2zM447 238.5h2v2h-2zM449.5 239h2v2h-2zM450 238.5h2v2h-2zM450.5 238.5h2v2h-2zM453 238h2v2h-2zM455 239h2v2h-2zM459 238.5h2v2h-2zM462.5 238.5h2v2h-2zM463.5 238h2v2h-2zM469 239h2v2h-2zM504.5 239h2v2h-2zM507 238.5h2v2h-2zM509 238h2v2h-2zM508.5 239h2v2h-2zM509.5 238.5h2v2h-2zM510.5 238h2v2h-2zM512 239h2v2h-2zM513.5 238h2v2h-2zM514.5 238.5h2v2h-2zM516 238.5h2v2h-2zM517 238h2v2h-2zM519 239h2v2h-2zM518 238h2v2h-2zM518.5 238.5h2v2h-2zM520.5 238h2v2h-2zM522 238.5h2v2h-2zM524 238.5h2v2h-2zM527 238.5h2v2h-2zM531 238.5h2v2h-2zM533 239h2v2h-2zM536 239h2v2h-2zM541 238h2v2h-2zM550 238h2v2h-2zM551.5 238h2v2h-2zM444 239h2v2h-2zM445.5 239.5h2v2h-2zM450.5 240h2v2h-2zM452 239.5h2v2h-2zM455.5 239h2v2h-2zM456.5 239h2v2h-2zM464.5 240h2v2h-2zM472.5 240h2v2h-2zM506.5 240h2v2h-2zM507.5 239h2v2h-2zM512.5 240h2v2h-2zM514 239.5h2v2h-2zM515.5 239.5h2v2h-2zM517 239.5h2v2h-2zM520 239h2v2h-2zM521 239.5h2v2h-2zM522.5 240h2v2h-2zM524.5 239.5h2v2h-2zM527 239h2v2h-2zM529.5 239.5h2v2h-2zM536.5 239.5h2v2h-2zM537 239.5h2v2h-2zM543.5 239.5h2v2h-2zM544.5 239.5h2v2h-2zM544.5 239h2v2h-2zM547.5 239h2v2h-2zM551.5 239.5h2v2h-2zM551.5 240h2v2h-2zM553 239.5h2v2h-2zM444 240.5h2v2h-2zM446.5 240h2v2h-2zM446.5 241h2v2h-2zM449 240.5h2v2h-2zM450 241h2v2h-2zM451.5 240.5h2v2h-2zM455 240h2v2h-2zM458.5 240.5h2v2h-2zM465.5 240.5h2v2h-2zM466.5 240.5h2v2h-2zM466 240.5h2v2h-2zM470 240.5h2v2h-2zM471.5 240.5h2v2h-2zM498 240.5h2v2h-2zM501.5 241h2v2h-2zM506 240h2v2h-2zM507.5 241h2v2h-2zM513 240.5h2v2h-2zM513 241h2v2h-2zM515.5 241h2v2h-2zM517.5 241h2v2h-2zM522.5 240.5h2v2h-2zM524.5 240.5h2v2h-2zM525.5 240h2v2h-2zM533 240.5h2v2h-2zM535 241h2v2h-2zM537.5 240h2v2h-2zM538.5 241h2v2h-2zM543 240h2v2h-2zM542.5 241h2v2h-2zM546.5 240.5h2v2h-2zM548.5 240.5h2v2h-2zM551 240h2v2h-2zM561 241h2v2h-2zM448.5 241h2v2h-2zM459.5 241h2v2h-2zM461.5 241.5h2v2h-2zM464 241h2v2h-2zM465 241.5h2v2h-2zM465 241h2v2h-2zM466.5 241.5h2v2h-2zM467.5 241h2v2h-2zM469 241h2v2h-2zM469 241h2v2h-2zM469.5 241.5h2v2h-2zM470.5 241h2v2h-2zM500 241h2v2h-2zM505.5 242h2v2h-2zM507 241h2v2h-2zM507.5 241.5h2v2h-2zM509.5 241.5h2v2h-2zM510.5 241h2v2h-2zM514.5 241h2v2h-2zM514.5 241.5h2v2h-2zM516 241h2v2h-2zM516 241.5h2v2h-2zM517.5 241h2v2h-2zM518 241h2v2h-2zM521.5 241h2v2h-2zM524 241.5h2v2h-2zM526.5 241h2v2h-2zM537.5 241.5h2v2h-2zM540 242h2v2h-2zM548 241h2v2h-2zM553 241.5h2v2h-2zM442.5 242.5h2v2h-2zM450 242.5h2v2h-2zM451 243h2v2h-2zM460 242h2v2h-2zM461.5 242.5h2v2h-2zM466 242.5h2v2h-2zM469 242.5h2v2h-2zM493 243h2v2h-2zM506.5 242.5h2v2h-2zM509.5 242.5h2v2h-2zM511 242h2v2h-2zM513.5 242h2v2h-2zM513.5 242h2v2h-2zM515 242h2v2h-2zM515 242.5h2v2h-2zM518 242.5h2v2h-2zM520 242.5h2v2h-2zM523 242h2v2h-2zM524.5 243h2v2h-2zM537 243h2v2h-2zM540 243h2v2h-2zM540 242.5h2v2h-2zM543.5 242.5h2v2h-2zM543 242.5h2v2h-2zM543.5 242.5h2v2h-2zM544.5 243h2v2h-2zM550 242.5h2v2h-2zM554 243h2v2h-2zM443.5 244h2v2h-2zM452.5 244h2v2h-2zM452 243h2v2h-2zM465.5 244h2v2h-2zM468 244h2v2h-2zM468.5 243h2v2h-2zM468.5 243h2v2h-2zM472.5 243.5h2v2h-2zM496.5 243.5h2v2h-2zM497.5 243.5h2v2h-2zM501.5 244h2v2h-2zM503 243h2v2h-2zM506 243h2v2h-2zM507.5 243h2v2h-2zM510 243h2v2h-2zM510.5 243h2v2h-2zM517 243.5h2v2h-2zM521.5 243h2v2h-2zM522 243.5h2v2h-2zM528.5 244h2v2h-2zM540 243.5h2v2h-2zM541 243.5h2v2h-2zM541.5 244h2v2h-2zM543 243.5h2v2h-2zM544 243h2v2h-2zM545 243h2v2h-2zM545 244h2v2h-2zM545 243h2v2h-2zM546 243.5h2v2h-2zM548 244h2v2h-2zM548.5 244h2v2h-2zM443.5 244.5h2v2h-2zM445.5 245h2v2h-2zM447 245h2v2h-2zM450.5 244h2v2h-2zM452.5 244h2v2h-2zM455.5 244.5h2v2h-2zM459.5 245h2v2h-2zM465.5 244.5h2v2h-2zM466 244.5h2v2h-2zM466.5 244h2v2h-2zM469 244.5h2v2h-2zM469.5 244.5h2v2h-2zM470.5 245h2v2h-2zM500 245h2v2h-2zM499 244.5h2v2h-2zM507 245h2v2h-2zM508 245h2v2h-2zM510.5 245h2v2h-2zM520 244h2v2h-2zM520.5 244h2v2h-2zM521 245h2v2h-2zM521.5 244.5h2v2h-2zM521 245h2v2h-2zM536 244h2v2h-2zM537.5 245h2v2h-2zM540 245h2v2h-2zM543 244.5h2v2h-2zM542 245h2v2h-2zM543 245h2v2h-2zM544.5 245h2v2h-2zM545 245h2v2h-2zM544 244.5h2v2h-2zM546 244h2v2h-2zM545.5 244h2v2h-2zM545.5 244.5h2v2h-2zM546 245h2v2h-2zM548 244.5h2v2h-2zM548 244.5h2v2h-2zM547.5 244h2v2h-2zM547.5 244.5h2v2h-2zM556.5 244.5h2v2h-2zM444 245h2v2h-2zM449 245h2v2h-2zM449.5 245.5h2v2h-2zM450 245.5h2v2h-2zM450.5 245h2v2h-2zM452.5 245.5h2v2h-2zM457.5 245h2v2h-2zM460.5 246h2v2h-2zM464.5 246h2v2h-2zM465.5 246h2v2h-2zM468 246h2v2h-2zM495.5 246h2v2h-2zM498.5 245h2v2h-2zM498.5 245.5h2v2h-2zM501 245.5h2v2h-2zM505.5 245h2v2h-2zM505.5 245.5h2v2h-2zM506.5 245h2v2h-2zM509.5 245.5h2v2h-2zM511 245.5h2v2h-2zM510.5 245.5h2v2h-2zM510.5 245.5h2v2h-2zM515.5 245.5h2v2h-2zM519 246h2v2h-2zM520.5 246h2v2h-2zM522 245h2v2h-2zM523.5 246h2v2h-2zM525.5 246h2v2h-2zM526 246h2v2h-2zM540.5 245.5h2v2h-2zM543 245.5h2v2h-2zM543 245h2v2h-2zM544.5 245.5h2v2h-2zM548.5 245.5h2v2h-2zM548.5 245h2v2h-2zM551 245h2v2h-2zM550.5 246h2v2h-2zM550 246h2v2h-2zM550 245.5h2v2h-2zM444.5 246h2v2h-2zM444 246.5h2v2h-2zM445 247h2v2h-2zM447.5 246.5h2v2h-2zM447 246.5h2v2h-2zM451 247h2v2h-2zM450.5 246.5h2v2h-2zM453 246.5h2v2h-2zM458.5 246.5h2v2h-2zM459.5 247h2v2h-2zM462 246.5h2v2h-2zM465.5 246.5h2v2h-2zM467 246h2v2h-2zM466 247h2v2h-2zM466 246.5h2v2h-2zM467.5 247h2v2h-2zM469 247h2v2h-2zM470 246.5h2v2h-2zM496.5 246.5h2v2h-2zM499.5 246h2v2h-2zM501.5 246.5h2v2h-2zM502.5 247h2v2h-2zM509 246.5h2v2h-2zM508 246.5h2v2h-2zM509.5 247h2v2h-2zM510 246.5h2v2h-2zM510 247h2v2h-2zM510.5 246.5h2v2h-2zM513 246.5h2v2h-2zM516 246h2v2h-2zM516 247h2v2h-2zM518.5 247h2v2h-2zM520 246h2v2h-2zM522 246.5h2v2h-2zM525 247h2v2h-2zM525 246.5h2v2h-2zM527 246.5h2v2h-2zM529 246h2v2h-2zM535 246.5h2v2h-2zM537 246.5h2v2h-2zM540 246.5h2v2h-2zM541.5 247h2v2h-2zM541 246h2v2h-2zM542 246.5h2v2h-2zM543 247h2v2h-2zM544.5 246.5h2v2h-2zM544.5 247h2v2h-2zM545.5 246.5h2v2h-2zM545.5 246.5h2v2h-2zM545.5 246h2v2h-2zM550.5 246.5h2v2h-2zM551 247h2v2h-2zM554 246h2v2h-2zM558.5 246.5h2v2h-2zM441.5 247.5h2v2h-2zM444.5 247.5h2v2h-2zM450 247h2v2h-2zM454 248h2v2h-2zM454 247h2v2h-2zM453.5 247h2v2h-2zM454.5 247h2v2h-2zM463 247.5h2v2h-2zM465.5 247.5h2v2h-2zM465.5 247.5h2v2h-2zM466 247.5h2v2h-2zM467.5 247.5h2v2h-2zM470 248h2v2h-2zM470 248h2v2h-2zM498.5 247.5h2v2h-2zM499 247h2v2h-2zM500.5 247h2v2h-2zM503.5 247h2v2h-2zM505 247.5h2v2h-2zM507.5 248h2v2h-2zM510.5 247h2v2h-2zM510.5 247h2v2h-2zM526 247.5h2v2h-2zM532 248h2v2h-2zM539.5 248h2v2h-2zM547 247.5h2v2h-2zM549.5 247.5h2v2h-2zM550.5 247.5h2v2h-2zM550.5 247.5h2v2h-2zM556 248h2v2h-2zM445 249h2v2h-2zM446.5 248h2v2h-2zM448 248.5h2v2h-2zM449 249h2v2h-2zM450 249h2v2h-2zM451.5 248.5h2v2h-2zM453.5 249h2v2h-2zM454 248.5h2v2h-2zM453 249h2v2h-2zM466 248h2v2h-2zM467 248.5h2v2h-2zM473.5 248.5h2v2h-2zM500.5 248.5h2v2h-2zM500.5 248.5h2v2h-2zM502.5 248h2v2h-2zM504 249h2v2h-2zM508.5 248h2v2h-2zM510 248.5h2v2h-2zM511 248.5h2v2h-2zM511.5 248h2v2h-2zM512.5 248h2v2h-2zM513.5 248.5h2v2h-2zM516.5 248.5h2v2h-2zM522 248.5h2v2h-2zM522 249h2v2h-2zM524 248.5h2v2h-2zM523.5 248.5h2v2h-2zM523.5 248.5h2v2h-2zM535 248.5h2v2h-2zM537 248h2v2h-2zM538.5 248h2v2h-2zM541 248.5h2v2h-2zM544 248.5h2v2h-2zM545.5 249h2v2h-2zM547.5 248.5h2v2h-2zM548.5 248h2v2h-2zM548.5 248.5h2v2h-2zM551 248h2v2h-2zM552 249h2v2h-2zM553 248h2v2h-2zM558 249h2v2h-2zM442 249h2v2h-2zM444.5 249.5h2v2h-2zM445.5 250h2v2h-2zM447 250h2v2h-2zM450 249.5h2v2h-2zM452.5 249h2v2h-2zM454 249.5h2v2h-2zM455.5 249.5h2v2h-2zM457.5 249.5h2v2h-2zM459.5 249.5h2v2h-2zM462.5 250h2v2h-2zM463 249.5h2v2h-2zM462.5 249.5h2v2h-2zM463 249.5h2v2h-2zM467 249h2v2h-2zM469.5 249h2v2h-2zM498 249.5h2v2h-2zM501 249.5h2v2h-2zM503 250h2v2h-2zM502 249.5h2v2h-2zM505.5 249.5h2v2h-2zM508 250h2v2h-2zM509.5 249h2v2h-2zM509.5 249.5h2v2h-2zM511 249.5h2v2h-2zM515 249.5h2v2h-2zM516.5 249h2v2h-2zM518.5 250h2v2h-2zM521.5 249.5h2v2h-2zM521 249h2v2h-2zM521.5 249.5h2v2h-2zM523.5 250h2v2h-2zM524 250h2v2h-2zM525 249h2v2h-2zM525 249.5h2v2h-2zM525 249.5h2v2h-2zM526.5 249.5h2v2h-2zM527.5 249.5h2v2h-2zM533 249.5h2v2h-2zM538 250h2v2h-2zM539 249h2v2h-2zM539.5 249.5h2v2h-2zM540.5 249h2v2h-2zM540.5 249h2v2h-2zM540 249h2v2h-2zM543 249.5h2v2h-2zM543.5 249h2v2h-2zM544 249.5h2v2h-2zM549 249.5h2v2h-2zM550 249.5h2v2h-2zM556 249.5h2v2h-2zM444 251h2v2h-2zM446 250h2v2h-2zM450.5 250h2v2h-2zM450.5 250.5h2v2h-2zM453 250.5h2v2h-2zM452.5 251h2v2h-2zM454.5 250.5h2v2h-2zM456.5 250.5h2v2h-2zM456.5 250h2v2h-2zM456 251h2v2h-2zM457.5 250.5h2v2h-2zM458.5 250.5h2v2h-2zM466 250.5h2v2h-2zM466.5 250.5h2v2h-2zM467 250h2v2h-2zM468.5 250h2v2h-2zM471 251h2v2h-2zM470.5 251h2v2h-2zM497 250.5h2v2h-2zM498 250h2v2h-2zM499.5 250h2v2h-2zM500 250h2v2h-2zM501.5 250h2v2h-2zM501.5 250.5h2v2h-2zM503 251h2v2h-2zM506 250h2v2h-2zM506.5 250.5h2v2h-2zM507.5 250.5h2v2h-2zM507.5 250.5h2v2h-2zM511.5 251h2v2h-2zM518 250h2v2h-2zM520 251h2v2h-2zM521 250.5h2v2h-2zM524 250.5h2v2h-2zM524.5 250.5h2v2h-2zM525 250.5h2v2h-2zM526.5 250h2v2h-2zM527.5 250.5h2v2h-2zM540 250.5h2v2h-2zM542.5 251h2v2h-2zM543 250.5h2v2h-2zM543 250h2v2h-2zM544 251h2v2h-2zM543.5 250h2v2h-2zM544 250.5h2v2h-2zM545.5 251h2v2h-2zM546.5 251h2v2h-2zM548.5 251h2v2h-2zM553.5 250.5h2v2h-2zM444.5 251h2v2h-2zM448.5 251h2v2h-2zM450 251.5h2v2h-2zM450 251h2v2h-2zM451 252h2v2h-2zM451.5 251.5h2v2h-2zM453 251h2v2h-2zM454 251h2v2h-2zM454 252h2v2h-2zM456 251h2v2h-2zM457.5 251h2v2h-2zM461.5 251.5h2v2h-2zM466 251.5h2v2h-2zM469.5 251h2v2h-2zM492 251h2v2h-2zM497 251.5h2v2h-2zM500 251.5h2v2h-2zM499 251.5h2v2h-2zM502 251h2v2h-2zM516 251.5h2v2h-2zM519.5 251.5h2v2h-2zM524.5 252h2v2h-2zM526.5 251.5h2v2h-2zM527.5 252h2v2h-2zM536.5 252h2v2h-2zM541 251.5h2v2h-2zM540.5 251.5h2v2h-2zM541.5 252h2v2h-2zM541.5 251.5h2v2h-2zM541 251h2v2h-2zM541.5 251.5h2v2h-2zM543.5 251.5h2v2h-2zM545.5 251.5h2v2h-2zM547 251.5h2v2h-2zM449.5 253h2v2h-2zM450.5 252.5h2v2h-2zM453.5 252.5h2v2h-2zM453 253h2v2h-2zM456 253h2v2h-2zM456.5 252.5h2v2h-2zM457 252.5h2v2h-2zM458 252h2v2h-2zM462 252.5h2v2h-2zM463 252.5h2v2h-2zM465 252.5h2v2h-2zM472.5 253h2v2h-2zM474.5 253h2v2h-2zM500 253h2v2h-2zM500.5 252h2v2h-2zM503.5 252.5h2v2h-2zM508.5 253h2v2h-2zM509.5 253h2v2h-2zM511.5 252.5h2v2h-2zM514 252h2v2h-2zM521 252.5h2v2h-2zM522.5 253h2v2h-2zM522.5 253h2v2h-2zM523 252h2v2h-2zM524 252h2v2h-2zM524.5 252.5h2v2h-2zM525 252.5h2v2h-2zM524.5 253h2v2h-2zM525 252.5h2v2h-2zM525 252.5h2v2h-2zM529.5 252h2v2h-2zM536.5 252.5h2v2h-2zM538.5 252h2v2h-2zM539.5 252h2v2h-2zM540.5 252.5h2v2h-2zM544 253h2v2h-2zM546 252h2v2h-2zM548 252h2v2h-2zM550.5 252.5h2v2h-2zM555 252.5h2v2h-2zM446.5 254h2v2h-2zM447.5 254h2v2h-2zM448.5 253.5h2v2h-2zM448 253.5h2v2h-2zM449 253.5h2v2h-2zM452.5 253h2v2h-2zM453 253.5h2v2h-2zM453.5 253.5h2v2h-2zM454 253h2v2h-2zM455 254h2v2h-2zM454.5 253h2v2h-2zM455.5 253h2v2h-2zM457 253.5h2v2h-2zM459.5 253h2v2h-2zM461 253.5h2v2h-2zM464 254h2v2h-2zM467.5 253.5h2v2h-2zM467 253h2v2h-2zM467.5 253h2v2h-2zM470 253h2v2h-2zM471.5 253.5h2v2h-2zM472 253.5h2v2h-2zM494.5 253.5h2v2h-2zM501 253h2v2h-2zM501.5 253h2v2h-2zM502 254h2v2h-2zM506 253h2v2h-2zM506.5 254h2v2h-2zM506.5 254h2v2h-2zM507 253.5h2v2h-2zM507 253.5h2v2h-2zM508.5 254h2v2h-2zM519.5 253.5h2v2h-2zM526.5 254h2v2h-2zM535 254h2v2h-2zM536 253h2v2h-2zM538.5 253.5h2v2h-2zM539 254h2v2h-2zM542 254h2v2h-2zM542.5 253h2v2h-2zM543 253.5h2v2h-2zM548.5 253.5h2v2h-2zM554.5 253.5h2v2h-2zM562 253h2v2h-2zM444.5 254.5h2v2h-2zM444 255h2v2h-2zM446 254.5h2v2h-2zM448.5 255h2v2h-2zM450.5 255h2v2h-2zM451 254h2v2h-2zM451.5 254h2v2h-2zM452.5 254.5h2v2h-2zM454 254h2v2h-2zM453.5 254.5h2v2h-2zM454.5 254h2v2h-2zM459 254.5h2v2h-2zM462 254h2v2h-2zM464.5 254h2v2h-2zM495 254.5h2v2h-2zM500.5 254.5h2v2h-2zM501.5 254.5h2v2h-2zM505.5 254.5h2v2h-2zM506 255h2v2h-2zM508 255h2v2h-2zM509 254.5h2v2h-2zM510 254.5h2v2h-2zM511 254.5h2v2h-2zM510 254h2v2h-2zM512 254.5h2v2h-2zM515.5 255h2v2h-2zM519.5 254.5h2v2h-2zM521 254h2v2h-2zM523.5 254h2v2h-2zM524.5 255h2v2h-2zM524.5 254.5h2v2h-2zM524.5 254h2v2h-2zM526.5 254h2v2h-2zM532.5 254.5h2v2h-2zM534 254.5h2v2h-2zM539 254h2v2h-2zM543 254.5h2v2h-2zM544 254.5h2v2h-2zM545 254h2v2h-2zM545 255h2v2h-2zM545.5 254.5h2v2h-2zM546.5 254.5h2v2h-2zM550 254h2v2h-2zM550.5 254.5h2v2h-2zM442 255.5h2v2h-2zM443.5 256h2v2h-2zM445.5 255h2v2h-2zM446 255.5h2v2h-2zM447 255.5h2v2h-2zM447.5 255.5h2v2h-2zM450.5 255.5h2v2h-2zM450.5 255.5h2v2h-2zM451.5 256h2v2h-2zM451.5 255h2v2h-2zM453 256h2v2h-2zM454 256h2v2h-2zM455 256h2v2h-2zM454.5 256h2v2h-2zM455 255h2v2h-2zM456 256h2v2h-2zM459.5 255h2v2h-2zM462 255h2v2h-2zM463.5 255h2v2h-2zM466.5 255h2v2h-2zM468.5 255.5h2v2h-2zM469 255.5h2v2h-2zM470.5 256h2v2h-2zM471.5 255.5h2v2h-2zM491 255h2v2h-2zM497 256h2v2h-2zM497 255.5h2v2h-2zM503.5 255.5h2v2h-2zM504.5 255.5h2v2h-2zM505.5 255h2v2h-2zM506.5 255h2v2h-2zM512.5 255h2v2h-2zM516.5 255.5h2v2h-2zM521 256h2v2h-2zM523.5 255.5h2v2h-2zM527.5 255.5h2v2h-2zM528 256h2v2h-2zM530 255.5h2v2h-2zM537.5 255.5h2v2h-2zM542 255.5h2v2h-2zM544.5 255h2v2h-2zM545 255.5h2v2h-2zM545.5 255h2v2h-2zM551 256h2v2h-2zM552 255h2v2h-2zM441 256h2v2h-2zM442.5 257h2v2h-2zM442.5 256.5h2v2h-2zM443.5 256.5h2v2h-2zM446.5 257h2v2h-2zM446.5 256.5h2v2h-2zM447.5 256.5h2v2h-2zM448 256.5h2v2h-2zM449.5 256h2v2h-2zM450 256.5h2v2h-2zM450.5 256h2v2h-2zM451.5 256.5h2v2h-2zM452 256.5h2v2h-2zM451.5 256.5h2v2h-2zM453 256h2v2h-2zM462.5 256.5h2v2h-2zM466.5 256h2v2h-2zM470 256h2v2h-2zM472 256.5h2v2h-2zM472 256.5h2v2h-2zM478 256h2v2h-2zM494 256h2v2h-2zM495.5 257h2v2h-2zM495.5 256.5h2v2h-2zM496.5 257h2v2h-2zM497.5 256.5h2v2h-2zM500 256h2v2h-2zM502.5 256.5h2v2h-2zM503 256.5h2v2h-2zM503 256.5h2v2h-2zM506.5 256.5h2v2h-2zM510 256.5h2v2h-2zM513 256.5h2v2h-2zM515 257h2v2h-2zM517.5 256.5h2v2h-2zM520.5 256.5h2v2h-2zM521.5 256.5h2v2h-2zM523 256h2v2h-2zM522.5 257h2v2h-2zM525 256.5h2v2h-2zM524.5 256.5h2v2h-2zM524.5 256h2v2h-2zM525 256.5h2v2h-2zM534 257h2v2h-2zM534.5 257h2v2h-2zM537 256.5h2v2h-2zM539.5 257h2v2h-2zM542 256.5h2v2h-2zM543.5 256h2v2h-2zM544.5 257h2v2h-2zM544.5 256.5h2v2h-2zM554 257h2v2h-2zM554.5 256.5h2v2h-2zM558 257h2v2h-2zM558.5 256.5h2v2h-2zM559.5 257h2v2h-2zM442 257.5h2v2h-2zM445 257.5h2v2h-2zM446 257h2v2h-2zM448.5 258h2v2h-2zM449.5 258h2v2h-2zM451.5 258h2v2h-2zM452.5 257h2v2h-2zM453.5 257h2v2h-2zM454.5 258h2v2h-2zM455.5 257.5h2v2h-2zM456.5 257.5h2v2h-2zM459 257h2v2h-2zM462.5 257.5h2v2h-2zM463.5 257.5h2v2h-2zM465 257h2v2h-2zM469.5 257.5h2v2h-2zM470 257.5h2v2h-2zM473.5 257.5h2v2h-2zM476.5 257.5h2v2h-2zM476 257.5h2v2h-2zM496 257h2v2h-2zM498.5 258h2v2h-2zM500 257h2v2h-2zM499.5 257.5h2v2h-2zM499.5 257h2v2h-2zM502.5 257.5h2v2h-2zM503.5 257.5h2v2h-2zM504.5 258h2v2h-2zM505.5 257.5h2v2h-2zM506 258h2v2h-2zM508.5 257.5h2v2h-2zM508.5 257.5h2v2h-2zM516 258h2v2h-2zM518.5 257h2v2h-2zM523 257.5h2v2h-2zM522 257.5h2v2h-2zM523.5 257.5h2v2h-2zM524 257h2v2h-2zM525.5 257.5h2v2h-2zM525.5 257.5h2v2h-2zM527.5 258h2v2h-2zM536.5 258h2v2h-2zM537 257.5h2v2h-2zM540.5 257.5h2v2h-2zM540.5 257.5h2v2h-2zM542 257h2v2h-2zM543 257h2v2h-2zM546 258h2v2h-2zM546.5 257h2v2h-2zM552.5 257.5h2v2h-2zM554 257h2v2h-2zM560.5 257.5h2v2h-2zM443.5 258.5h2v2h-2zM446 258h2v2h-2zM446 259h2v2h-2zM446 258.5h2v2h-2zM447 258.5h2v2h-2zM447 259h2v2h-2zM448 259h2v2h-2zM450.5 258h2v2h-2zM453 258h2v2h-2zM452.5 258.5h2v2h-2zM452.5 259h2v2h-2zM454 258.5h2v2h-2zM454 259h2v2h-2zM455 258h2v2h-2zM457 259h2v2h-2zM464.5 258.5h2v2h-2zM466 258h2v2h-2zM468 258.5h2v2h-2zM474 258.5h2v2h-2zM475 258.5h2v2h-2zM476 258.5h2v2h-2zM475 258.5h2v2h-2zM478 259h2v2h-2zM478.5 259h2v2h-2zM479.5 259h2v2h-2zM497.5 258h2v2h-2zM498.5 258h2v2h-2zM499.5 259h2v2h-2zM500.5 258h2v2h-2zM502 258.5h2v2h-2zM501 259h2v2h-2zM503 258h2v2h-2zM503.5 258.5h2v2h-2zM505 259h2v2h-2zM506 258.5h2v2h-2zM505.5 258.5h2v2h-2zM508 258.5h2v2h-2zM508 258.5h2v2h-2zM508.5 258.5h2v2h-2zM508.5 258.5h2v2h-2zM510 258.5h2v2h-2zM509.5 258h2v2h-2zM511 258.5h2v2h-2zM511 258h2v2h-2zM513 259h2v2h-2zM514 258.5h2v2h-2zM517 258h2v2h-2zM518 259h2v2h-2zM518.5 258.5h2v2h-2zM518.5 259h2v2h-2zM519.5 259h2v2h-2zM520.5 258.5h2v2h-2zM522 258.5h2v2h-2zM521 258.5h2v2h-2zM524.5 259h2v2h-2zM524.5 258h2v2h-2zM526.5 258h2v2h-2zM528.5 258h2v2h-2zM539.5 258.5h2v2h-2zM539.5 258.5h2v2h-2zM540.5 258.5h2v2h-2zM544 258.5h2v2h-2zM547 258.5h2v2h-2zM547.5 259h2v2h-2zM548 259h2v2h-2zM549 258.5h2v2h-2zM548.5 258.5h2v2h-2zM549.5 259h2v2h-2zM549.5 258.5h2v2h-2zM555.5 259h2v2h-2zM559.5 258.5h2v2h-2zM441 260h2v2h-2zM447.5 259.5h2v2h-2zM447.5 259.5h2v2h-2zM449.5 259h2v2h-2zM449.5 259.5h2v2h-2zM450.5 259.5h2v2h-2zM452 259.5h2v2h-2zM451 260h2v2h-2zM453.5 259h2v2h-2zM454 259h2v2h-2zM455.5 259h2v2h-2zM459 259.5h2v2h-2zM459 260h2v2h-2zM461.5 259h2v2h-2zM465 259.5h2v2h-2zM464 260h2v2h-2zM467.5 259.5h2v2h-2zM467.5 260h2v2h-2zM467.5 259.5h2v2h-2zM468.5 259.5h2v2h-2zM477.5 260h2v2h-2zM479 259.5h2v2h-2zM480 259.5h2v2h-2zM496.5 259.5h2v2h-2zM500 259.5h2v2h-2zM503.5 259.5h2v2h-2zM504.5 259.5h2v2h-2zM507.5 259.5h2v2h-2zM508 260h2v2h-2zM510.5 259.5h2v2h-2zM511.5 260h2v2h-2zM517 259h2v2h-2zM516.5 259h2v2h-2zM517 259h2v2h-2zM518.5 259h2v2h-2zM523 259.5h2v2h-2zM534 260h2v2h-2zM536 259.5h2v2h-2zM537 259h2v2h-2zM540.5 259.5h2v2h-2zM548.5 259.5h2v2h-2zM552 259.5h2v2h-2zM553.5 259.5h2v2h-2zM443.5 260.5h2v2h-2zM445.5 261h2v2h-2zM446.5 260h2v2h-2zM447.5 260h2v2h-2zM450 260h2v2h-2zM449 261h2v2h-2zM450.5 261h2v2h-2zM451.5 261h2v2h-2zM452.5 260.5h2v2h-2zM458 260h2v2h-2zM458 260.5h2v2h-2zM459 261h2v2h-2zM463.5 261h2v2h-2zM464.5 260.5h2v2h-2zM466 261h2v2h-2zM470 260.5h2v2h-2zM469 261h2v2h-2zM469.5 260h2v2h-2zM470 261h2v2h-2zM471 260.5h2v2h-2zM472.5 260h2v2h-2zM473 261h2v2h-2zM475 260.5h2v2h-2zM475.5 260.5h2v2h-2zM476.5 260.5h2v2h-2zM477 261h2v2h-2zM488.5 261h2v2h-2zM492 260.5h2v2h-2zM494.5 261h2v2h-2zM500 260.5h2v2h-2zM500.5 260.5h2v2h-2zM501 260.5h2v2h-2zM503 260.5h2v2h-2zM504.5 260h2v2h-2zM504.5 261h2v2h-2zM506.5 260h2v2h-2zM507.5 260.5h2v2h-2zM511.5 261h2v2h-2zM513 260.5h2v2h-2zM512.5 261h2v2h-2zM512.5 260.5h2v2h-2zM516.5 260h2v2h-2zM519 260.5h2v2h-2zM519.5 260h2v2h-2zM520 260h2v2h-2zM519.5 260.5h2v2h-2zM521.5 260h2v2h-2zM523 261h2v2h-2zM525 260.5h2v2h-2zM526 260.5h2v2h-2zM526 260.5h2v2h-2zM526.5 261h2v2h-2zM535.5 261h2v2h-2zM539.5 260.5h2v2h-2zM539.5 260.5h2v2h-2zM540.5 261h2v2h-2zM545.5 260.5h2v2h-2zM547.5 260.5h2v2h-2zM548 261h2v2h-2zM548.5 260h2v2h-2zM548.5 260h2v2h-2zM555.5 260.5h2v2h-2zM442.5 262h2v2h-2zM443 262h2v2h-2zM442.5 261.5h2v2h-2zM444 262h2v2h-2zM446.5 262h2v2h-2zM447 262h2v2h-2zM448.5 261h2v2h-2zM450.5 261.5h2v2h-2zM451.5 261.5h2v2h-2zM455.5 261h2v2h-2zM457.5 261h2v2h-2zM459 261.5h2v2h-2zM465 262h2v2h-2zM466.5 261.5h2v2h-2zM468 261h2v2h-2zM470 261.5h2v2h-2zM471.5 262h2v2h-2zM473 262h2v2h-2zM477 261.5h2v2h-2zM476 261.5h2v2h-2zM477.5 262h2v2h-2zM478 262h2v2h-2zM480 261.5h2v2h-2zM493 261.5h2v2h-2zM494 262h2v2h-2zM494.5 262h2v2h-2zM496.5 261h2v2h-2zM497 262h2v2h-2zM499.5 261h2v2h-2zM501.5 262h2v2h-2zM503 262h2v2h-2zM505.5 261.5h2v2h-2zM510 261.5h2v2h-2zM510 261.5h2v2h-2zM512 261.5h2v2h-2zM512 261h2v2h-2zM515 261h2v2h-2zM516.5 261h2v2h-2zM517 261.5h2v2h-2zM518 261.5h2v2h-2zM519.5 261.5h2v2h-2zM523 261.5h2v2h-2zM536 261.5h2v2h-2zM537 262h2v2h-2zM538.5 261h2v2h-2zM540 261h2v2h-2zM541.5 261h2v2h-2zM541.5 261h2v2h-2zM542.5 261.5h2v2h-2zM544 261.5h2v2h-2zM549 262h2v2h-2zM442.5 262.5h2v2h-2zM443.5 262.5h2v2h-2zM443.5 263h2v2h-2zM445 262.5h2v2h-2zM450 262h2v2h-2zM449.5 262.5h2v2h-2zM451 263h2v2h-2zM453.5 262.5h2v2h-2zM454 262h2v2h-2zM454 262h2v2h-2zM455.5 263h2v2h-2zM456 262h2v2h-2zM456 263h2v2h-2zM457 262.5h2v2h-2zM457 262.5h2v2h-2zM457.5 262.5h2v2h-2zM461.5 262.5h2v2h-2zM466 263h2v2h-2zM466.5 263h2v2h-2zM470 262.5h2v2h-2zM469 262.5h2v2h-2zM470.5 263h2v2h-2zM471 262.5h2v2h-2zM472.5 262.5h2v2h-2zM473 262.5h2v2h-2zM488.5 262h2v2h-2zM493 262.5h2v2h-2zM492 262h2v2h-2zM495 262.5h2v2h-2zM501 262h2v2h-2zM501.5 263h2v2h-2zM502 262h2v2h-2zM502.5 262.5h2v2h-2zM503.5 262.5h2v2h-2zM504.5 262h2v2h-2zM507 262h2v2h-2zM509 263h2v2h-2zM512.5 262h2v2h-2zM515 262.5h2v2h-2zM514.5 262h2v2h-2zM517 262.5h2v2h-2zM517 262.5h2v2h-2zM519 262.5h2v2h-2zM519.5 262h2v2h-2zM522 262.5h2v2h-2zM523 262h2v2h-2zM524 262h2v2h-2zM524.5 262.5h2v2h-2zM535 263h2v2h-2zM540.5 262h2v2h-2zM544 263h2v2h-2zM545 263h2v2h-2zM547.5 262.5h2v2h-2zM548.5 262.5h2v2h-2zM441.5 263.5h2v2h-2zM443.5 263h2v2h-2zM443 263.5h2v2h-2zM445 264h2v2h-2zM446 264h2v2h-2zM446 263h2v2h-2zM447.5 263h2v2h-2zM448 263.5h2v2h-2zM450 263.5h2v2h-2zM450 263.5h2v2h-2zM449.5 264h2v2h-2zM450 264h2v2h-2zM451 263.5h2v2h-2zM459 263.5h2v2h-2zM459.5 263.5h2v2h-2zM460.5 263.5h2v2h-2zM463.5 264h2v2h-2zM465 263.5h2v2h-2zM470.5 264h2v2h-2zM472.5 263.5h2v2h-2zM473.5 263.5h2v2h-2zM474 263h2v2h-2zM493.5 263.5h2v2h-2zM497.5 263.5h2v2h-2zM497 263.5h2v2h-2zM509.5 263.5h2v2h-2zM513.5 263.5h2v2h-2zM514.5 263h2v2h-2zM519.5 263h2v2h-2zM521.5 263.5h2v2h-2zM525 263.5h2v2h-2zM527.5 263.5h2v2h-2zM537.5 263.5h2v2h-2zM538.5 263.5h2v2h-2zM540 263.5h2v2h-2zM541 263.5h2v2h-2zM545 264h2v2h-2zM547 263.5h2v2h-2zM549 263.5h2v2h-2zM551 264h2v2h-2zM552 263h2v2h-2zM443.5 264h2v2h-2zM447 264.5h2v2h-2zM456 264.5h2v2h-2zM458.5 264.5h2v2h-2zM459.5 264h2v2h-2zM461 264.5h2v2h-2zM463.5 264.5h2v2h-2zM464.5 265h2v2h-2zM465.5 264.5h2v2h-2zM477.5 265h2v2h-2zM493 264.5h2v2h-2zM511.5 265h2v2h-2zM512 264.5h2v2h-2zM514 264.5h2v2h-2zM514.5 264.5h2v2h-2zM517 264h2v2h-2zM516.5 264h2v2h-2zM520.5 264.5h2v2h-2zM520.5 264h2v2h-2zM524 264.5h2v2h-2zM533 264.5h2v2h-2zM535 264.5h2v2h-2zM537.5 264.5h2v2h-2zM537.5 264.5h2v2h-2zM539 265h2v2h-2zM539.5 264.5h2v2h-2zM539.5 264.5h2v2h-2zM540.5 264.5h2v2h-2zM542.5 265h2v2h-2zM542 265h2v2h-2zM546.5 264.5h2v2h-2zM547.5 264h2v2h-2zM548 265h2v2h-2zM440 265.5h2v2h-2zM443 266h2v2h-2zM443.5 265h2v2h-2zM445 266h2v2h-2zM444.5 265.5h2v2h-2zM446.5 265.5h2v2h-2zM446.5 265h2v2h-2zM447 265h2v2h-2zM447.5 265.5h2v2h-2zM450 265.5h2v2h-2zM451 265h2v2h-2zM458 265h2v2h-2zM460 265h2v2h-2zM460 265.5h2v2h-2zM467 265h2v2h-2zM478 265h2v2h-2zM487.5 265.5h2v2h-2zM490.5 265.5h2v2h-2zM496.5 265h2v2h-2zM499.5 265h2v2h-2zM503.5 265.5h2v2h-2zM510.5 266h2v2h-2zM513 265h2v2h-2zM515 265h2v2h-2zM516.5 265.5h2v2h-2zM518.5 266h2v2h-2zM519.5 265.5h2v2h-2zM520 265h2v2h-2zM524 265.5h2v2h-2zM524 266h2v2h-2zM525.5 265h2v2h-2zM526 265.5h2v2h-2zM529 265h2v2h-2zM529 265.5h2v2h-2zM531.5 266h2v2h-2zM533.5 265.5h2v2h-2zM536.5 265h2v2h-2zM536.5 265.5h2v2h-2zM538.5 265.5h2v2h-2zM538 266h2v2h-2zM541.5 265.5h2v2h-2zM551.5 266h2v2h-2zM440 266.5h2v2h-2zM440.5 267h2v2h-2zM442 266h2v2h-2zM443 266.5h2v2h-2zM446 267h2v2h-2zM448.5 266.5h2v2h-2zM456 266h2v2h-2zM459 266.5h2v2h-2zM460 266h2v2h-2zM465 266.5h2v2h-2zM465.5 266.5h2v2h-2zM470.5 266.5h2v2h-2zM471 266h2v2h-2zM473 267h2v2h-2zM477 266h2v2h-2zM492.5 266h2v2h-2zM495 266.5h2v2h-2zM496 266.5h2v2h-2zM505 266h2v2h-2zM510 266.5h2v2h-2zM511.5 266.5h2v2h-2zM515 266.5h2v2h-2zM517 266h2v2h-2zM518 267h2v2h-2zM520 266h2v2h-2zM520 266.5h2v2h-2zM522.5 266.5h2v2h-2zM523 266.5h2v2h-2zM525 266.5h2v2h-2zM528.5 266h2v2h-2zM529 266.5h2v2h-2zM535.5 266.5h2v2h-2zM538 267h2v2h-2zM539 266.5h2v2h-2zM540.5 266.5h2v2h-2zM542.5 267h2v2h-2zM555 266.5h2v2h-2zM557 266h2v2h-2zM556.5 266.5h2v2h-2zM557 267h2v2h-2zM435 267.5h2v2h-2zM442 267.5h2v2h-2zM443 268h2v2h-2zM444 267h2v2h-2zM445.5 267.5h2v2h-2zM446.5 267.5h2v2h-2zM454 267h2v2h-2zM460 268h2v2h-2zM459 267.5h2v2h-2zM460.5 267h2v2h-2zM460.5 267.5h2v2h-2zM461.5 267.5h2v2h-2zM469 267h2v2h-2zM492 267.5h2v2h-2zM492.5 267h2v2h-2zM492 267h2v2h-2zM501.5 268h2v2h-2zM507.5 267.5h2v2h-2zM510.5 267.5h2v2h-2zM514.5 268h2v2h-2zM514 267h2v2h-2zM516 268h2v2h-2zM515.5 268h2v2h-2zM517 267.5h2v2h-2zM518 267.5h2v2h-2zM517.5 267.5h2v2h-2zM518 267.5h2v2h-2zM527 267.5h2v2h-2zM530 268h2v2h-2zM531 267h2v2h-2zM533 267h2v2h-2zM536.5 267.5h2v2h-2zM538.5 267.5h2v2h-2zM539.5 267h2v2h-2zM539.5 267h2v2h-2zM540 267.5h2v2h-2zM543 268h2v2h-2zM544 267.5h2v2h-2zM543.5 267h2v2h-2zM544.5 268h2v2h-2zM547.5 267h2v2h-2zM554.5 268h2v2h-2zM554.5 268h2v2h-2zM555 267h2v2h-2zM440 269h2v2h-2zM441.5 268.5h2v2h-2zM443 268h2v2h-2zM442 269h2v2h-2zM445 268h2v2h-2zM447 268.5h2v2h-2zM456.5 269h2v2h-2zM457 268h2v2h-2zM465.5 268.5h2v2h-2zM465.5 268.5h2v2h-2zM469.5 269h2v2h-2zM470 269h2v2h-2zM472 269h2v2h-2zM492 269h2v2h-2zM492 268.5h2v2h-2zM494 268.5h2v2h-2zM511 268.5h2v2h-2zM514.5 268.5h2v2h-2zM514.5 268.5h2v2h-2zM514.5 268.5h2v2h-2zM516.5 269h2v2h-2zM516 269h2v2h-2zM518 268.5h2v2h-2zM519.5 268.5h2v2h-2zM523 269h2v2h-2zM525 268.5h2v2h-2zM524.5 268.5h2v2h-2zM526 268.5h2v2h-2zM527.5 268.5h2v2h-2zM528.5 269h2v2h-2zM528.5 268.5h2v2h-2zM532 268h2v2h-2zM532 268.5h2v2h-2zM532.5 268.5h2v2h-2zM533.5 268.5h2v2h-2zM533.5 268.5h2v2h-2zM533.5 269h2v2h-2zM536.5 268.5h2v2h-2zM536 268.5h2v2h-2zM536 268h2v2h-2zM539 269h2v2h-2zM538.5 268h2v2h-2zM538.5 268.5h2v2h-2zM543 268h2v2h-2zM554 269h2v2h-2zM441.5 269h2v2h-2zM442.5 269.5h2v2h-2zM444 270h2v2h-2zM444.5 269.5h2v2h-2zM445 269h2v2h-2zM445 269h2v2h-2zM447 269h2v2h-2zM458 269.5h2v2h-2zM460 269h2v2h-2zM461 270h2v2h-2zM461.5 269h2v2h-2zM465 270h2v2h-2zM467 269.5h2v2h-2zM466.5 269.5h2v2h-2zM468.5 269.5h2v2h-2zM469.5 270h2v2h-2zM487 269.5h2v2h-2zM491 270h2v2h-2zM493 269h2v2h-2zM497 269h2v2h-2zM502.5 269.5h2v2h-2zM506 270h2v2h-2zM514 269.5h2v2h-2zM517.5 269.5h2v2h-2zM517.5 269.5h2v2h-2zM518 269.5h2v2h-2zM518.5 269.5h2v2h-2zM520 270h2v2h-2zM527 270h2v2h-2zM531.5 269.5h2v2h-2zM534 269h2v2h-2zM536 269.5h2v2h-2zM538 269h2v2h-2zM540 269h2v2h-2zM539 269.5h2v2h-2zM540.5 269.5h2v2h-2zM540.5 269.5h2v2h-2zM541 269.5h2v2h-2zM541.5 269.5h2v2h-2zM542.5 269h2v2h-2zM544.5 269.5h2v2h-2zM548.5 270h2v2h-2zM550 269.5h2v2h-2zM440 271h2v2h-2zM441 270.5h2v2h-2zM445 270.5h2v2h-2zM444 270h2v2h-2zM460 270.5h2v2h-2zM461 270h2v2h-2zM462 271h2v2h-2zM465.5 270.5h2v2h-2zM467.5 270h2v2h-2zM471 270.5h2v2h-2zM492.5 271h2v2h-2zM492.5 271h2v2h-2zM493.5 271h2v2h-2zM495 270.5h2v2h-2zM524.5 270h2v2h-2zM525 270h2v2h-2zM526.5 270.5h2v2h-2zM528.5 270h2v2h-2zM530.5 271h2v2h-2zM530 270h2v2h-2zM535 270.5h2v2h-2zM536.5 270.5h2v2h-2zM538 270.5h2v2h-2zM538 271h2v2h-2zM542 270.5h2v2h-2zM544 270h2v2h-2zM547.5 271h2v2h-2zM436 272h2v2h-2zM439 272h2v2h-2zM441 272h2v2h-2zM444 271.5h2v2h-2zM447 271h2v2h-2zM447 272h2v2h-2zM452 271h2v2h-2zM456.5 271.5h2v2h-2zM461 272h2v2h-2zM466.5 271.5h2v2h-2zM467 271.5h2v2h-2zM468 271.5h2v2h-2zM467 271.5h2v2h-2zM468.5 271.5h2v2h-2zM471 271.5h2v2h-2zM472 271.5h2v2h-2zM477 271.5h2v2h-2zM478 271.5h2v2h-2zM479 271.5h2v2h-2zM490.5 271h2v2h-2zM491 271.5h2v2h-2zM492.5 272h2v2h-2zM494 271.5h2v2h-2zM498 271h2v2h-2zM517 272h2v2h-2zM520 272h2v2h-2zM521 272h2v2h-2zM521.5 271h2v2h-2zM524.5 271h2v2h-2zM529 271h2v2h-2zM530 271.5h2v2h-2zM530.5 271.5h2v2h-2zM535.5 271h2v2h-2zM536 271.5h2v2h-2zM540 271.5h2v2h-2zM541 271.5h2v2h-2zM541.5 271.5h2v2h-2zM544.5 271.5h2v2h-2zM545.5 271h2v2h-2zM556.5 271h2v2h-2zM558 271.5h2v2h-2zM437 272.5h2v2h-2zM439 273h2v2h-2zM442 273h2v2h-2zM441 272h2v2h-2zM445 272.5h2v2h-2zM445.5 272.5h2v2h-2zM448.5 272h2v2h-2zM456.5 272.5h2v2h-2zM457.5 272.5h2v2h-2zM459 272.5h2v2h-2zM459 272.5h2v2h-2zM463 272h2v2h-2zM465 272.5h2v2h-2zM465 272h2v2h-2zM468 273h2v2h-2zM490 272.5h2v2h-2zM493.5 272.5h2v2h-2zM509 273h2v2h-2zM516.5 273h2v2h-2zM517.5 272.5h2v2h-2zM519 272h2v2h-2zM521.5 272h2v2h-2zM531.5 272.5h2v2h-2zM533 272.5h2v2h-2zM534 272h2v2h-2zM537 273h2v2h-2zM537.5 272h2v2h-2zM539 272.5h2v2h-2zM540 272h2v2h-2zM540.5 272h2v2h-2zM540.5 272.5h2v2h-2zM546 273h2v2h-2zM553 272h2v2h-2zM555 272h2v2h-2zM436 273.5h2v2h-2zM435.5 273h2v2h-2zM436.5 273.5h2v2h-2zM437 273.5h2v2h-2zM439 274h2v2h-2zM445.5 274h2v2h-2zM446 274h2v2h-2zM449.5 274h2v2h-2zM450.5 273.5h2v2h-2zM457.5 273.5h2v2h-2zM466 273.5h2v2h-2zM466.5 273.5h2v2h-2zM467 274h2v2h-2zM470 274h2v2h-2zM491 273.5h2v2h-2zM494.5 273h2v2h-2zM495 273.5h2v2h-2zM499 274h2v2h-2zM499 274h2v2h-2zM502 274h2v2h-2zM504.5 273.5h2v2h-2zM513 273.5h2v2h-2zM515 273.5h2v2h-2zM515 273.5h2v2h-2zM516 273h2v2h-2zM517 274h2v2h-2zM517 273.5h2v2h-2zM517.5 273.5h2v2h-2zM519 274h2v2h-2zM520.5 273.5h2v2h-2zM521.5 273.5h2v2h-2zM524 273.5h2v2h-2zM527.5 273h2v2h-2zM531 273.5h2v2h-2zM530.5 273h2v2h-2zM532 273.5h2v2h-2zM532.5 273h2v2h-2zM533 273.5h2v2h-2zM534.5 273.5h2v2h-2zM536.5 273.5h2v2h-2zM540.5 273.5h2v2h-2zM544 273.5h2v2h-2zM544 273.5h2v2h-2zM544.5 274h2v2h-2zM546.5 273.5h2v2h-2zM549 273.5h2v2h-2zM550 273.5h2v2h-2zM557.5 273.5h2v2h-2zM434 275h2v2h-2zM441 274.5h2v2h-2zM443.5 274h2v2h-2zM444.5 274.5h2v2h-2zM446 274.5h2v2h-2zM445 275h2v2h-2zM446.5 274h2v2h-2zM447.5 274.5h2v2h-2zM448 274.5h2v2h-2zM449 274.5h2v2h-2zM453 275h2v2h-2zM455.5 274h2v2h-2zM456 274h2v2h-2zM463.5 274h2v2h-2zM464.5 275h2v2h-2zM467.5 275h2v2h-2zM468 274h2v2h-2zM469 274.5h2v2h-2zM473.5 274.5h2v2h-2zM485 275h2v2h-2zM487.5 274h2v2h-2zM487.5 274.5h2v2h-2zM491 274.5h2v2h-2zM492.5 274.5h2v2h-2zM498.5 275h2v2h-2zM499 274h2v2h-2zM513.5 274.5h2v2h-2zM515.5 275h2v2h-2zM517 275h2v2h-2zM517 274.5h2v2h-2zM517 274h2v2h-2zM517 275h2v2h-2zM518 274.5h2v2h-2zM526.5 275h2v2h-2zM530 274h2v2h-2zM532 274h2v2h-2zM533 274h2v2h-2zM533.5 274h2v2h-2zM535 274.5h2v2h-2zM535.5 275h2v2h-2zM536 274h2v2h-2zM536 274.5h2v2h-2zM537.5 274.5h2v2h-2zM540.5 275h2v2h-2zM546.5 274.5h2v2h-2zM551.5 275h2v2h-2zM553 275h2v2h-2zM555 274h2v2h-2zM560 274.5h2v2h-2zM435.5 275h2v2h-2zM436.5 275.5h2v2h-2zM436.5 275.5h2v2h-2zM439 275.5h2v2h-2zM440 275.5h2v2h-2zM441 275.5h2v2h-2zM442 276h2v2h-2zM448 275h2v2h-2zM449 275.5h2v2h-2zM452 276h2v2h-2zM455.5 275.5h2v2h-2zM457.5 275h2v2h-2zM461.5 275.5h2v2h-2zM465 275.5h2v2h-2zM467 275h2v2h-2zM470 275.5h2v2h-2zM469.5 275h2v2h-2zM470 276h2v2h-2zM470 275h2v2h-2zM471 276h2v2h-2zM472 275.5h2v2h-2zM495 275.5h2v2h-2zM497.5 275.5h2v2h-2zM508.5 276h2v2h-2zM512.5 275.5h2v2h-2zM512.5 276h2v2h-2zM515.5 276h2v2h-2zM515.5 275h2v2h-2zM517 275.5h2v2h-2zM517 275.5h2v2h-2zM517 275.5h2v2h-2zM519 275.5h2v2h-2zM519 275.5h2v2h-2zM520.5 275.5h2v2h-2zM522 275.5h2v2h-2zM529.5 275.5h2v2h-2zM532.5 275.5h2v2h-2zM532.5 275h2v2h-2zM535 275.5h2v2h-2zM535.5 275.5h2v2h-2zM539 276h2v2h-2zM432.5 276.5h2v2h-2zM436.5 277h2v2h-2zM437 276.5h2v2h-2zM438 276.5h2v2h-2zM442 276.5h2v2h-2zM443.5 277h2v2h-2zM443.5 276.5h2v2h-2zM443 276.5h2v2h-2zM445.5 277h2v2h-2zM447 276.5h2v2h-2zM448 276.5h2v2h-2zM447.5 277h2v2h-2zM448 276h2v2h-2zM450 277h2v2h-2zM449.5 276h2v2h-2zM451 276.5h2v2h-2zM454.5 276.5h2v2h-2zM454.5 276.5h2v2h-2zM455 276h2v2h-2zM456.5 276.5h2v2h-2zM460.5 276.5h2v2h-2zM463.5 276h2v2h-2zM467.5 276.5h2v2h-2zM468 277h2v2h-2zM488 276.5h2v2h-2zM492 276.5h2v2h-2zM492 276.5h2v2h-2zM493 276.5h2v2h-2zM494.5 276.5h2v2h-2zM496 277h2v2h-2zM496 277h2v2h-2zM498 276h2v2h-2zM500 276.5h2v2h-2zM502.5 276h2v2h-2zM509 277h2v2h-2zM513.5 276.5h2v2h-2zM515.5 277h2v2h-2zM516 276.5h2v2h-2zM519 276.5h2v2h-2zM520 276h2v2h-2zM522.5 276h2v2h-2zM527 276h2v2h-2zM529 276h2v2h-2zM531.5 277h2v2h-2zM531.5 277h2v2h-2zM534 276.5h2v2h-2zM538.5 276.5h2v2h-2zM538 276.5h2v2h-2zM540 276.5h2v2h-2zM541.5 277h2v2h-2zM545 276h2v2h-2zM549 277h2v2h-2zM550.5 276.5h2v2h-2zM557 276h2v2h-2zM431 277h2v2h-2zM433 278h2v2h-2zM433.5 277.5h2v2h-2zM435 278h2v2h-2zM436 277h2v2h-2zM437 277h2v2h-2zM437.5 277.5h2v2h-2zM440 277.5h2v2h-2zM439 277.5h2v2h-2zM440.5 277h2v2h-2zM444 277.5h2v2h-2zM444 277.5h2v2h-2zM444.5 277.5h2v2h-2zM448.5 277h2v2h-2zM449.5 277.5h2v2h-2zM449.5 277.5h2v2h-2zM450.5 277.5h2v2h-2zM450 277h2v2h-2zM450.5 277h2v2h-2zM451.5 277h2v2h-2zM454.5 277h2v2h-2zM465 277.5h2v2h-2zM465.5 277.5h2v2h-2zM470.5 278h2v2h-2zM487.5 277.5h2v2h-2zM492.5 278h2v2h-2zM495 277.5h2v2h-2zM495.5 277.5h2v2h-2zM496.5 277.5h2v2h-2zM497 277.5h2v2h-2zM498.5 277h2v2h-2zM502 278h2v2h-2zM516 277.5h2v2h-2zM516 277.5h2v2h-2zM521 277.5h2v2h-2zM527 277.5h2v2h-2zM529.5 277.5h2v2h-2zM532.5 278h2v2h-2zM533.5 277.5h2v2h-2zM534.5 278h2v2h-2zM536 277.5h2v2h-2zM536 278h2v2h-2zM539 277.5h2v2h-2zM539 278h2v2h-2zM540 277.5h2v2h-2zM542.5 277h2v2h-2zM557 277.5h2v2h-2zM436 279h2v2h-2zM438.5 278.5h2v2h-2zM439 279h2v2h-2zM440 278.5h2v2h-2zM440.5 278.5h2v2h-2zM443 278h2v2h-2zM444.5 278.5h2v2h-2zM445 278.5h2v2h-2zM448.5 278h2v2h-2zM448.5 278.5h2v2h-2zM449 278h2v2h-2zM453 278.5h2v2h-2zM453.5 278.5h2v2h-2zM453.5 278.5h2v2h-2zM462.5 278.5h2v2h-2zM465.5 278.5h2v2h-2zM474 279h2v2h-2zM487.5 278.5h2v2h-2zM489.5 279h2v2h-2zM491.5 278.5h2v2h-2zM492 279h2v2h-2zM492.5 278h2v2h-2zM493.5 279h2v2h-2zM494 278h2v2h-2zM499.5 278h2v2h-2zM499.5 279h2v2h-2zM505 278.5h2v2h-2zM505 278.5h2v2h-2zM512 278.5h2v2h-2zM515.5 278.5h2v2h-2zM515.5 279h2v2h-2zM516 278.5h2v2h-2zM524 278.5h2v2h-2zM530 278h2v2h-2zM541 278.5h2v2h-2zM542.5 279h2v2h-2zM542 279h2v2h-2zM543 279h2v2h-2zM546 278.5h2v2h-2zM548 278h2v2h-2zM551 278h2v2h-2zM553 278.5h2v2h-2zM560 278h2v2h-2zM431.5 279h2v2h-2zM434.5 279.5h2v2h-2zM435 279.5h2v2h-2zM437 280h2v2h-2zM437 279.5h2v2h-2zM438.5 280h2v2h-2zM441.5 279.5h2v2h-2zM442.5 279.5h2v2h-2zM443 279.5h2v2h-2zM443 279.5h2v2h-2zM444.5 279.5h2v2h-2zM447 279h2v2h-2zM448.5 279.5h2v2h-2zM448.5 280h2v2h-2zM451.5 280h2v2h-2zM453 280h2v2h-2zM453 280h2v2h-2zM454.5 280h2v2h-2zM457 280h2v2h-2zM461.5 279.5h2v2h-2zM464 280h2v2h-2zM465 279.5h2v2h-2zM467 280h2v2h-2zM472.5 280h2v2h-2zM474.5 280h2v2h-2zM477.5 279h2v2h-2zM479 279.5h2v2h-2zM493.5 279.5h2v2h-2zM495.5 280h2v2h-2zM497.5 280h2v2h-2zM500.5 279h2v2h-2zM505.5 279.5h2v2h-2zM512 279.5h2v2h-2zM517.5 279h2v2h-2zM517.5 279h2v2h-2zM518.5 279.5h2v2h-2zM519 279h2v2h-2zM520.5 280h2v2h-2zM522 279.5h2v2h-2zM526.5 280h2v2h-2zM528.5 279.5h2v2h-2zM530.5 279h2v2h-2zM531 279.5h2v2h-2zM533 279.5h2v2h-2zM534.5 279.5h2v2h-2zM534.5 280h2v2h-2zM535.5 279h2v2h-2zM537 279h2v2h-2zM537 280h2v2h-2zM538 279h2v2h-2zM537.5 280h2v2h-2zM539.5 279h2v2h-2zM541 279h2v2h-2zM543 279h2v2h-2zM551.5 279.5h2v2h-2zM434 280h2v2h-2zM434.5 280.5h2v2h-2zM435.5 280.5h2v2h-2zM438 280.5h2v2h-2zM441 280.5h2v2h-2zM445 280.5h2v2h-2zM446.5 280.5h2v2h-2zM448.5 280h2v2h-2zM448.5 280.5h2v2h-2zM451.5 280.5h2v2h-2zM458 281h2v2h-2zM460.5 281h2v2h-2zM463 280.5h2v2h-2zM463 280h2v2h-2zM464.5 280.5h2v2h-2zM464.5 280.5h2v2h-2zM465.5 280.5h2v2h-2zM467 280h2v2h-2zM470.5 281h2v2h-2zM476 280h2v2h-2zM476 280.5h2v2h-2zM483.5 280h2v2h-2zM486 280h2v2h-2zM487.5 280h2v2h-2zM487.5 280.5h2v2h-2zM487 281h2v2h-2zM489 280h2v2h-2zM489 280h2v2h-2zM490 280.5h2v2h-2zM491.5 280.5h2v2h-2zM492.5 280.5h2v2h-2zM502 280h2v2h-2zM503 280h2v2h-2zM512 280h2v2h-2zM512.5 280h2v2h-2zM513.5 280.5h2v2h-2zM513.5 280.5h2v2h-2zM515 280.5h2v2h-2zM515.5 281h2v2h-2zM517 281h2v2h-2zM517 280.5h2v2h-2zM518.5 281h2v2h-2zM521 280.5h2v2h-2zM522 280.5h2v2h-2zM527 280.5h2v2h-2zM531.5 281h2v2h-2zM531.5 280h2v2h-2zM531.5 280.5h2v2h-2zM532.5 281h2v2h-2zM532.5 280.5h2v2h-2zM532.5 280.5h2v2h-2zM535.5 281h2v2h-2zM535.5 281h2v2h-2zM535 280h2v2h-2zM536 280.5h2v2h-2zM538.5 281h2v2h-2zM539.5 281h2v2h-2zM540.5 280.5h2v2h-2zM542 280h2v2h-2zM543 280.5h2v2h-2zM544 281h2v2h-2zM544.5 281h2v2h-2zM550 280.5h2v2h-2zM427 281h2v2h-2zM432 281.5h2v2h-2zM435 281h2v2h-2zM435 282h2v2h-2zM434 282h2v2h-2zM437 281.5h2v2h-2zM437 281.5h2v2h-2zM439 281.5h2v2h-2zM439 282h2v2h-2zM442 281h2v2h-2zM445 281.5h2v2h-2zM449.5 281.5h2v2h-2zM451 282h2v2h-2zM451 281.5h2v2h-2zM452 282h2v2h-2zM453 281.5h2v2h-2zM462.5 281.5h2v2h-2zM465 281.5h2v2h-2zM467.5 281.5h2v2h-2zM470 281.5h2v2h-2zM469 281.5h2v2h-2zM470.5 282h2v2h-2zM471 281.5h2v2h-2zM473.5 281.5h2v2h-2zM476 281h2v2h-2zM480.5 281.5h2v2h-2zM482.5 281.5h2v2h-2zM484.5 281.5h2v2h-2zM486.5 282h2v2h-2zM486.5 281.5h2v2h-2zM489 281.5h2v2h-2zM491 281h2v2h-2zM491 281.5h2v2h-2zM493.5 281.5h2v2h-2zM493.5 281.5h2v2h-2zM493 282h2v2h-2zM506.5 281.5h2v2h-2zM510 281.5h2v2h-2zM513 281.5h2v2h-2zM514 282h2v2h-2zM514.5 281h2v2h-2zM514 281h2v2h-2zM515 282h2v2h-2zM519.5 281h2v2h-2zM522 281.5h2v2h-2zM525.5 281h2v2h-2zM534.5 281h2v2h-2zM537 281.5h2v2h-2zM537.5 281.5h2v2h-2zM540.5 282h2v2h-2zM541 281h2v2h-2zM542 281.5h2v2h-2zM543.5 281.5h2v2h-2zM545.5 281.5h2v2h-2zM550.5 281.5h2v2h-2zM552 281h2v2h-2zM552.5 281h2v2h-2zM555 281.5h2v2h-2zM436 282h2v2h-2zM436 282.5h2v2h-2zM436 282.5h2v2h-2zM437 283h2v2h-2zM437.5 282h2v2h-2zM439.5 282h2v2h-2zM441.5 282.5h2v2h-2zM442.5 282.5h2v2h-2zM443 282.5h2v2h-2zM446 283h2v2h-2zM447 283h2v2h-2zM449 283h2v2h-2zM450.5 282.5h2v2h-2zM450 282.5h2v2h-2zM452 282.5h2v2h-2zM452.5 282.5h2v2h-2zM453.5 283h2v2h-2zM454 283h2v2h-2zM457 282.5h2v2h-2zM456 282.5h2v2h-2zM457 282.5h2v2h-2zM458 282.5h2v2h-2zM460.5 282.5h2v2h-2zM462.5 282h2v2h-2zM463.5 282.5h2v2h-2zM467 282h2v2h-2zM468 282.5h2v2h-2zM470 282.5h2v2h-2zM471 282.5h2v2h-2zM475 282.5h2v2h-2zM478 283h2v2h-2zM479.5 282.5h2v2h-2zM482.5 282.5h2v2h-2zM484.5 283h2v2h-2zM485.5 283h2v2h-2zM488.5 282.5h2v2h-2zM489.5 282h2v2h-2zM491 282.5h2v2h-2zM494 282.5h2v2h-2zM495 282h2v2h-2zM496.5 282h2v2h-2zM498 283h2v2h-2zM507.5 282.5h2v2h-2zM508 283h2v2h-2zM507 283h2v2h-2zM508.5 283h2v2h-2zM513 282.5h2v2h-2zM513 282.5h2v2h-2zM513.5 282.5h2v2h-2zM515 282h2v2h-2zM515.5 282h2v2h-2zM517 282.5h2v2h-2zM518 283h2v2h-2zM518.5 282h2v2h-2zM519 282h2v2h-2zM519.5 282.5h2v2h-2zM520.5 282.5h2v2h-2zM522.5 282.5h2v2h-2zM528 282.5h2v2h-2zM531.5 282h2v2h-2zM531 282.5h2v2h-2zM535 283h2v2h-2zM536 282.5h2v2h-2zM536.5 283h2v2h-2zM537.5 282.5h2v2h-2zM537 282h2v2h-2zM539 282h2v2h-2zM538.5 282h2v2h-2zM539 283h2v2h-2zM538.5 283h2v2h-2zM541.5 282.5h2v2h-2zM542.5 282h2v2h-2zM542 282.5h2v2h-2zM544 282.5h2v2h-2zM544.5 283h2v2h-2zM544.5 282.5h2v2h-2zM546 282.5h2v2h-2zM547.5 282.5h2v2h-2zM547.5 282.5h2v2h-2zM548.5 283h2v2h-2zM550.5 282.5h2v2h-2zM551 283h2v2h-2zM553 283h2v2h-2zM553.5 283h2v2h-2zM554.5 282.5h2v2h-2zM555 282.5h2v2h-2zM558 283h2v2h-2zM431 283h2v2h-2zM432.5 283.5h2v2h-2zM435.5 283.5h2v2h-2zM435.5 284h2v2h-2zM436.5 283h2v2h-2zM437 284h2v2h-2zM438 284h2v2h-2zM437.5 283h2v2h-2zM439.5 284h2v2h-2zM440.5 284h2v2h-2zM442 283h2v2h-2zM445 283.5h2v2h-2zM445 283.5h2v2h-2zM446.5 284h2v2h-2zM450.5 283.5h2v2h-2zM451 283h2v2h-2zM457 283.5h2v2h-2zM462.5 283.5h2v2h-2zM467.5 284h2v2h-2zM475 284h2v2h-2zM475 284h2v2h-2zM475 283.5h2v2h-2zM478.5 283.5h2v2h-2zM479 284h2v2h-2zM479 283.5h2v2h-2zM481.5 283.5h2v2h-2zM484 284h2v2h-2zM484.5 284h2v2h-2zM487.5 284h2v2h-2zM489 283h2v2h-2zM490.5 283h2v2h-2zM491.5 284h2v2h-2zM495 284h2v2h-2zM499 284h2v2h-2zM499.5 284h2v2h-2zM500.5 283.5h2v2h-2zM503 283.5h2v2h-2zM505 283h2v2h-2zM507.5 283.5h2v2h-2zM508 283h2v2h-2zM509.5 283.5h2v2h-2zM510.5 283h2v2h-2zM511 283h2v2h-2zM513 283h2v2h-2zM513 283.5h2v2h-2zM514 283h2v2h-2zM521.5 283.5h2v2h-2zM524.5 283.5h2v2h-2zM525 284h2v2h-2zM527 284h2v2h-2zM531 284h2v2h-2zM530 283.5h2v2h-2zM530 283h2v2h-2zM534.5 283.5h2v2h-2zM539.5 283h2v2h-2zM541.5 284h2v2h-2zM542 283.5h2v2h-2zM544 283h2v2h-2zM544 283.5h2v2h-2zM547 283.5h2v2h-2zM551 284h2v2h-2zM552 283.5h2v2h-2zM557 283h2v2h-2zM432 284.5h2v2h-2zM433.5 284h2v2h-2zM435 284.5h2v2h-2zM435 284h2v2h-2zM440 285h2v2h-2zM440 284.5h2v2h-2zM442 285h2v2h-2zM444.5 285h2v2h-2zM445.5 284.5h2v2h-2zM448 285h2v2h-2zM450 284.5h2v2h-2zM450 284.5h2v2h-2zM450.5 285h2v2h-2zM452.5 285h2v2h-2zM453.5 284.5h2v2h-2zM453.5 285h2v2h-2zM455 284.5h2v2h-2zM456.5 284h2v2h-2zM457.5 285h2v2h-2zM458.5 284h2v2h-2zM459.5 285h2v2h-2zM461 284.5h2v2h-2zM462.5 284.5h2v2h-2zM463.5 284.5h2v2h-2zM467.5 284.5h2v2h-2zM468 284.5h2v2h-2zM470 284.5h2v2h-2zM471 284.5h2v2h-2zM470 284h2v2h-2zM471.5 285h2v2h-2zM473 284.5h2v2h-2zM476 284.5h2v2h-2zM478.5 284h2v2h-2zM480.5 284h2v2h-2zM480.5 285h2v2h-2zM485 284.5h2v2h-2zM487.5 284.5h2v2h-2zM488.5 285h2v2h-2zM490.5 284.5h2v2h-2zM490.5 284.5h2v2h-2zM491.5 284h2v2h-2zM492.5 284.5h2v2h-2zM492.5 285h2v2h-2zM493.5 284h2v2h-2zM493.5 284.5h2v2h-2zM493 285h2v2h-2zM495.5 284.5h2v2h-2zM499.5 284h2v2h-2zM499.5 284.5h2v2h-2zM504.5 284h2v2h-2zM506.5 284.5h2v2h-2zM510 285h2v2h-2zM512 284.5h2v2h-2zM517.5 284h2v2h-2zM517 284h2v2h-2zM520 285h2v2h-2zM522.5 284.5h2v2h-2zM524 285h2v2h-2zM530 285h2v2h-2zM530.5 284.5h2v2h-2zM531 285h2v2h-2zM533 285h2v2h-2zM533 285h2v2h-2zM533.5 285h2v2h-2zM534.5 284h2v2h-2zM539 285h2v2h-2zM539 284.5h2v2h-2zM540 284h2v2h-2zM540.5 284.5h2v2h-2zM541.5 284h2v2h-2zM543 285h2v2h-2zM543 284.5h2v2h-2zM544.5 285h2v2h-2zM546 284h2v2h-2zM545 285h2v2h-2zM546.5 285h2v2h-2zM546.5 284h2v2h-2zM548 284h2v2h-2zM547 284.5h2v2h-2zM548 285h2v2h-2zM549.5 284.5h2v2h-2zM551 284h2v2h-2zM552 284.5h2v2h-2zM557.5 284h2v2h-2zM434 285h2v2h-2zM434.5 286h2v2h-2zM435.5 285.5h2v2h-2zM435.5 285.5h2v2h-2zM437 285h2v2h-2zM437 285.5h2v2h-2zM438 286h2v2h-2zM439 285h2v2h-2zM439.5 285h2v2h-2zM440.5 285.5h2v2h-2zM441 285.5h2v2h-2zM445 285.5h2v2h-2zM444.5 286h2v2h-2zM445 285.5h2v2h-2zM447.5 285.5h2v2h-2zM447 286h2v2h-2zM451 285h2v2h-2zM459 286h2v2h-2zM462 285.5h2v2h-2zM462 285.5h2v2h-2zM463.5 286h2v2h-2zM463 286h2v2h-2zM466 285.5h2v2h-2zM466 285h2v2h-2zM467 285.5h2v2h-2zM466.5 286h2v2h-2zM467 285.5h2v2h-2zM469.5 285h2v2h-2zM470 286h2v2h-2zM473.5 285.5h2v2h-2zM473 285h2v2h-2zM475 285.5h2v2h-2zM475.5 285.5h2v2h-2zM477 286h2v2h-2zM479 285.5h2v2h-2zM482.5 285.5h2v2h-2zM482.5 286h2v2h-2zM483 285h2v2h-2zM484 285h2v2h-2zM484 285.5h2v2h-2zM485.5 285h2v2h-2zM487 285.5h2v2h-2zM488 285h2v2h-2zM489 285h2v2h-2zM490.5 285h2v2h-2zM490 285.5h2v2h-2zM491.5 286h2v2h-2zM494 285.5h2v2h-2zM501.5 285.5h2v2h-2zM504 285.5h2v2h-2zM507 285.5h2v2h-2zM508.5 285.5h2v2h-2zM510.5 285.5h2v2h-2zM510.5 285.5h2v2h-2zM511 285h2v2h-2zM512 285.5h2v2h-2zM514 286h2v2h-2zM515.5 285.5h2v2h-2zM521 285.5h2v2h-2zM520 285h2v2h-2zM522 285.5h2v2h-2zM526.5 286h2v2h-2zM527.5 286h2v2h-2zM528 285.5h2v2h-2zM529 286h2v2h-2zM528 285.5h2v2h-2zM531 285.5h2v2h-2zM532 285.5h2v2h-2zM532 285.5h2v2h-2zM533 285.5h2v2h-2zM533.5 285.5h2v2h-2zM534 286h2v2h-2zM534.5 285.5h2v2h-2zM538 285.5h2v2h-2zM540 285.5h2v2h-2zM539.5 285.5h2v2h-2zM539.5 285h2v2h-2zM541 285.5h2v2h-2zM542 286h2v2h-2zM544.5 285.5h2v2h-2zM544.5 285.5h2v2h-2zM544.5 285.5h2v2h-2zM545.5 286h2v2h-2zM545.5 285.5h2v2h-2zM546 285.5h2v2h-2zM547.5 286h2v2h-2zM548.5 285.5h2v2h-2zM548.5 286h2v2h-2zM551.5 285.5h2v2h-2zM553 285h2v2h-2zM555.5 285.5h2v2h-2zM560.5 285.5h2v2h-2zM425.5 287h2v2h-2zM432.5 286.5h2v2h-2zM433 287h2v2h-2zM435.5 286h2v2h-2zM437 286.5h2v2h-2zM437.5 286h2v2h-2zM438.5 286h2v2h-2zM440.5 286.5h2v2h-2zM445.5 286.5h2v2h-2zM449 286h2v2h-2zM450.5 287h2v2h-2zM452 286.5h2v2h-2zM452 286.5h2v2h-2zM452.5 286.5h2v2h-2zM453 286.5h2v2h-2zM455 286.5h2v2h-2zM458 286.5h2v2h-2zM457.5 286.5h2v2h-2zM460.5 287h2v2h-2zM460.5 286.5h2v2h-2zM464 286.5h2v2h-2zM465 286.5h2v2h-2zM466 286h2v2h-2zM467.5 286h2v2h-2zM468 287h2v2h-2zM469 287h2v2h-2zM469.5 286.5h2v2h-2zM470 286.5h2v2h-2zM471.5 287h2v2h-2zM471 286.5h2v2h-2zM472 286.5h2v2h-2zM478 287h2v2h-2zM478.5 287h2v2h-2zM479.5 286.5h2v2h-2zM482.5 286.5h2v2h-2zM483 286.5h2v2h-2zM483.5 286.5h2v2h-2zM484.5 286.5h2v2h-2zM484 287h2v2h-2zM485.5 287h2v2h-2zM487 286.5h2v2h-2zM486 286.5h2v2h-2zM489 286.5h2v2h-2zM488 286h2v2h-2zM491 286.5h2v2h-2zM491.5 286.5h2v2h-2zM493 286.5h2v2h-2zM493.5 287h2v2h-2zM494.5 286.5h2v2h-2zM496.5 286.5h2v2h-2zM501 286.5h2v2h-2zM506 286.5h2v2h-2zM507 286.5h2v2h-2zM509 286.5h2v2h-2zM508.5 287h2v2h-2zM509 287h2v2h-2zM510.5 287h2v2h-2zM511 286.5h2v2h-2zM510 287h2v2h-2zM513.5 286.5h2v2h-2zM515.5 286.5h2v2h-2zM515.5 286h2v2h-2zM518 286h2v2h-2zM519.5 286h2v2h-2zM526 287h2v2h-2zM526.5 286.5h2v2h-2zM529 286h2v2h-2zM531 287h2v2h-2zM530.5 287h2v2h-2zM531.5 286.5h2v2h-2zM537.5 286.5h2v2h-2zM537.5 286.5h2v2h-2zM538 286.5h2v2h-2zM542.5 286.5h2v2h-2zM543 286h2v2h-2zM546.5 286h2v2h-2zM547 286.5h2v2h-2zM550 286h2v2h-2zM549 287h2v2h-2zM549 286.5h2v2h-2zM549.5 286h2v2h-2zM549.5 286h2v2h-2zM552 286.5h2v2h-2zM554 287h2v2h-2zM553.5 286.5h2v2h-2zM424 288h2v2h-2zM429.5 288h2v2h-2zM439 287.5h2v2h-2zM442.5 287.5h2v2h-2zM442.5 288h2v2h-2zM443.5 287.5h2v2h-2zM443.5 288h2v2h-2zM443 287h2v2h-2zM446.5 287h2v2h-2zM448.5 287h2v2h-2zM448 288h2v2h-2zM450 287.5h2v2h-2zM454 288h2v2h-2zM454.5 287h2v2h-2zM456 288h2v2h-2zM456.5 287h2v2h-2zM458 287.5h2v2h-2zM459.5 287h2v2h-2zM461 288h2v2h-2zM461 287h2v2h-2zM461 287.5h2v2h-2zM463.5 287h2v2h-2zM464.5 287.5h2v2h-2zM467 287.5h2v2h-2zM466.5 287.5h2v2h-2zM468.5 287.5h2v2h-2zM474.5 287.5h2v2h-2zM476 287h2v2h-2zM475 287.5h2v2h-2zM476 287.5h2v2h-2zM477 287.5h2v2h-2zM480 287.5h2v2h-2zM482 287.5h2v2h-2zM482.5 288h2v2h-2zM482.5 287.5h2v2h-2zM482.5 287h2v2h-2zM482 287.5h2v2h-2zM482 287h2v2h-2zM483.5 287.5h2v2h-2zM486 287.5h2v2h-2zM487.5 287.5h2v2h-2zM488 287.5h2v2h-2zM489.5 288h2v2h-2zM492 287.5h2v2h-2zM492 287h2v2h-2zM495.5 287.5h2v2h-2zM496.5 287h2v2h-2zM497.5 288h2v2h-2zM503.5 287h2v2h-2zM505 287.5h2v2h-2zM505 287.5h2v2h-2zM506.5 287h2v2h-2zM510.5 287.5h2v2h-2zM512 287.5h2v2h-2zM514.5 287.5h2v2h-2zM514.5 287.5h2v2h-2zM516 287.5h2v2h-2zM515 287h2v2h-2zM518 287h2v2h-2zM518.5 287h2v2h-2zM518.5 287.5h2v2h-2zM519 288h2v2h-2zM518.5 287h2v2h-2zM521 287.5h2v2h-2zM524 287.5h2v2h-2zM525 288h2v2h-2zM525.5 287.5h2v2h-2zM527 287.5h2v2h-2zM526.5 287h2v2h-2zM528 287.5h2v2h-2zM528 288h2v2h-2zM530.5 288h2v2h-2zM532 287h2v2h-2zM534 287.5h2v2h-2zM534 288h2v2h-2zM535 288h2v2h-2zM534 288h2v2h-2zM537.5 288h2v2h-2zM539.5 287.5h2v2h-2zM541.5 287.5h2v2h-2zM542.5 287.5h2v2h-2zM548 287.5h2v2h-2zM549 287h2v2h-2zM550 288h2v2h-2zM552 287h2v2h-2zM555 287.5h2v2h-2zM555 287h2v2h-2zM556 288h2v2h-2zM559 287.5h2v2h-2zM565.5 288h2v2h-2zM416.5 288h2v2h-2zM418 288.5h2v2h-2zM427.5 288.5h2v2h-2zM427 288.5h2v2h-2zM429 288.5h2v2h-2zM428.5 288.5h2v2h-2zM430 288.5h2v2h-2zM431 289h2v2h-2zM433 288h2v2h-2zM436 289h2v2h-2zM437 289h2v2h-2zM437.5 288.5h2v2h-2zM438.5 289h2v2h-2zM441.5 288h2v2h-2zM442 288.5h2v2h-2zM442.5 288.5h2v2h-2zM443 288.5h2v2h-2zM442.5 289h2v2h-2zM443.5 288h2v2h-2zM444.5 288h2v2h-2zM444.5 289h2v2h-2zM445.5 288.5h2v2h-2zM446 288.5h2v2h-2zM446.5 289h2v2h-2zM447.5 288.5h2v2h-2zM447.5 288.5h2v2h-2zM447.5 288.5h2v2h-2zM449 288.5h2v2h-2zM450.5 289h2v2h-2zM450.5 288.5h2v2h-2zM450.5 289h2v2h-2zM451.5 288.5h2v2h-2zM452.5 288h2v2h-2zM452 289h2v2h-2zM453.5 289h2v2h-2zM454.5 288.5h2v2h-2zM457 289h2v2h-2zM456.5 289h2v2h-2zM456.5 288.5h2v2h-2zM456 288h2v2h-2zM457.5 289h2v2h-2zM458.5 288.5h2v2h-2zM463.5 288.5h2v2h-2zM464.5 288.5h2v2h-2zM465.5 289h2v2h-2zM466 288.5h2v2h-2zM467 288h2v2h-2zM467 289h2v2h-2zM469 288.5h2v2h-2zM468 289h2v2h-2zM470 288.5h2v2h-2zM471.5 289h2v2h-2zM473 288.5h2v2h-2zM473 289h2v2h-2zM477 288.5h2v2h-2zM481 288.5h2v2h-2zM481 288h2v2h-2zM481.5 288.5h2v2h-2zM483 288.5h2v2h-2zM483.5 288.5h2v2h-2zM484.5 289h2v2h-2zM485.5 289h2v2h-2zM489 288.5h2v2h-2zM490 288.5h2v2h-2zM489.5 289h2v2h-2zM490.5 288h2v2h-2zM491 289h2v2h-2zM491.5 288.5h2v2h-2zM491.5 288.5h2v2h-2zM491 288h2v2h-2zM492 288.5h2v2h-2zM495 288.5h2v2h-2zM494.5 288.5h2v2h-2zM495.5 289h2v2h-2zM500.5 288.5h2v2h-2zM502 288h2v2h-2zM504.5 288.5h2v2h-2zM507 289h2v2h-2zM507.5 288h2v2h-2zM507.5 289h2v2h-2zM507 288.5h2v2h-2zM507 288h2v2h-2zM510.5 288.5h2v2h-2zM511.5 288.5h2v2h-2zM511.5 288.5h2v2h-2zM514.5 288.5h2v2h-2zM514.5 288.5h2v2h-2zM515.5 288.5h2v2h-2zM517 288.5h2v2h-2zM516.5 288.5h2v2h-2zM519 289h2v2h-2zM522 288h2v2h-2zM524 289h2v2h-2zM524.5 288h2v2h-2zM526 288.5h2v2h-2zM526.5 288h2v2h-2zM530 288.5h2v2h-2zM531.5 288.5h2v2h-2zM533.5 289h2v2h-2zM534.5 289h2v2h-2zM535 289h2v2h-2zM537 288.5h2v2h-2zM537 288.5h2v2h-2zM537.5 288.5h2v2h-2zM539.5 289h2v2h-2zM543 288h2v2h-2zM546.5 288h2v2h-2zM546 288h2v2h-2zM548.5 288.5h2v2h-2zM549.5 289h2v2h-2zM549.5 289h2v2h-2zM549 289h2v2h-2zM550 288.5h2v2h-2zM550 288.5h2v2h-2zM555 288.5h2v2h-2zM565 288h2v2h-2zM412 289.5h2v2h-2zM425.5 289h2v2h-2zM426 290h2v2h-2zM432 289h2v2h-2zM432.5 289h2v2h-2zM432.5 289h2v2h-2zM434.5 290h2v2h-2zM434.5 289.5h2v2h-2zM436 290h2v2h-2zM435.5 289.5h2v2h-2zM437 289.5h2v2h-2zM436.5 290h2v2h-2zM437 289.5h2v2h-2zM437.5 289h2v2h-2zM438 289.5h2v2h-2zM440 289.5h2v2h-2zM441 289.5h2v2h-2zM442.5 289.5h2v2h-2zM442.5 290h2v2h-2zM442 289.5h2v2h-2zM444.5 289h2v2h-2zM446.5 289h2v2h-2zM449.5 289.5h2v2h-2zM453 289.5h2v2h-2zM453.5 289.5h2v2h-2zM455.5 289h2v2h-2zM458 289h2v2h-2zM458 290h2v2h-2zM457.5 289.5h2v2h-2zM459 290h2v2h-2zM460.5 290h2v2h-2zM461.5 289.5h2v2h-2zM461.5 289.5h2v2h-2zM462 289.5h2v2h-2zM464 289.5h2v2h-2zM463.5 289h2v2h-2zM464 289.5h2v2h-2zM464 290h2v2h-2zM468 290h2v2h-2zM469 289.5h2v2h-2zM470.5 289.5h2v2h-2zM474.5 289h2v2h-2zM475 289h2v2h-2zM475 289h2v2h-2zM475.5 289.5h2v2h-2zM478 289.5h2v2h-2zM477 289.5h2v2h-2zM480.5 290h2v2h-2zM480 290h2v2h-2zM482.5 289.5h2v2h-2zM483.5 290h2v2h-2zM485 289.5h2v2h-2zM487 289.5h2v2h-2zM487.5 289.5h2v2h-2zM490.5 289.5h2v2h-2zM490 289.5h2v2h-2zM493.5 289h2v2h-2zM494 289.5h2v2h-2zM495 289.5h2v2h-2zM496 289h2v2h-2zM502 289h2v2h-2zM502.5 289h2v2h-2zM504.5 290h2v2h-2zM506 289.5h2v2h-2zM505 289.5h2v2h-2zM506.5 289h2v2h-2zM507 289.5h2v2h-2zM508 289h2v2h-2zM511 289h2v2h-2zM512 290h2v2h-2zM512.5 289.5h2v2h-2zM517 290h2v2h-2zM517.5 290h2v2h-2zM519 290h2v2h-2zM518.5 289h2v2h-2zM519.5 290h2v2h-2zM519 289h2v2h-2zM521 289.5h2v2h-2zM522 289.5h2v2h-2zM524 289.5h2v2h-2zM523 289.5h2v2h-2zM526 289.5h2v2h-2zM526.5 289.5h2v2h-2zM527.5 289.5h2v2h-2zM529 289.5h2v2h-2zM528 290h2v2h-2zM530 289h2v2h-2zM530 289.5h2v2h-2zM531 289.5h2v2h-2zM530.5 289.5h2v2h-2zM530.5 289.5h2v2h-2zM536 289.5h2v2h-2zM537 289.5h2v2h-2zM538 290h2v2h-2zM538 289h2v2h-2zM541 289h2v2h-2zM541.5 290h2v2h-2zM544 289.5h2v2h-2zM546 289.5h2v2h-2zM546 290h2v2h-2zM547.5 290h2v2h-2zM548.5 290h2v2h-2zM549.5 289.5h2v2h-2zM549 289h2v2h-2zM550 290h2v2h-2zM550.5 289.5h2v2h-2zM551.5 289.5h2v2h-2zM552.5 289h2v2h-2zM556.5 289h2v2h-2zM558 289.5h2v2h-2zM559 289.5h2v2h-2zM558.5 290h2v2h-2zM560.5 289.5h2v2h-2zM562 289.5h2v2h-2zM564 289.5h2v2h-2zM429 290h2v2h-2zM430 290h2v2h-2zM430 291h2v2h-2zM430.5 290.5h2v2h-2zM430.5 290h2v2h-2zM436 291h2v2h-2zM437 291h2v2h-2zM436.5 290h2v2h-2zM438 291h2v2h-2zM439 291h2v2h-2zM439 290.5h2v2h-2zM441 290.5h2v2h-2zM441 290.5h2v2h-2zM442.5 290.5h2v2h-2zM442.5 290.5h2v2h-2zM445.5 290h2v2h-2zM446.5 290.5h2v2h-2zM446.5 290.5h2v2h-2zM448 290.5h2v2h-2zM447.5 291h2v2h-2zM448 291h2v2h-2zM449.5 290.5h2v2h-2zM449 290.5h2v2h-2zM449.5 290.5h2v2h-2zM456 290h2v2h-2zM455.5 291h2v2h-2zM456.5 290h2v2h-2zM459 290.5h2v2h-2zM459 291h2v2h-2zM461.5 290.5h2v2h-2zM462 290.5h2v2h-2zM462 290.5h2v2h-2zM464 290h2v2h-2zM463 290h2v2h-2zM465 290h2v2h-2zM466 290h2v2h-2zM471.5 290.5h2v2h-2zM471.5 290h2v2h-2zM472.5 291h2v2h-2zM474.5 290.5h2v2h-2zM474 290h2v2h-2zM476 291h2v2h-2zM476 290h2v2h-2zM476.5 290h2v2h-2zM477.5 290.5h2v2h-2zM478 291h2v2h-2zM479 290h2v2h-2zM480.5 290h2v2h-2zM480 290.5h2v2h-2zM481 290h2v2h-2zM481 290.5h2v2h-2zM483 290h2v2h-2zM483 290.5h2v2h-2zM483.5 290.5h2v2h-2zM484.5 290h2v2h-2zM484 291h2v2h-2zM485 290h2v2h-2zM486 290h2v2h-2zM487.5 290.5h2v2h-2zM489 290.5h2v2h-2zM488.5 290.5h2v2h-2zM489.5 290.5h2v2h-2zM491.5 290h2v2h-2zM491 290.5h2v2h-2zM491.5 291h2v2h-2zM491 291h2v2h-2zM493 290.5h2v2h-2zM494.5 290.5h2v2h-2zM495.5 290.5h2v2h-2zM495.5 290.5h2v2h-2zM496 290h2v2h-2zM496.5 291h2v2h-2zM499 290h2v2h-2zM498.5 290.5h2v2h-2zM501.5 290h2v2h-2zM505.5 290.5h2v2h-2zM505 290h2v2h-2zM508 290.5h2v2h-2zM512.5 290.5h2v2h-2zM515 291h2v2h-2zM516 290.5h2v2h-2zM517.5 290.5h2v2h-2zM521 290.5h2v2h-2zM521 290.5h2v2h-2zM522.5 291h2v2h-2zM523 290h2v2h-2zM526 291h2v2h-2zM527.5 291h2v2h-2zM527 290.5h2v2h-2zM529 290h2v2h-2zM529.5 290h2v2h-2zM531.5 291h2v2h-2zM531 290.5h2v2h-2zM532 290.5h2v2h-2zM532.5 290.5h2v2h-2zM532.5 290.5h2v2h-2zM533 290.5h2v2h-2zM534 291h2v2h-2zM533.5 290.5h2v2h-2zM533.5 291h2v2h-2zM533 291h2v2h-2zM535 290.5h2v2h-2zM534.5 290.5h2v2h-2zM534.5 290.5h2v2h-2zM536 290.5h2v2h-2zM539 290h2v2h-2zM539.5 290h2v2h-2zM540 291h2v2h-2zM540.5 290.5h2v2h-2zM541 290.5h2v2h-2zM541 291h2v2h-2zM543.5 290.5h2v2h-2zM544.5 291h2v2h-2zM546.5 291h2v2h-2zM546.5 291h2v2h-2zM547.5 290.5h2v2h-2zM549.5 290.5h2v2h-2zM550 290.5h2v2h-2zM550.5 290.5h2v2h-2zM551.5 290.5h2v2h-2zM552 290h2v2h-2zM552.5 290.5h2v2h-2zM555 290.5h2v2h-2zM555 290.5h2v2h-2zM555.5 290.5h2v2h-2zM556.5 290.5h2v2h-2zM557.5 290.5h2v2h-2zM416 292h2v2h-2zM421.5 292h2v2h-2zM426.5 291h2v2h-2zM427.5 291h2v2h-2zM428.5 291h2v2h-2zM429.5 291.5h2v2h-2zM430.5 291.5h2v2h-2zM430.5 292h2v2h-2zM430 291.5h2v2h-2zM432 291h2v2h-2zM432.5 291.5h2v2h-2zM433 292h2v2h-2zM433.5 291.5h2v2h-2zM434.5 291.5h2v2h-2zM435.5 291.5h2v2h-2zM439 291.5h2v2h-2zM443 292h2v2h-2zM442 292h2v2h-2zM447 291h2v2h-2zM447.5 291h2v2h-2zM450.5 292h2v2h-2zM450.5 291.5h2v2h-2zM451.5 291h2v2h-2zM452 291.5h2v2h-2zM453 292h2v2h-2zM456 291h2v2h-2zM457 291.5h2v2h-2zM456.5 291h2v2h-2zM458.5 292h2v2h-2zM458.5 291h2v2h-2zM459 292h2v2h-2zM459.5 291.5h2v2h-2zM462 291.5h2v2h-2zM463 292h2v2h-2zM464 291h2v2h-2zM463.5 291.5h2v2h-2zM465.5 291.5h2v2h-2zM466 291.5h2v2h-2zM467.5 292h2v2h-2zM469.5 291.5h2v2h-2zM470 291.5h2v2h-2zM470.5 291.5h2v2h-2zM472 291h2v2h-2zM474 291.5h2v2h-2zM475 291.5h2v2h-2zM475.5 291.5h2v2h-2zM477.5 291h2v2h-2zM477 291h2v2h-2zM480.5 291.5h2v2h-2zM481.5 291.5h2v2h-2zM485 291.5h2v2h-2zM486 291.5h2v2h-2zM485.5 291.5h2v2h-2zM485.5 291.5h2v2h-2zM487.5 291.5h2v2h-2zM487.5 291.5h2v2h-2zM489 291.5h2v2h-2zM490.5 291.5h2v2h-2zM490.5 291.5h2v2h-2zM493 292h2v2h-2zM492.5 291.5h2v2h-2zM496 291.5h2v2h-2zM496.5 291h2v2h-2zM496 291.5h2v2h-2zM496 291h2v2h-2zM497 291h2v2h-2zM499 291.5h2v2h-2zM500.5 291.5h2v2h-2zM501.5 291.5h2v2h-2zM504 292h2v2h-2zM505 292h2v2h-2zM506.5 291h2v2h-2zM507 291h2v2h-2zM506.5 292h2v2h-2zM508.5 291.5h2v2h-2zM509.5 291h2v2h-2zM510.5 291h2v2h-2zM511 291.5h2v2h-2zM511.5 292h2v2h-2zM512.5 291h2v2h-2zM515 291.5h2v2h-2zM514.5 291.5h2v2h-2zM514.5 291.5h2v2h-2zM518.5 292h2v2h-2zM519 292h2v2h-2zM519 292h2v2h-2zM519.5 291.5h2v2h-2zM519.5 292h2v2h-2zM519.5 291.5h2v2h-2zM520.5 291.5h2v2h-2zM521.5 291.5h2v2h-2zM521 292h2v2h-2zM524 292h2v2h-2zM526.5 291.5h2v2h-2zM526.5 291.5h2v2h-2zM527 292h2v2h-2zM528.5 292h2v2h-2zM530 291.5h2v2h-2zM530 292h2v2h-2zM533 291h2v2h-2zM532.5 292h2v2h-2zM533 291.5h2v2h-2zM533.5 292h2v2h-2zM534 291.5h2v2h-2zM535 292h2v2h-2zM535.5 291h2v2h-2zM536 291.5h2v2h-2zM541.5 291.5h2v2h-2zM545 291.5h2v2h-2zM551.5 291.5h2v2h-2zM552 291.5h2v2h-2zM552.5 292h2v2h-2zM553 291.5h2v2h-2zM553 291h2v2h-2zM553.5 291h2v2h-2zM558 291.5h2v2h-2zM557 292h2v2h-2zM557.5 291h2v2h-2zM559 292h2v2h-2zM558.5 291.5h2v2h-2zM559.5 291.5h2v2h-2zM559.5 291.5h2v2h-2zM561 292h2v2h-2zM565.5 291.5h2v2h-2zM567.5 292h2v2h-2zM409.5 292.5h2v2h-2zM428 292h2v2h-2zM427 292h2v2h-2zM429.5 292.5h2v2h-2zM430.5 292h2v2h-2zM430.5 292.5h2v2h-2zM433 292.5h2v2h-2zM435 292.5h2v2h-2zM437 292.5h2v2h-2zM437.5 292.5h2v2h-2zM438 292.5h2v2h-2zM439 292h2v2h-2zM440 292.5h2v2h-2zM440 292.5h2v2h-2zM440.5 292.5h2v2h-2zM442 292.5h2v2h-2zM442.5 292.5h2v2h-2zM442.5 292h2v2h-2zM444.5 292h2v2h-2zM445 292h2v2h-2zM446 292.5h2v2h-2zM447 292.5h2v2h-2zM446.5 292h2v2h-2zM447.5 292.5h2v2h-2zM448.5 292.5h2v2h-2zM449 292.5h2v2h-2zM449.5 292h2v2h-2zM452 292h2v2h-2zM451 292.5h2v2h-2zM452 292.5h2v2h-2zM452 292h2v2h-2zM451.5 292.5h2v2h-2zM453 292.5h2v2h-2zM452.5 292.5h2v2h-2zM453.5 292h2v2h-2zM453 292.5h2v2h-2zM454.5 292h2v2h-2zM454.5 292h2v2h-2zM454.5 292.5h2v2h-2zM456 292.5h2v2h-2zM456.5 292h2v2h-2zM457.5 292.5h2v2h-2zM458.5 292.5h2v2h-2zM458 292.5h2v2h-2zM458.5 292.5h2v2h-2zM459 292h2v2h-2zM458.5 292h2v2h-2zM459 292.5h2v2h-2zM460 292.5h2v2h-2zM460 292.5h2v2h-2zM461.5 292.5h2v2h-2zM465.5 292h2v2h-2zM466 292.5h2v2h-2zM466.5 292.5h2v2h-2zM466 292h2v2h-2zM470 292h2v2h-2zM471.5 292.5h2v2h-2zM472.5 292h2v2h-2zM472 292.5h2v2h-2zM473.5 292.5h2v2h-2zM475.5 292.5h2v2h-2zM479.5 292h2v2h-2zM480.5 292h2v2h-2zM483 292.5h2v2h-2zM482.5 292.5h2v2h-2zM484 292.5h2v2h-2zM483 292h2v2h-2zM484.5 292.5h2v2h-2zM484 292.5h2v2h-2zM485 292.5h2v2h-2zM486 292h2v2h-2zM486.5 292.5h2v2h-2zM489 292.5h2v2h-2zM488.5 292h2v2h-2zM490.5 292.5h2v2h-2zM491.5 292.5h2v2h-2zM493 292.5h2v2h-2zM493 292h2v2h-2zM493.5 292.5h2v2h-2zM493 292.5h2v2h-2zM495 292.5h2v2h-2zM494 292.5h2v2h-2zM495.5 292.5h2v2h-2zM500.5 292.5h2v2h-2zM502 292.5h2v2h-2zM503.5 292h2v2h-2zM509.5 292.5h2v2h-2zM510 292.5h2v2h-2zM511.5 292.5h2v2h-2zM511 292.5h2v2h-2zM512 292.5h2v2h-2zM512.5 292.5h2v2h-2zM515 292.5h2v2h-2zM514.5 292h2v2h-2zM520 292h2v2h-2zM520.5 292.5h2v2h-2zM520.5 292.5h2v2h-2zM523 292.5h2v2h-2zM526.5 292.5h2v2h-2zM527.5 292.5h2v2h-2zM527 292h2v2h-2zM528.5 292.5h2v2h-2zM529.5 292.5h2v2h-2zM529.5 292.5h2v2h-2zM532 292h2v2h-2zM533 292.5h2v2h-2zM533 292.5h2v2h-2zM533.5 292.5h2v2h-2zM534.5 292h2v2h-2zM536 292h2v2h-2zM535 292h2v2h-2zM540 292.5h2v2h-2zM539.5 292.5h2v2h-2zM540.5 292.5h2v2h-2zM540.5 292.5h2v2h-2zM540.5 292.5h2v2h-2zM541 292h2v2h-2zM541.5 292h2v2h-2zM541.5 292.5h2v2h-2zM542.5 292.5h2v2h-2zM545.5 292.5h2v2h-2zM551 292.5h2v2h-2zM551 292.5h2v2h-2zM553 292.5h2v2h-2zM553 292.5h2v2h-2zM553 292.5h2v2h-2zM553.5 292.5h2v2h-2zM554.5 292.5h2v2h-2zM556.5 292h2v2h-2zM559 292.5h2v2h-2zM410.5 292.5h2v2h-2zM427 292.5h2v2h-2zM427.5 292.5h2v2h-2zM432 292.5h2v2h-2zM433 292.5h2v2h-2zM432 292.5h2v2h-2zM433.5 292.5h2v2h-2zM433.5 292.5h2v2h-2zM434.5 292.5h2v2h-2zM435 292.5h2v2h-2zM436.5 292.5h2v2h-2zM437 292.5h2v2h-2zM438.5 292.5h2v2h-2zM442 292.5h2v2h-2zM441.5 292.5h2v2h-2zM441.5 292.5h2v2h-2zM441.5 292.5h2v2h-2zM443.5 292.5h2v2h-2zM444.5 292.5h2v2h-2zM444.5 292.5h2v2h-2zM447 292.5h2v2h-2zM447.5 292.5h2v2h-2zM447.5 292.5h2v2h-2zM448 292.5h2v2h-2zM450 292.5h2v2h-2zM450 292.5h2v2h-2zM450 292.5h2v2h-2zM451 292.5h2v2h-2zM452.5 292.5h2v2h-2zM453 292.5h2v2h-2zM452 292.5h2v2h-2zM453.5 292.5h2v2h-2zM454.5 292.5h2v2h-2zM454.5 292.5h2v2h-2zM455 292.5h2v2h-2zM458 292.5h2v2h-2zM460 292.5h2v2h-2zM462.5 292.5h2v2h-2zM467 292.5h2v2h-2zM468.5 292.5h2v2h-2zM470.5 292.5h2v2h-2zM473 292.5h2v2h-2zM473 292.5h2v2h-2zM473.5 292.5h2v2h-2zM473 292.5h2v2h-2zM477.5 292.5h2v2h-2zM480 292.5h2v2h-2zM482.5 292.5h2v2h-2zM485 292.5h2v2h-2zM484.5 292.5h2v2h-2zM485.5 292.5h2v2h-2zM486.5 292.5h2v2h-2zM489.5 292.5h2v2h-2zM492.5 292.5h2v2h-2zM493.5 292.5h2v2h-2zM494 292.5h2v2h-2zM494.5 292.5h2v2h-2zM495.5 292.5h2v2h-2zM495.5 292.5h2v2h-2zM495.5 292.5h2v2h-2zM497 292.5h2v2h-2zM496.5 292.5h2v2h-2zM499 292.5h2v2h-2zM499.5 292.5h2v2h-2zM499 292.5h2v2h-2zM500.5 292.5h2v2h-2zM500.5 292.5h2v2h-2zM500.5 292.5h2v2h-2zM501 292.5h2v2h-2zM501 292.5h2v2h-2zM501 292.5h2v2h-2zM505 292.5h2v2h-2zM506.5 292.5h2v2h-2zM508 292.5h2v2h-2zM509.5 292.5h2v2h-2zM511 292.5h2v2h-2zM513 292.5h2v2h-2zM513 292.5h2v2h-2zM513.5 292.5h2v2h-2zM514 292.5h2v2h-2zM516 292.5h2v2h-2zM515 292.5h2v2h-2zM516 292.5h2v2h-2zM520 292.5h2v2h-2zM519.5 292.5h2v2h-2zM521 292.5h2v2h-2zM521 292.5h2v2h-2zM521 292.5h2v2h-2zM521.5 292.5h2v2h-2zM527 292.5h2v2h-2zM531.5 292.5h2v2h-2zM531 292.5h2v2h-2zM533.5 292.5h2v2h-2zM533.5 292.5h2v2h-2zM536 292.5h2v2h-2zM535 292.5h2v2h-2zM536.5 292.5h2v2h-2zM537 292.5h2v2h-2zM540.5 292.5h2v2h-2zM540 292.5h2v2h-2zM540 292.5h2v2h-2zM541.5 292.5h2v2h-2zM542.5 292.5h2v2h-2zM544 292.5h2v2h-2zM545.5 292.5h2v2h-2zM547 292.5h2v2h-2zM549 292.5h2v2h-2zM552 292.5h2v2h-2zM552 292.5h2v2h-2zM552.5 292.5h2v2h-2zM553.5 292.5h2v2h-2zM554.5 292.5h2v2h-2zM556 292.5h2v2h-2zM413 292.5h2v2h-2zM418.5 292.5h2v2h-2zM425.5 292.5h2v2h-2zM426 292.5h2v2h-2zM427.5 292.5h2v2h-2zM428.5 292.5h2v2h-2zM430 292.5h2v2h-2zM430.5 292.5h2v2h-2zM430 292.5h2v2h-2zM431.5 292.5h2v2h-2zM432 292.5h2v2h-2zM432.5 292.5h2v2h-2zM433.5 292.5h2v2h-2zM434 292.5h2v2h-2zM434 292.5h2v2h-2zM436 292.5h2v2h-2zM437.5 292.5h2v2h-2zM437 292.5h2v2h-2zM437 292.5h2v2h-2zM439.5 292.5h2v2h-2zM441.5 292.5h2v2h-2zM446 292.5h2v2h-2zM446 292.5h2v2h-2zM446.5 292.5h2v2h-2zM448.5 292.5h2v2h-2zM449 292.5h2v2h-2zM450.5 292.5h2v2h-2zM453.5 292.5h2v2h-2zM456 292.5h2v2h-2zM456 292.5h2v2h-2zM459.5 292.5h2v2h-2zM464.5 292.5h2v2h-2zM467 292.5h2v2h-2zM469 292.5h2v2h-2zM473 292.5h2v2h-2zM479 292.5h2v2h-2zM481.5 292.5h2v2h-2zM481.5 292.5h2v2h-2zM482 292.5h2v2h-2zM483.5 292.5h2v2h-2zM483 292.5h2v2h-2zM483.5 292.5h2v2h-2zM485 292.5h2v2h-2zM484 292.5h2v2h-2zM485.5 292.5h2v2h-2zM488 292.5h2v2h-2zM488 292.5h2v2h-2zM488.5 292.5h2v2h-2zM489 292.5h2v2h-2zM489.5 292.5h2v2h-2zM491 292.5h2v2h-2zM492.5 292.5h2v2h-2zM494.5 292.5h2v2h-2zM495 292.5h2v2h-2zM498 292.5h2v2h-2zM498.5 292.5h2v2h-2zM500 292.5h2v2h-2zM500.5 292.5h2v2h-2zM500.5 292.5h2v2h-2zM501 292.5h2v2h-2zM501 292.5h2v2h-2zM502 292.5h2v2h-2zM502 292.5h2v2h-2zM504 292.5h2v2h-2zM505.5 292.5h2v2h-2zM506 292.5h2v2h-2zM507 292.5h2v2h-2zM510 292.5h2v2h-2zM510.5 292.5h2v2h-2zM510.5 292.5h2v2h-2zM513 292.5h2v2h-2zM514.5 292.5h2v2h-2zM515 292.5h2v2h-2zM516.5 292.5h2v2h-2zM519 292.5h2v2h-2zM518.5 292.5h2v2h-2zM519 292.5h2v2h-2zM520 292.5h2v2h-2zM519.5 292.5h2v2h-2zM521 292.5h2v2h-2zM522 292.5h2v2h-2zM523 292.5h2v2h-2zM524 292.5h2v2h-2zM526 292.5h2v2h-2zM526.5 292.5h2v2h-2zM526.5 292.5h2v2h-2zM527.5 292.5h2v2h-2zM528.5 292.5h2v2h-2zM529 292.5h2v2h-2zM530.5 292.5h2v2h-2zM531 292.5h2v2h-2zM531 292.5h2v2h-2zM532 292.5h2v2h-2zM533 292.5h2v2h-2zM534.5 292.5h2v2h-2zM534 292.5h2v2h-2zM534.5 292.5h2v2h-2zM535.5 292.5h2v2h-2zM535.5 292.5h2v2h-2zM537 292.5h2v2h-2zM538 292.5h2v2h-2zM538 292.5h2v2h-2zM538 292.5h2v2h-2zM540 292.5h2v2h-2zM539.5 292.5h2v2h-2zM542.5 292.5h2v2h-2zM542.5 292.5h2v2h-2zM544.5 292.5h2v2h-2zM545.5 292.5h2v2h-2zM547.5 292.5h2v2h-2zM548.5 292.5h2v2h-2zM549.5 292.5h2v2h-2zM550.5 292.5h2v2h-2zM555 292.5h2v2h-2zM554 292.5h2v2h-2zM557 292.5h2v2h-2zM557.5 292.5h2v2h-2zM559.5 292.5h2v2h-2zM568.5 292.5h2v2h-2zM412.5 292.5h2v2h-2zM425.5 292.5h2v2h-2zM426.5 292.5h2v2h-2zM427 292.5h2v2h-2zM428 292.5h2v2h-2zM429 292.5h2v2h-2zM428.5 292.5h2v2h-2zM429.5 292.5h2v2h-2zM429.5 292.5h2v2h-2zM434 292.5h2v2h-2zM438 292.5h2v2h-2zM438 292.5h2v2h-2zM437.5 292.5h2v2h-2zM439 292.5h2v2h-2zM439 292.5h2v2h-2zM441 292.5h2v2h-2zM444 292.5h2v2h-2zM445 292.5h2v2h-2zM445.5 292.5h2v2h-2zM448 292.5h2v2h-2zM447.5 292.5h2v2h-2zM448 292.5h2v2h-2zM451 292.5h2v2h-2zM451.5 292.5h2v2h-2zM452.5 292.5h2v2h-2zM454 292.5h2v2h-2zM456.5 292.5h2v2h-2zM460 292.5h2v2h-2zM459.5 292.5h2v2h-2zM462 292.5h2v2h-2zM462 292.5h2v2h-2zM463.5 292.5h2v2h-2zM463.5 292.5h2v2h-2zM465.5 292.5h2v2h-2zM469.5 292.5h2v2h-2zM470 292.5h2v2h-2zM470.5 292.5h2v2h-2zM473 292.5h2v2h-2zM474.5 292.5h2v2h-2zM476 292.5h2v2h-2zM476 292.5h2v2h-2zM476.5 292.5h2v2h-2zM476.5 292.5h2v2h-2zM477.5 292.5h2v2h-2zM482 292.5h2v2h-2zM483.5 292.5h2v2h-2zM483 292.5h2v2h-2zM484.5 292.5h2v2h-2zM486.5 292.5h2v2h-2zM486 292.5h2v2h-2zM491 292.5h2v2h-2zM491 292.5h2v2h-2zM492 292.5h2v2h-2zM493.5 292.5h2v2h-2zM494.5 292.5h2v2h-2zM496 292.5h2v2h-2zM497 292.5h2v2h-2zM497.5 292.5h2v2h-2zM498 292.5h2v2h-2zM501 292.5h2v2h-2zM500.5 292.5h2v2h-2zM500.5 292.5h2v2h-2zM500.5 292.5h2v2h-2zM501 292.5h2v2h-2zM502 292.5h2v2h-2zM502 292.5h2v2h-2zM502.5 292.5h2v2h-2zM504 292.5h2v2h-2zM505 292.5h2v2h-2zM504 292.5h2v2h-2zM506.5 292.5h2v2h-2zM507 292.5h2v2h-2zM508.5 292.5h2v2h-2zM510.5 292.5h2v2h-2zM511 292.5h2v2h-2zM511.5 292.5h2v2h-2zM514 292.5h2v2h-2zM515 292.5h2v2h-2zM517 292.5h2v2h-2zM518 292.5h2v2h-2zM520 292.5h2v2h-2zM521 292.5h2v2h-2zM521.5 292.5h2v2h-2zM522 292.5h2v2h-2zM523.5 292.5h2v2h-2zM523 292.5h2v2h-2zM523.5 292.5h2v2h-2zM524 292.5h2v2h-2zM527 292.5h2v2h-2zM528.5 292.5h2v2h-2zM530 292.5h2v2h-2zM529 292.5h2v2h-2zM532 292.5h2v2h-2zM532.5 292.5h2v2h-2zM532 292.5h2v2h-2zM534 292.5h2v2h-2zM535.5 292.5h2v2h-2zM536 292.5h2v2h-2zM537 292.5h2v2h-2zM537.5 292.5h2v2h-2zM537.5 292.5h2v2h-2zM540 292.5h2v2h-2zM540.5 292.5h2v2h-2zM542 292.5h2v2h-2zM543.5 292.5h2v2h-2zM544.5 292.5h2v2h-2zM544.5 292.5h2v2h-2zM545.5 292.5h2v2h-2zM546.5 292.5h2v2h-2zM550 292.5h2v2h-2zM552 292.5h2v2h-2zM553.5 292.5h2v2h-2zM553.5 292.5h2v2h-2zM555.5 292.5h2v2h-2zM555.5 292.5h2v2h-2zM556 292.5h2v2h-2zM565 292.5h2v2h-2z" fill="#ea2a30"/>
<path d="M242.5 82h1.6v2.5h-1.6zM238.5 85h1.6v2h-1.6zM238 86h1.6v3h-1.6zM233.5 89h1.6v4h-1.6zM250 88.5h1.6v2h-1.6zM217.5 91h1.6v2h-1.6zM241.5 91h1.6v3h-1.6zM233 92.5h1.6v2h-1.6zM240.5 93h1.6v2.5h-1.6zM228 94h1.6v3h-1.6zM231.5 95h1.6v2h-1.6zM241 95h1.6v3h-1.6zM220.5 95.5h1.6v2h-1.6zM226 95.5h1.6v2h-1.6zM233 96.5h1.6v2h-1.6zM237.5 97h1.6v3h-1.6zM237 98.5h1.6v3h-1.6zM236 99.5h1.6v2h-1.6zM237.5 100h1.6v2h-1.6zM229 100.5h1.6v2h-1.6zM233 100h1.6v3h-1.6zM238.5 100.5h1.6v3h-1.6zM239 100h1.6v2h-1.6zM212 101h1.6v3h-1.6zM235.5 102h1.6v2h-1.6zM236.5 102h1.6v2h-1.6zM245 101h1.6v4h-1.6zM221 102.5h1.6v4h-1.6zM231 102.5h1.6v3h-1.6zM220.5 103h1.6v2h-1.6zM225.5 105.5h1.6v3h-1.6zM227 105.5h1.6v3h-1.6zM213.5 106h1.6v3h-1.6zM218.5 106h1.6v2h-1.6zM222.5 106h1.6v2h-1.6zM227 106.5h1.6v2h-1.6zM215.5 107h1.6v3h-1.6zM222 107.5h1.6v2h-1.6zM222.5 108h1.6v2.5h-1.6zM232 108h1.6v3h-1.6zM221.5 108h1.6v2h-1.6zM232 108.5h1.6v3h-1.6zM217 109.5h1.6v2h-1.6zM222.5 109h1.6v3h-1.6zM225 110h1.6v2.5h-1.6zM232 109.5h1.6v3h-1.6zM219.5 110h1.6v4h-1.6zM215 111.5h1.6v2h-1.6zM223.5 113h1.6v2h-1.6zM224.5 113h1.6v3h-1.6zM219.5 113.5h1.6v3h-1.6zM219 115h1.6v4h-1.6zM224.5 114h1.6v2h-1.6zM230.5 114h1.6v2.5h-1.6zM230 114h1.6v2h-1.6zM221 115h1.6v3h-1.6zM221 115h1.6v4h-1.6zM218 116.5h1.6v2h-1.6zM221 117h1.6v3h-1.6zM232 117.5h1.6v2h-1.6zM245 118.5h1.6v3h-1.6zM225 119h1.6v2h-1.6zM227.5 119h1.6v3h-1.6zM232 119.5h1.6v4h-1.6zM242 120h1.6v3h-1.6zM245 119h1.6v3h-1.6zM225.5 121.5h1.6v2.5h-1.6zM231 121.5h1.6v3h-1.6zM236.5 121.5h1.6v3h-1.6zM234 122h1.6v3h-1.6zM224.5 124h1.6v2.5h-1.6zM228 124.5h1.6v2.5h-1.6zM245 125h1.6v2h-1.6zM239.5 125.5h1.6v2h-1.6zM241.5 125.5h1.6v4h-1.6zM226.5 126.5h1.6v2h-1.6zM236 126.5h1.6v2h-1.6zM240 126.5h1.6v3h-1.6zM232.5 127h1.6v2.5h-1.6zM247.5 127.5h1.6v3h-1.6zM248.5 128.5h1.6v3h-1.6zM222 129.5h1.6v2.5h-1.6zM228 130h1.6v4h-1.6zM202 131h1.6v3h-1.6zM213 132.5h1.6v2.5h-1.6zM207 134h1.6v3h-1.6zM207.5 133h1.6v2h-1.6zM227.5 133.5h1.6v2h-1.6zM248 133h1.6v3h-1.6zM211 135.5h1.6v3h-1.6zM213 135.5h1.6v2h-1.6zM211 137.5h1.6v2.5h-1.6zM210.5 137.5h1.6v2h-1.6zM220 138h1.6v3h-1.6zM233 137.5h1.6v3h-1.6zM210 138.5h1.6v2h-1.6zM203 140h1.6v4h-1.6zM218.5 140h1.6v2h-1.6zM202.5 141.5h1.6v3h-1.6zM215.5 142h1.6v3h-1.6zM216.5 141.5h1.6v2.5h-1.6zM233 142h1.6v2.5h-1.6zM240.5 141.5h1.6v4h-1.6zM200 142.5h1.6v2.5h-1.6zM217.5 142h1.6v3h-1.6zM237.5 142h1.6v3h-1.6zM206 143h1.6v3h-1.6zM246.5 143.5h1.6v3h-1.6zM206.5 144.5h1.6v2h-1.6zM206.5 145.5h1.6v2h-1.6zM222 145.5h1.6v2.5h-1.6zM226 146h1.6v3h-1.6zM200.5 148h1.6v4h-1.6zM225.5 147h1.6v4h-1.6zM234 147h1.6v2h-1.6zM193 149h1.6v2h-1.6zM241.5 149h1.6v4h-1.6zM206.5 151h1.6v4h-1.6zM208 150.5h1.6v2.5h-1.6zM192 152h1.6v4h-1.6zM198.5 151.5h1.6v3h-1.6zM202 151h1.6v4h-1.6zM215.5 152h1.6v3h-1.6zM198.5 152h1.6v2.5h-1.6zM195.5 153.5h1.6v4h-1.6zM202 154h1.6v3h-1.6zM247 153h1.6v4h-1.6zM201.5 155.5h1.6v2.5h-1.6zM195 156.5h1.6v2h-1.6zM193 158h1.6v3h-1.6zM194.5 158h1.6v2.5h-1.6zM201.5 158h1.6v2h-1.6zM195 159.5h1.6v3h-1.6zM192.5 160.5h1.6v2h-1.6zM192.5 161h1.6v3h-1.6zM195.5 160.5h1.6v2h-1.6zM212 160.5h1.6v2h-1.6zM190.5 162h1.6v2.5h-1.6zM193 162h1.6v2h-1.6zM197 162.5h1.6v4h-1.6zM241 162.5h1.6v2h-1.6zM197 163.5h1.6v3h-1.6zM193.5 165h1.6v3h-1.6zM194.5 164h1.6v3h-1.6zM195 165.5h1.6v2h-1.6zM200 165.5h1.6v2h-1.6zM219 165h1.6v3h-1.6zM189.5 166h1.6v3h-1.6zM195 166h1.6v3h-1.6zM195 166.5h1.6v2.5h-1.6zM197.5 166.5h1.6v2h-1.6zM201.5 167h1.6v3h-1.6zM199.5 167.5h1.6v3h-1.6zM185.5 168.5h1.6v2.5h-1.6zM190.5 168h1.6v4h-1.6zM194.5 169h1.6v3h-1.6zM196 168h1.6v2.5h-1.6zM195.5 168h1.6v4h-1.6zM200 168.5h1.6v3h-1.6zM204 168.5h1.6v2h-1.6zM239.5 169h1.6v2h-1.6zM189.5 171h1.6v2h-1.6zM188 172h1.6v2h-1.6zM194 171.5h1.6v2h-1.6zM235 171.5h1.6v2h-1.6zM188 172.5h1.6v4h-1.6zM191 173h1.6v2h-1.6zM190 173h1.6v2h-1.6zM190 173.5h1.6v3h-1.6zM204.5 173.5h1.6v3h-1.6zM236 173.5h1.6v2h-1.6zM249.5 173.5h1.6v2.5h-1.6zM192 174h1.6v2.5h-1.6zM198.5 174h1.6v2h-1.6zM211.5 174.5h1.6v2h-1.6zM214.5 174.5h1.6v3h-1.6zM247 174h1.6v3h-1.6zM184.5 175.5h1.6v2.5h-1.6zM185 175.5h1.6v3h-1.6zM241 175.5h1.6v3h-1.6zM249 175.5h1.6v2.5h-1.6zM202 177h1.6v2h-1.6zM204.5 176.5h1.6v4h-1.6zM212.5 176.5h1.6v3h-1.6zM190 177.5h1.6v3h-1.6zM209.5 177.5h1.6v4h-1.6zM215.5 177h1.6v4h-1.6zM215 177.5h1.6v4h-1.6zM204.5 179h1.6v2h-1.6zM212 179h1.6v3h-1.6zM217 179h1.6v4h-1.6zM245.5 179.5h1.6v3h-1.6zM192 181h1.6v3h-1.6zM207 180.5h1.6v3h-1.6zM212.5 180h1.6v3h-1.6zM235.5 180.5h1.6v3h-1.6zM236 180.5h1.6v2h-1.6zM242 180h1.6v3h-1.6zM210.5 181h1.6v4h-1.6zM255.5 181h1.6v3h-1.6zM198.5 182.5h1.6v2h-1.6zM203 182.5h1.6v2h-1.6zM205 183h1.6v2h-1.6zM249.5 182.5h1.6v2h-1.6zM252 182.5h1.6v3h-1.6zM179.5 183h1.6v2h-1.6zM202.5 183.5h1.6v2h-1.6zM248.5 183.5h1.6v2.5h-1.6zM210 186.5h1.6v3h-1.6zM215 187h1.6v2h-1.6zM242.5 186.5h1.6v2h-1.6zM245 187h1.6v2h-1.6zM257 186.5h1.6v3h-1.6zM183.5 188.5h1.6v2h-1.6zM185 188.5h1.6v3h-1.6zM181 189.5h1.6v2h-1.6zM214.5 189.5h1.6v2.5h-1.6zM221.5 189.5h1.6v3h-1.6zM243.5 190h1.6v2h-1.6zM205.5 190h1.6v2h-1.6zM212.5 190.5h1.6v2h-1.6zM213.5 191h1.6v3h-1.6zM214 190.5h1.6v3h-1.6zM197.5 191h1.6v2h-1.6zM250 191.5h1.6v4h-1.6zM252 192h1.6v2.5h-1.6zM253.5 192.5h1.6v2.5h-1.6zM255 192.5h1.6v3h-1.6zM181.5 193h1.6v2.5h-1.6zM214.5 194h1.6v3h-1.6zM185 194h1.6v2h-1.6zM213.5 195.5h1.6v2h-1.6zM179 197h1.6v3h-1.6zM180 197.5h1.6v3h-1.6zM182 197.5h1.6v3h-1.6zM193 197.5h1.6v3h-1.6zM179.5 198.5h1.6v2.5h-1.6zM216 198h1.6v2h-1.6zM184.5 199.5h1.6v2h-1.6zM240 199.5h1.6v2h-1.6zM250.5 200h1.6v4h-1.6zM181 201.5h1.6v2.5h-1.6zM206 202h1.6v4h-1.6zM211 201.5h1.6v2.5h-1.6zM174.5 202.5h1.6v3h-1.6zM236 202.5h1.6v4h-1.6zM236.5 202.5h1.6v2h-1.6zM249 203h1.6v3h-1.6zM253.5 202h1.6v2h-1.6zM183.5 203.5h1.6v2h-1.6zM211.5 203.5h1.6v3h-1.6zM254.5 203h1.6v2.5h-1.6zM183.5 205h1.6v2h-1.6zM183 205h1.6v4h-1.6zM199 204.5h1.6v3h-1.6zM181 205h1.6v2h-1.6zM183.5 206h1.6v3h-1.6zM237 205h1.6v2.5h-1.6zM252 205.5h1.6v4h-1.6zM173 206.5h1.6v2h-1.6zM249.5 207h1.6v4h-1.6zM181.5 207.5h1.6v2.5h-1.6zM213.5 207.5h1.6v3h-1.6zM199 209h1.6v2.5h-1.6zM201 210h1.6v2h-1.6zM206.5 209.5h1.6v2.5h-1.6zM204.5 210h1.6v2h-1.6zM233 210h1.6v3h-1.6zM233.5 210h1.6v3h-1.6zM236 210.5h1.6v3h-1.6zM203 212h1.6v2.5h-1.6zM235.5 211h1.6v4h-1.6zM242 211.5h1.6v2h-1.6zM250 212h1.6v3h-1.6zM193 212h1.6v2h-1.6zM234.5 212.5h1.6v2h-1.6zM235.5 212.5h1.6v3h-1.6zM204 213.5h1.6v4h-1.6zM239 213.5h1.6v2h-1.6zM184 214.5h1.6v2h-1.6zM195 214.5h1.6v3h-1.6zM198.5 215h1.6v3h-1.6zM200 215h1.6v2.5h-1.6zM205 214h1.6v4h-1.6zM205.5 214.5h1.6v2h-1.6zM233.5 215h1.6v2h-1.6zM240 214.5h1.6v2.5h-1.6zM199.5 215h1.6v3h-1.6zM202 215.5h1.6v2.5h-1.6zM204.5 215.5h1.6v2h-1.6zM205.5 215.5h1.6v4h-1.6zM236.5 215.5h1.6v3h-1.6zM202.5 216.5h1.6v2.5h-1.6zM203.5 217h1.6v3h-1.6zM260.5 216.5h1.6v4h-1.6zM167.5 217.5h1.6v2.5h-1.6zM169.5 217.5h1.6v2.5h-1.6zM174 217h1.6v2h-1.6zM173 217.5h1.6v2h-1.6zM175 218h1.6v2h-1.6zM200 217.5h1.6v2h-1.6zM201 217.5h1.6v3h-1.6zM209.5 218h1.6v2h-1.6zM167 219h1.6v2.5h-1.6zM175.5 218.5h1.6v2h-1.6zM200 218.5h1.6v3h-1.6zM205 218h1.6v3h-1.6zM237 218.5h1.6v3h-1.6zM238 218h1.6v2h-1.6zM255 219h1.6v3h-1.6zM254.5 218.5h1.6v4h-1.6zM256.5 219h1.6v2.5h-1.6zM170.5 219.5h1.6v4h-1.6zM174.5 219.5h1.6v2h-1.6zM240.5 219.5h1.6v4h-1.6zM254.5 219.5h1.6v2h-1.6zM170 220.5h1.6v3h-1.6zM178.5 220.5h1.6v4h-1.6zM206 220h1.6v2h-1.6zM236.5 220.5h1.6v3h-1.6zM237 220.5h1.6v2h-1.6zM237.5 221h1.6v3h-1.6zM252.5 221h1.6v4h-1.6zM173.5 221.5h1.6v2.5h-1.6zM205.5 221.5h1.6v2h-1.6zM234 221h1.6v4h-1.6zM233.5 221h1.6v3h-1.6zM252.5 221.5h1.6v3h-1.6zM170 222.5h1.6v3h-1.6zM175 222h1.6v4h-1.6zM206 222.5h1.6v2h-1.6zM234 222.5h1.6v4h-1.6zM234.5 222.5h1.6v2h-1.6zM184.5 223.5h1.6v2h-1.6zM204.5 223.5h1.6v2h-1.6zM233 223.5h1.6v2h-1.6zM239.5 223.5h1.6v2h-1.6zM254.5 223h1.6v3h-1.6zM171 224h1.6v3h-1.6zM193 224.5h1.6v4h-1.6zM198.5 224.5h1.6v2h-1.6zM201 224.5h1.6v3h-1.6zM203.5 225h1.6v3h-1.6zM205 224.5h1.6v3h-1.6zM204 224.5h1.6v4h-1.6zM206 224h1.6v2.5h-1.6zM234.5 224h1.6v2h-1.6zM238.5 224.5h1.6v3h-1.6zM245 224h1.6v3h-1.6zM186 226h1.6v2h-1.6zM189.5 225.5h1.6v2h-1.6zM202.5 225h1.6v2h-1.6zM236 226h1.6v4h-1.6zM172.5 226.5h1.6v4h-1.6zM173.5 226.5h1.6v2h-1.6zM175.5 226.5h1.6v3h-1.6zM200.5 226.5h1.6v4h-1.6zM204.5 226.5h1.6v2h-1.6zM204 227h1.6v3h-1.6zM206.5 227h1.6v2h-1.6zM234.5 226.5h1.6v2h-1.6zM235 226.5h1.6v2h-1.6zM248.5 226.5h1.6v2.5h-1.6zM203 228h1.6v2h-1.6zM233.5 227.5h1.6v2.5h-1.6zM162 229h1.6v3h-1.6zM167.5 228h1.6v2h-1.6zM171 228.5h1.6v3h-1.6zM171 228.5h1.6v2.5h-1.6zM172.5 229h1.6v2.5h-1.6zM175.5 228.5h1.6v3h-1.6zM191.5 228h1.6v3h-1.6zM202.5 228.5h1.6v2h-1.6zM229 229h1.6v2h-1.6zM169 229.5h1.6v4h-1.6zM169.5 229.5h1.6v2.5h-1.6zM201.5 229.5h1.6v3h-1.6zM204.5 229h1.6v4h-1.6zM246 229h1.6v3h-1.6zM199 230.5h1.6v3h-1.6zM208 230.5h1.6v3h-1.6zM238 231h1.6v3h-1.6zM247.5 230.5h1.6v2h-1.6zM170.5 231.5h1.6v3h-1.6zM173.5 232h1.6v2h-1.6zM178 231h1.6v3h-1.6zM190 231h1.6v3h-1.6zM201.5 231.5h1.6v2h-1.6zM165.5 232.5h1.6v3h-1.6zM173.5 232.5h1.6v2h-1.6zM175 232.5h1.6v3h-1.6zM176.5 232h1.6v2h-1.6zM180 232.5h1.6v2h-1.6zM204.5 232.5h1.6v2h-1.6zM207.5 232h1.6v2h-1.6zM246 232h1.6v3h-1.6zM259 232.5h1.6v3h-1.6zM167 233h1.6v4h-1.6zM172 233.5h1.6v2h-1.6zM177.5 234h1.6v3h-1.6zM186 233h1.6v2h-1.6zM189.5 233h1.6v2.5h-1.6zM192 233.5h1.6v4h-1.6zM202 234h1.6v3h-1.6zM204 233h1.6v3h-1.6zM226.5 233.5h1.6v3h-1.6zM170 235h1.6v3h-1.6zM173.5 234h1.6v2h-1.6zM179.5 235h1.6v3h-1.6zM180.5 235h1.6v2h-1.6zM217.5 234.5h1.6v2h-1.6zM227.5 234.5h1.6v2h-1.6zM204.5 235.5h1.6v2.5h-1.6zM206.5 235.5h1.6v2h-1.6zM219.5 235.5h1.6v2h-1.6zM221 235h1.6v3h-1.6zM221 236h1.6v3h-1.6zM230 235.5h1.6v3h-1.6zM174 236h1.6v2h-1.6zM176 236h1.6v2h-1.6zM182.5 236.5h1.6v3h-1.6zM200 236.5h1.6v2.5h-1.6zM202 236.5h1.6v3h-1.6zM206 236.5h1.6v3h-1.6zM218 237h1.6v3h-1.6zM217.5 237h1.6v3h-1.6zM229.5 236h1.6v2h-1.6zM178.5 237.5h1.6v4h-1.6zM179.5 237h1.6v2.5h-1.6zM179 238h1.6v3h-1.6zM180.5 237.5h1.6v3h-1.6zM182.5 237.5h1.6v3h-1.6zM192.5 237.5h1.6v3h-1.6zM198.5 237.5h1.6v3h-1.6zM225 238h1.6v2h-1.6zM229.5 238h1.6v4h-1.6zM230.5 237.5h1.6v3h-1.6zM168.5 238.5h1.6v2.5h-1.6zM172.5 238.5h1.6v3h-1.6zM177 239h1.6v2h-1.6zM179.5 238.5h1.6v3h-1.6zM180.5 238.5h1.6v2h-1.6zM181.5 238.5h1.6v3h-1.6zM181 238.5h1.6v2h-1.6zM185 238.5h1.6v3h-1.6zM203.5 238.5h1.6v3h-1.6zM204 238.5h1.6v2.5h-1.6zM217 238h1.6v2h-1.6zM239 238.5h1.6v4h-1.6zM170.5 239.5h1.6v2h-1.6zM172 239h1.6v3h-1.6zM171.5 239h1.6v2h-1.6zM188.5 239.5h1.6v2h-1.6zM189 239.5h1.6v4h-1.6zM189.5 239.5h1.6v2.5h-1.6zM192 239h1.6v2h-1.6zM193 240h1.6v2h-1.6zM194.5 240h1.6v4h-1.6zM202 239h1.6v4h-1.6zM203 239h1.6v4h-1.6zM205 239h1.6v2.5h-1.6zM212.5 239.5h1.6v2h-1.6zM218.5 239.5h1.6v2.5h-1.6zM221 239.5h1.6v2h-1.6zM229 239h1.6v3h-1.6zM167.5 240.5h1.6v2h-1.6zM176.5 240.5h1.6v4h-1.6zM179.5 240h1.6v2h-1.6zM187 240.5h1.6v3h-1.6zM187 241h1.6v3h-1.6zM190 240.5h1.6v2h-1.6zM209 240.5h1.6v4h-1.6zM173.5 241.5h1.6v2h-1.6zM175.5 241.5h1.6v2h-1.6zM198 242h1.6v4h-1.6zM199.5 241.5h1.6v3h-1.6zM210 242h1.6v3h-1.6zM225 242h1.6v3h-1.6zM173.5 242h1.6v2.5h-1.6zM184.5 243h1.6v3h-1.6zM192 242.5h1.6v2h-1.6zM193.5 243h1.6v2.5h-1.6zM223 242.5h1.6v2.5h-1.6zM225.5 243h1.6v2h-1.6zM169.5 243h1.6v4h-1.6zM172 243h1.6v2.5h-1.6zM175 243.5h1.6v2h-1.6zM182 243h1.6v2.5h-1.6zM183.5 243.5h1.6v3h-1.6zM185 243.5h1.6v3h-1.6zM184.5 243.5h1.6v3h-1.6zM213.5 243h1.6v4h-1.6zM164.5 244.5h1.6v2h-1.6zM170.5 244h1.6v3h-1.6zM171 244.5h1.6v2.5h-1.6zM173 244h1.6v3h-1.6zM179.5 244h1.6v3h-1.6zM181.5 245h1.6v2.5h-1.6zM186 245h1.6v3h-1.6zM186 244.5h1.6v2h-1.6zM186.5 245h1.6v2h-1.6zM192 245h1.6v2h-1.6zM235 244.5h1.6v2h-1.6zM238.5 245h1.6v2h-1.6zM240 244h1.6v2.5h-1.6zM181 245.5h1.6v2.5h-1.6zM181.5 245.5h1.6v2h-1.6zM182 245h1.6v2h-1.6zM191.5 246h1.6v2.5h-1.6zM175 246.5h1.6v2h-1.6zM179.5 246h1.6v3h-1.6zM186 246.5h1.6v4h-1.6zM190 246h1.6v2.5h-1.6zM239 246.5h1.6v3h-1.6zM247.5 246.5h1.6v2h-1.6zM262 246.5h1.6v3h-1.6zM180 247.5h1.6v3h-1.6zM190.5 247.5h1.6v3h-1.6zM191 247.5h1.6v3h-1.6zM197.5 247.5h1.6v4h-1.6zM209 247h1.6v2.5h-1.6zM215.5 247.5h1.6v2h-1.6zM164 248h1.6v2.5h-1.6zM169.5 248.5h1.6v2h-1.6zM176.5 248h1.6v4h-1.6zM187 249h1.6v2h-1.6zM190.5 248.5h1.6v3h-1.6zM191 248.5h1.6v2h-1.6zM220 248h1.6v2.5h-1.6zM220.5 248.5h1.6v2h-1.6zM223 248h1.6v4h-1.6zM168 249.5h1.6v2h-1.6zM173 249h1.6v2.5h-1.6zM184.5 249.5h1.6v2h-1.6zM188 249.5h1.6v3h-1.6zM190 249.5h1.6v2h-1.6zM197 249.5h1.6v2h-1.6zM201.5 250h1.6v2.5h-1.6zM230 249h1.6v2h-1.6zM254 249h1.6v3h-1.6zM168 251h1.6v2h-1.6zM172 251h1.6v2.5h-1.6zM172.5 250.5h1.6v3h-1.6zM183.5 251h1.6v3h-1.6zM186 251h1.6v2.5h-1.6zM187 251h1.6v3h-1.6zM198.5 250h1.6v2h-1.6zM217.5 250.5h1.6v2h-1.6zM219 250.5h1.6v3h-1.6zM224 251h1.6v4h-1.6zM223 250.5h1.6v2h-1.6zM243 251h1.6v2h-1.6zM247 250.5h1.6v2h-1.6zM250.5 250h1.6v2.5h-1.6zM168 252h1.6v2h-1.6zM171.5 252h1.6v2h-1.6zM171.5 251.5h1.6v2h-1.6zM183 251h1.6v2.5h-1.6zM187.5 251.5h1.6v4h-1.6zM187.5 251.5h1.6v2.5h-1.6zM188.5 251.5h1.6v3h-1.6zM191 251h1.6v2h-1.6zM212 251.5h1.6v2.5h-1.6zM221.5 252h1.6v3h-1.6zM187.5 253h1.6v3h-1.6zM193 253h1.6v4h-1.6zM194.5 253h1.6v2h-1.6zM241 252.5h1.6v2.5h-1.6zM271.5 252.5h1.6v2.5h-1.6zM163 253.5h1.6v2h-1.6zM166 253h1.6v2.5h-1.6zM172 253.5h1.6v2h-1.6zM188.5 253.5h1.6v2h-1.6zM201.5 253h1.6v2h-1.6zM202.5 253.5h1.6v4h-1.6zM220.5 253.5h1.6v3h-1.6zM221.5 253.5h1.6v3h-1.6zM221 253h1.6v2h-1.6zM234 253.5h1.6v3h-1.6zM256 253.5h1.6v3h-1.6zM191 255h1.6v2h-1.6zM195.5 254.5h1.6v3h-1.6zM196.5 255h1.6v2h-1.6zM215 254h1.6v4h-1.6zM221 255h1.6v4h-1.6zM233.5 254.5h1.6v3h-1.6zM254 254h1.6v4h-1.6zM171.5 255.5h1.6v3h-1.6zM175.5 255.5h1.6v3h-1.6zM176.5 255.5h1.6v3h-1.6zM179 255.5h1.6v3h-1.6zM180 255.5h1.6v2.5h-1.6zM184.5 255h1.6v4h-1.6zM185.5 255.5h1.6v2h-1.6zM187.5 255.5h1.6v2h-1.6zM204.5 255.5h1.6v2.5h-1.6zM216 255.5h1.6v2h-1.6zM216 256h1.6v4h-1.6zM218.5 255.5h1.6v4h-1.6zM218 255.5h1.6v4h-1.6zM257.5 255.5h1.6v2h-1.6zM157 256h1.6v3h-1.6zM172.5 257h1.6v2.5h-1.6zM208.5 257h1.6v2h-1.6zM247 257h1.6v2h-1.6zM169.5 258h1.6v2h-1.6zM185.5 258h1.6v2h-1.6zM187.5 257.5h1.6v4h-1.6zM218.5 257h1.6v4h-1.6zM222 257.5h1.6v2.5h-1.6zM222 257h1.6v3h-1.6zM237.5 257h1.6v2h-1.6zM243.5 257.5h1.6v2h-1.6zM244 257h1.6v2h-1.6zM254 257.5h1.6v4h-1.6zM151.5 258.5h1.6v3h-1.6zM156.5 258.5h1.6v3h-1.6zM157 259h1.6v4h-1.6zM194 259h1.6v2.5h-1.6zM243 258.5h1.6v3h-1.6zM156 260h1.6v2h-1.6zM159.5 259.5h1.6v4h-1.6zM243.5 259h1.6v2.5h-1.6zM244.5 260h1.6v2h-1.6zM244.5 259h1.6v3h-1.6zM247 259h1.6v2h-1.6zM249 259.5h1.6v2h-1.6zM255 259.5h1.6v2.5h-1.6zM221 260.5h1.6v3h-1.6zM239.5 261h1.6v2h-1.6zM249 260.5h1.6v2.5h-1.6zM251.5 260.5h1.6v2.5h-1.6zM178.5 262h1.6v2.5h-1.6zM190 261.5h1.6v3h-1.6zM219.5 261.5h1.6v2.5h-1.6zM242 262h1.6v2h-1.6zM244.5 262h1.6v2h-1.6zM245 261.5h1.6v2.5h-1.6zM253.5 261.5h1.6v2h-1.6zM233.5 262.5h1.6v2.5h-1.6zM234 262.5h1.6v2h-1.6zM179 263.5h1.6v2h-1.6zM194 263.5h1.6v2.5h-1.6zM214 264h1.6v3h-1.6zM218.5 264h1.6v2h-1.6zM230 264h1.6v3h-1.6zM240.5 263.5h1.6v2.5h-1.6zM240 263.5h1.6v3h-1.6zM245 263.5h1.6v4h-1.6zM248 263.5h1.6v2h-1.6zM161 264h1.6v2h-1.6zM194.5 265h1.6v3h-1.6zM220 264.5h1.6v2h-1.6zM239.5 264.5h1.6v2h-1.6zM161.5 265.5h1.6v2.5h-1.6zM166.5 266h1.6v2h-1.6zM244.5 266h1.6v2h-1.6zM249 265h1.6v3h-1.6zM153.5 266h1.6v3h-1.6zM160 266.5h1.6v2h-1.6zM193.5 266h1.6v3h-1.6zM210 266h1.6v2h-1.6zM215 266h1.6v2.5h-1.6zM220.5 266.5h1.6v2.5h-1.6zM242 266.5h1.6v4h-1.6zM166.5 267.5h1.6v2h-1.6zM167.5 267.5h1.6v2h-1.6zM209.5 267.5h1.6v3h-1.6zM240.5 267.5h1.6v3h-1.6zM242 268h1.6v2h-1.6zM158 269h1.6v4h-1.6zM169 268.5h1.6v4h-1.6zM192 268.5h1.6v3h-1.6zM196.5 268.5h1.6v3h-1.6zM218.5 268.5h1.6v2.5h-1.6zM248 268h1.6v4h-1.6zM254 268.5h1.6v3h-1.6zM263 268h1.6v2h-1.6zM192.5 269.5h1.6v2.5h-1.6zM197 269.5h1.6v4h-1.6zM152 270.5h1.6v3h-1.6zM166 270h1.6v4h-1.6zM190.5 270h1.6v2h-1.6zM238.5 270.5h1.6v2h-1.6zM240 271h1.6v4h-1.6zM240.5 270.5h1.6v3h-1.6zM242.5 270.5h1.6v4h-1.6zM243.5 270.5h1.6v3h-1.6zM162 272h1.6v4h-1.6zM166 271.5h1.6v4h-1.6zM191 271.5h1.6v3h-1.6zM195 271h1.6v2h-1.6zM202.5 272h1.6v3h-1.6zM238 272h1.6v3h-1.6zM240 271.5h1.6v3h-1.6zM243.5 271.5h1.6v2h-1.6zM155.5 272h1.6v4h-1.6zM162.5 272.5h1.6v3h-1.6zM167.5 272.5h1.6v4h-1.6zM209 272.5h1.6v4h-1.6zM209 273h1.6v4h-1.6zM248.5 272.5h1.6v4h-1.6zM153 273.5h1.6v2h-1.6zM165.5 273h1.6v2h-1.6zM212 273.5h1.6v2h-1.6zM230 274h1.6v2h-1.6zM248 273h1.6v2h-1.6zM151.5 275h1.6v4h-1.6zM166 274h1.6v2.5h-1.6zM209 275h1.6v2h-1.6zM241 274h1.6v3h-1.6zM155.5 275.5h1.6v3h-1.6zM156 275h1.6v3h-1.6zM158.5 276h1.6v2h-1.6zM159.5 275h1.6v4h-1.6zM174 276h1.6v2h-1.6zM194.5 275h1.6v4h-1.6zM213.5 275.5h1.6v3h-1.6zM234 275h1.6v4h-1.6zM238 276h1.6v2h-1.6zM152.5 276h1.6v3h-1.6zM228 276h1.6v2.5h-1.6zM232.5 277h1.6v2h-1.6zM234 276.5h1.6v3h-1.6zM241 276.5h1.6v2h-1.6zM261 277h1.6v4h-1.6zM152.5 277.5h1.6v3h-1.6zM157 277.5h1.6v3h-1.6zM173.5 278h1.6v2h-1.6zM199 277.5h1.6v4h-1.6zM214 278.5h1.6v3h-1.6zM233 278.5h1.6v2h-1.6zM247 278.5h1.6v4h-1.6zM155.5 279.5h1.6v4h-1.6zM162.5 279.5h1.6v3h-1.6zM197 279h1.6v2.5h-1.6zM203.5 279.5h1.6v2h-1.6zM209 279.5h1.6v2.5h-1.6zM209.5 279.5h1.6v2h-1.6zM226.5 280h1.6v4h-1.6zM247.5 279h1.6v2h-1.6zM165.5 280h1.6v2h-1.6zM198.5 280h1.6v4h-1.6zM215.5 281h1.6v4h-1.6zM226 280.5h1.6v3h-1.6zM234.5 280h1.6v3h-1.6zM252 280.5h1.6v3h-1.6zM160.5 281h1.6v2h-1.6zM170.5 281.5h1.6v3h-1.6zM183 281.5h1.6v4h-1.6zM183 281.5h1.6v2.5h-1.6zM185.5 281h1.6v2h-1.6zM187.5 281.5h1.6v3h-1.6zM190 281.5h1.6v4h-1.6zM208.5 282h1.6v4h-1.6zM208.5 282h1.6v2h-1.6zM189 282.5h1.6v2h-1.6zM207.5 282.5h1.6v3h-1.6zM207.5 282.5h1.6v2h-1.6zM228 282h1.6v2.5h-1.6zM155.5 283.5h1.6v2.5h-1.6zM189.5 284h1.6v4h-1.6zM204 284h1.6v4h-1.6zM209.5 283.5h1.6v4h-1.6zM215.5 283.5h1.6v2.5h-1.6zM215.5 284h1.6v3h-1.6zM136 284.5h1.6v3h-1.6zM154.5 284.5h1.6v2h-1.6zM162.5 284h1.6v2h-1.6zM201.5 284h1.6v3h-1.6zM204.5 285h1.6v2h-1.6zM226 284.5h1.6v3h-1.6zM229 284h1.6v2.5h-1.6zM252.5 284h1.6v4h-1.6zM255.5 284h1.6v2h-1.6zM161.5 286h1.6v4h-1.6zM163.5 285.5h1.6v2h-1.6zM168.5 285.5h1.6v4h-1.6zM170.5 285h1.6v3h-1.6zM182.5 285.5h1.6v2.5h-1.6zM187.5 286h1.6v4h-1.6zM196 285.5h1.6v3h-1.6zM203.5 286h1.6v2.5h-1.6zM205.5 285h1.6v3h-1.6zM213.5 285.5h1.6v3h-1.6zM225 285.5h1.6v3h-1.6zM255 285.5h1.6v2h-1.6zM163.5 286.5h1.6v3h-1.6zM207.5 286h1.6v2h-1.6zM207.5 287h1.6v2.5h-1.6zM260 286.5h1.6v2h-1.6zM143.5 288h1.6v3h-1.6zM211 288h1.6v2h-1.6zM213 287.5h1.6v2.5h-1.6zM253 287.5h1.6v3h-1.6zM254.5 288.5h1.6v2h-1.6zM206 289h1.6v3h-1.6zM217 289.5h1.6v3h-1.6zM157 290h1.6v2.5h-1.6zM169.5 291h1.6v3h-1.6zM209.5 290.5h1.6v2h-1.6zM226 290.5h1.6v2h-1.6zM156 292h1.6v2h-1.6zM162 291h1.6v3h-1.6zM204.5 291h1.6v2h-1.6zM175.5 292.5h1.6v2h-1.6zM183.5 290.5h1.6v4h-1.6zM169 291.5h1.6v3h-1.6zM158 292h1.6v2.5h-1.6zM172.5 292h1.6v2.5h-1.6zM190.5 292.5h1.6v2h-1.6zM192 291.5h1.6v3h-1.6zM219.5 290.5h1.6v4h-1.6zM157.5 291.5h1.6v3h-1.6zM193.5 292h1.6v2.5h-1.6zM195.5 292.5h1.6v2h-1.6zM220.5 290.5h1.6v4h-1.6zM517 41h1.6v2.5h-1.6zM524 40.5h1.6v2h-1.6zM527 41.5h1.6v3h-1.6zM521 42.5h1.6v3h-1.6zM522.5 44h1.6v3h-1.6zM515 45.5h1.6v2h-1.6zM515.5 49h1.6v2h-1.6zM512.5 49.5h1.6v2h-1.6zM520 49h1.6v3h-1.6zM513.5 51h1.6v4h-1.6zM525.5 51.5h1.6v3h-1.6zM518.5 53h1.6v3h-1.6zM528.5 52.5h1.6v2.5h-1.6zM532.5 52.5h1.6v4h-1.6zM513.5 53.5h1.6v2h-1.6zM518.5 54.5h1.6v3h-1.6zM524 54h1.6v2.5h-1.6zM529 55h1.6v3h-1.6zM527.5 55h1.6v2.5h-1.6zM540.5 55.5h1.6v2h-1.6zM542.5 57h1.6v2.5h-1.6zM513 57.5h1.6v2h-1.6zM514.5 58h1.6v2.5h-1.6zM520.5 57.5h1.6v2.5h-1.6zM533 57.5h1.6v3h-1.6zM516 58.5h1.6v2h-1.6zM527 58h1.6v2h-1.6zM532 58h1.6v4h-1.6zM535.5 58h1.6v2h-1.6zM504.5 59h1.6v4h-1.6zM511.5 59.5h1.6v2.5h-1.6zM530 59.5h1.6v2.5h-1.6zM523 60.5h1.6v2.5h-1.6zM518 61.5h1.6v2h-1.6zM528.5 61h1.6v3h-1.6zM537 61.5h1.6v3h-1.6zM535 63h1.6v3h-1.6zM514.5 63.5h1.6v2h-1.6zM515.5 63.5h1.6v2.5h-1.6zM511 64.5h1.6v3h-1.6zM536.5 64.5h1.6v2.5h-1.6zM536.5 64.5h1.6v2h-1.6zM528.5 67h1.6v2.5h-1.6zM507 68.5h1.6v2h-1.6zM509.5 68.5h1.6v2h-1.6zM521.5 68.5h1.6v4h-1.6zM528 68.5h1.6v2.5h-1.6zM526 73h1.6v4h-1.6zM520.5 78h1.6v2h-1.6zM494.5 79h1.6v2h-1.6zM486.5 81h1.6v2.5h-1.6zM499 80.5h1.6v3h-1.6zM499.5 81h1.6v3h-1.6zM523 80.5h1.6v2.5h-1.6zM489.5 81h1.6v2h-1.6zM503 81h1.6v2.5h-1.6zM515.5 82h1.6v3h-1.6zM488.5 83.5h1.6v2h-1.6zM524 83.5h1.6v4h-1.6zM492 84.5h1.6v3h-1.6zM493.5 85h1.6v3h-1.6zM494.5 84.5h1.6v3h-1.6zM491.5 85.5h1.6v2h-1.6zM500 85h1.6v4h-1.6zM511.5 85.5h1.6v2h-1.6zM520 85h1.6v2h-1.6zM521 86h1.6v4h-1.6zM524 85h1.6v3h-1.6zM503.5 86.5h1.6v3h-1.6zM516.5 86h1.6v3h-1.6zM537 86.5h1.6v2h-1.6zM521 87h1.6v4h-1.6zM495 88.5h1.6v2.5h-1.6zM501.5 89.5h1.6v3h-1.6zM518.5 89.5h1.6v2h-1.6zM491.5 90.5h1.6v3h-1.6zM507.5 91h1.6v2h-1.6zM487 91.5h1.6v2h-1.6zM488 91.5h1.6v3h-1.6zM522.5 91.5h1.6v3h-1.6zM540.5 93h1.6v2.5h-1.6zM507.5 94.5h1.6v2.5h-1.6zM517 95h1.6v2.5h-1.6zM537.5 97h1.6v2.5h-1.6zM484.5 97h1.6v4h-1.6zM504 98.5h1.6v4h-1.6zM510.5 98h1.6v4h-1.6zM538.5 98h1.6v2.5h-1.6zM487 99.5h1.6v3h-1.6zM540 99.5h1.6v4h-1.6zM483.5 100h1.6v2h-1.6zM501 100.5h1.6v2.5h-1.6zM490 101h1.6v3h-1.6zM538 101.5h1.6v3h-1.6zM541.5 102h1.6v4h-1.6zM485.5 102.5h1.6v3h-1.6zM488.5 102.5h1.6v2h-1.6zM523.5 102h1.6v2h-1.6zM541 102.5h1.6v4h-1.6zM492.5 103.5h1.6v2h-1.6zM497.5 103.5h1.6v2h-1.6zM510 103.5h1.6v2h-1.6zM517 106h1.6v3h-1.6zM525 107h1.6v3h-1.6zM512.5 107.5h1.6v3h-1.6zM517 107h1.6v2h-1.6zM523 107.5h1.6v3h-1.6zM488 109h1.6v2.5h-1.6zM514.5 108h1.6v3h-1.6zM517 109h1.6v3h-1.6zM537.5 108.5h1.6v2h-1.6zM540 108.5h1.6v3h-1.6zM487 110h1.6v2h-1.6zM517.5 109h1.6v2h-1.6zM522.5 109.5h1.6v2h-1.6zM505.5 110.5h1.6v2h-1.6zM513.5 111h1.6v2.5h-1.6zM522 110.5h1.6v3h-1.6zM538.5 110.5h1.6v2h-1.6zM512 112h1.6v2.5h-1.6zM475 112.5h1.6v2h-1.6zM476 112h1.6v2.5h-1.6zM513.5 112.5h1.6v2.5h-1.6zM474 113.5h1.6v3h-1.6zM474.5 113.5h1.6v2h-1.6zM480.5 114h1.6v2h-1.6zM481.5 113h1.6v4h-1.6zM514 114h1.6v3h-1.6zM479.5 114.5h1.6v3h-1.6zM484 114.5h1.6v3h-1.6zM485 115h1.6v4h-1.6zM495 114.5h1.6v3h-1.6zM513 114.5h1.6v2h-1.6zM480.5 116.5h1.6v3h-1.6zM481 116.5h1.6v2.5h-1.6zM472.5 117.5h1.6v2.5h-1.6zM500 117.5h1.6v2h-1.6zM515 117.5h1.6v3h-1.6zM485.5 118h1.6v2.5h-1.6zM476.5 120.5h1.6v3h-1.6zM478 121h1.6v2.5h-1.6zM479.5 121h1.6v2h-1.6zM486 120.5h1.6v4h-1.6zM504.5 120.5h1.6v3h-1.6zM507.5 120h1.6v3h-1.6zM504.5 121h1.6v4h-1.6zM505.5 121.5h1.6v2h-1.6zM471 123h1.6v2h-1.6zM487 123.5h1.6v2.5h-1.6zM508 124h1.6v2h-1.6zM510 123.5h1.6v3h-1.6zM470 125h1.6v3h-1.6zM502 124h1.6v4h-1.6zM472.5 125.5h1.6v3h-1.6zM497.5 126h1.6v3h-1.6zM487.5 126.5h1.6v2.5h-1.6zM504 126.5h1.6v2h-1.6zM483.5 127h1.6v2h-1.6zM485.5 127h1.6v2h-1.6zM502.5 127h1.6v3h-1.6zM473 128h1.6v4h-1.6zM516.5 128h1.6v3h-1.6zM468 130.5h1.6v3h-1.6zM482 130h1.6v3h-1.6zM493.5 130.5h1.6v2h-1.6zM476 131.5h1.6v2h-1.6zM476 131.5h1.6v3h-1.6zM483 132h1.6v3h-1.6zM488 131.5h1.6v3h-1.6zM463.5 132h1.6v3h-1.6zM470.5 132.5h1.6v2h-1.6zM476 132h1.6v2h-1.6zM477.5 132h1.6v2h-1.6zM481 133h1.6v2h-1.6zM487 133h1.6v2h-1.6zM476.5 133.5h1.6v3h-1.6zM471.5 134.5h1.6v4h-1.6zM475 134.5h1.6v2h-1.6zM475.5 135h1.6v4h-1.6zM466 135.5h1.6v4h-1.6zM479 136h1.6v4h-1.6zM467 136.5h1.6v3h-1.6zM538 137.5h1.6v2h-1.6zM466.5 139h1.6v3h-1.6zM538.5 138.5h1.6v2h-1.6zM514 139.5h1.6v2h-1.6zM538.5 139.5h1.6v2h-1.6zM469 141.5h1.6v2h-1.6zM487.5 141.5h1.6v3h-1.6zM469.5 142h1.6v2h-1.6zM502 143h1.6v4h-1.6zM468 144.5h1.6v4h-1.6zM501 144.5h1.6v2.5h-1.6zM470.5 145h1.6v2h-1.6zM472.5 145.5h1.6v4h-1.6zM488.5 145.5h1.6v2.5h-1.6zM503.5 145.5h1.6v3h-1.6zM504.5 145.5h1.6v4h-1.6zM500 148h1.6v3h-1.6zM501.5 147.5h1.6v4h-1.6zM482.5 148.5h1.6v2h-1.6zM502 148.5h1.6v2h-1.6zM500 150h1.6v2h-1.6zM465.5 150.5h1.6v2.5h-1.6zM472.5 150.5h1.6v3h-1.6zM485.5 150.5h1.6v3h-1.6zM475.5 152h1.6v2h-1.6zM480 151h1.6v3h-1.6zM488.5 151.5h1.6v2.5h-1.6zM510 151h1.6v2h-1.6zM466 152h1.6v3h-1.6zM505.5 154h1.6v2h-1.6zM542.5 153h1.6v2h-1.6zM507 155h1.6v3h-1.6zM482 156h1.6v2.5h-1.6zM508.5 155.5h1.6v3h-1.6zM512 155h1.6v2.5h-1.6zM480.5 157h1.6v2.5h-1.6zM500 156h1.6v4h-1.6zM505.5 157h1.6v2h-1.6zM469 157.5h1.6v3h-1.6zM496.5 157h1.6v3h-1.6zM464.5 159h1.6v2h-1.6zM489.5 158h1.6v3h-1.6zM510.5 159h1.6v2h-1.6zM462.5 160h1.6v2h-1.6zM496.5 160.5h1.6v3h-1.6zM515.5 161h1.6v4h-1.6zM539.5 160.5h1.6v4h-1.6zM462.5 162h1.6v2.5h-1.6zM472 161.5h1.6v2h-1.6zM474 162h1.6v2h-1.6zM478.5 164h1.6v2h-1.6zM538.5 163.5h1.6v3h-1.6zM504 164.5h1.6v4h-1.6zM526.5 165.5h1.6v4h-1.6zM459.5 166h1.6v3h-1.6zM472 168h1.6v2h-1.6zM501 167.5h1.6v2.5h-1.6zM538 167h1.6v2h-1.6zM479 169.5h1.6v4h-1.6zM496.5 169.5h1.6v3h-1.6zM500.5 169h1.6v2.5h-1.6zM511 170.5h1.6v2h-1.6zM520.5 172h1.6v3h-1.6zM485 173h1.6v2h-1.6zM487.5 173h1.6v4h-1.6zM522.5 174h1.6v2.5h-1.6zM498 174.5h1.6v4h-1.6zM502.5 174.5h1.6v3h-1.6zM516.5 174.5h1.6v2.5h-1.6zM546.5 175h1.6v4h-1.6zM494.5 175.5h1.6v3h-1.6zM511.5 175h1.6v2h-1.6zM477 176.5h1.6v2h-1.6zM497 176.5h1.6v2.5h-1.6zM509 176.5h1.6v4h-1.6zM492.5 178h1.6v3h-1.6zM510 177.5h1.6v2h-1.6zM471 179h1.6v2h-1.6zM496 179h1.6v3h-1.6zM503.5 178.5h1.6v2h-1.6zM520.5 179h1.6v2.5h-1.6zM465 179.5h1.6v2h-1.6zM476 180h1.6v2h-1.6zM487.5 179h1.6v3h-1.6zM495 179h1.6v2h-1.6zM498.5 179.5h1.6v2.5h-1.6zM508 180h1.6v2.5h-1.6zM489 181h1.6v2h-1.6zM494.5 180.5h1.6v3h-1.6zM520 180h1.6v3h-1.6zM463 181h1.6v3h-1.6zM500.5 181h1.6v2h-1.6zM509 181.5h1.6v2h-1.6zM509 181.5h1.6v3h-1.6zM519 181.5h1.6v3h-1.6zM520.5 181h1.6v4h-1.6zM523 182h1.6v2h-1.6zM496.5 182.5h1.6v3h-1.6zM500 182.5h1.6v2h-1.6zM488 184h1.6v3h-1.6zM507.5 184h1.6v2h-1.6zM507.5 184h1.6v2h-1.6zM462.5 185h1.6v2h-1.6zM484.5 184.5h1.6v3h-1.6zM497.5 184.5h1.6v2h-1.6zM519.5 184.5h1.6v3h-1.6zM532 185h1.6v2h-1.6zM466 186h1.6v4h-1.6zM457.5 187.5h1.6v2h-1.6zM459.5 188h1.6v2h-1.6zM462.5 187h1.6v3h-1.6zM531.5 187.5h1.6v3h-1.6zM458.5 188h1.6v4h-1.6zM485 188h1.6v2.5h-1.6zM497 188.5h1.6v4h-1.6zM461.5 189.5h1.6v2h-1.6zM470 190.5h1.6v2h-1.6zM462.5 191.5h1.6v2h-1.6zM451 192h1.6v2.5h-1.6zM457 193h1.6v2h-1.6zM508 192.5h1.6v2h-1.6zM518.5 193h1.6v4h-1.6zM454 193h1.6v3h-1.6zM456.5 193h1.6v4h-1.6zM481 193.5h1.6v3h-1.6zM457.5 194.5h1.6v2h-1.6zM460.5 194.5h1.6v2.5h-1.6zM506.5 195h1.6v4h-1.6zM481.5 195h1.6v4h-1.6zM457 196h1.6v3h-1.6zM461.5 196.5h1.6v2.5h-1.6zM449.5 197.5h1.6v2.5h-1.6zM489 197.5h1.6v3h-1.6zM517 197h1.6v2h-1.6zM458 198.5h1.6v2h-1.6zM482 198.5h1.6v2h-1.6zM487 198.5h1.6v2h-1.6zM461 199.5h1.6v2.5h-1.6zM483 200h1.6v2h-1.6zM486.5 199.5h1.6v2.5h-1.6zM492 200h1.6v3h-1.6zM454 200.5h1.6v2h-1.6zM453 201h1.6v3h-1.6zM458 201h1.6v2h-1.6zM482 200h1.6v3h-1.6zM495 200h1.6v2.5h-1.6zM517 200h1.6v2.5h-1.6zM445.5 201.5h1.6v3h-1.6zM458.5 201h1.6v2h-1.6zM463 201.5h1.6v2h-1.6zM480 201.5h1.6v4h-1.6zM448 202.5h1.6v3h-1.6zM479.5 202.5h1.6v2h-1.6zM488.5 202.5h1.6v2.5h-1.6zM495 202.5h1.6v3h-1.6zM502.5 202.5h1.6v3h-1.6zM447.5 204h1.6v2h-1.6zM451.5 203.5h1.6v2.5h-1.6zM451.5 203h1.6v2.5h-1.6zM458 203.5h1.6v4h-1.6zM460.5 203h1.6v3h-1.6zM482.5 203h1.6v2h-1.6zM453.5 205h1.6v4h-1.6zM478 204h1.6v3h-1.6zM497.5 204h1.6v2h-1.6zM511 205h1.6v4h-1.6zM526 204.5h1.6v3h-1.6zM460.5 205.5h1.6v2h-1.6zM518 205.5h1.6v3h-1.6zM446.5 207h1.6v2h-1.6zM454 206.5h1.6v3h-1.6zM460 207h1.6v2h-1.6zM465.5 207h1.6v2h-1.6zM506 206h1.6v2.5h-1.6zM515.5 206.5h1.6v2h-1.6zM520.5 206h1.6v4h-1.6zM462 207.5h1.6v2h-1.6zM466 207.5h1.6v3h-1.6zM478.5 207.5h1.6v2.5h-1.6zM496 207h1.6v2.5h-1.6zM512.5 207.5h1.6v2.5h-1.6zM454.5 208.5h1.6v2.5h-1.6zM462 209h1.6v3h-1.6zM480 208.5h1.6v2h-1.6zM515.5 208.5h1.6v2.5h-1.6zM449 210h1.6v4h-1.6zM450.5 210h1.6v4h-1.6zM455.5 210h1.6v4h-1.6zM458.5 210h1.6v2.5h-1.6zM514 209.5h1.6v2.5h-1.6zM515 210h1.6v2.5h-1.6zM519 209.5h1.6v2h-1.6zM457.5 210h1.6v4h-1.6zM461 210h1.6v3h-1.6zM465 210.5h1.6v4h-1.6zM477.5 210h1.6v2h-1.6zM478 210.5h1.6v2h-1.6zM484.5 210.5h1.6v2h-1.6zM496.5 210h1.6v2h-1.6zM513.5 210h1.6v3h-1.6zM522.5 210.5h1.6v4h-1.6zM546.5 211h1.6v3h-1.6zM458 211.5h1.6v3h-1.6zM470.5 212h1.6v2.5h-1.6zM477.5 211h1.6v3h-1.6zM498 211h1.6v3h-1.6zM500 211h1.6v2h-1.6zM518 211.5h1.6v3h-1.6zM519 211.5h1.6v2h-1.6zM545.5 211.5h1.6v2h-1.6zM465.5 213h1.6v4h-1.6zM483.5 213h1.6v2.5h-1.6zM522 212.5h1.6v4h-1.6zM552 212h1.6v2h-1.6zM452.5 213.5h1.6v3h-1.6zM460.5 213h1.6v2h-1.6zM523 213h1.6v2.5h-1.6zM534 213.5h1.6v2.5h-1.6zM552 213.5h1.6v3h-1.6zM457 214.5h1.6v2.5h-1.6zM465 214.5h1.6v3h-1.6zM485 214.5h1.6v2h-1.6zM485.5 214.5h1.6v3h-1.6zM502.5 214h1.6v2h-1.6zM513 214.5h1.6v3h-1.6zM518 214.5h1.6v2h-1.6zM527 214.5h1.6v2h-1.6zM539.5 214h1.6v3h-1.6zM459 216h1.6v2h-1.6zM493 215.5h1.6v4h-1.6zM532.5 215.5h1.6v2h-1.6zM547 215.5h1.6v3h-1.6zM550.5 215.5h1.6v3h-1.6zM455 217h1.6v3h-1.6zM462 216h1.6v2.5h-1.6zM468.5 216h1.6v2h-1.6zM483.5 216.5h1.6v3h-1.6zM507.5 216.5h1.6v2h-1.6zM513.5 216.5h1.6v2h-1.6zM472.5 218h1.6v2.5h-1.6zM515.5 218h1.6v3h-1.6zM526 218h1.6v2h-1.6zM531 217.5h1.6v2h-1.6zM541.5 218h1.6v2h-1.6zM472 218.5h1.6v3h-1.6zM474.5 218.5h1.6v3h-1.6zM485 218h1.6v4h-1.6zM492.5 218.5h1.6v3h-1.6zM494.5 218.5h1.6v2h-1.6zM499 218.5h1.6v2h-1.6zM524.5 218.5h1.6v2h-1.6zM452 219.5h1.6v3h-1.6zM469 219.5h1.6v3h-1.6zM474 219h1.6v3h-1.6zM482 220h1.6v4h-1.6zM505 219.5h1.6v2h-1.6zM515.5 219h1.6v4h-1.6zM528.5 219.5h1.6v3h-1.6zM535 219.5h1.6v4h-1.6zM538 220h1.6v2h-1.6zM449.5 220h1.6v2.5h-1.6zM450.5 220h1.6v2.5h-1.6zM476 220h1.6v2.5h-1.6zM479 220.5h1.6v3h-1.6zM489.5 220.5h1.6v2.5h-1.6zM494 220.5h1.6v2.5h-1.6zM450.5 221h1.6v2.5h-1.6zM481 221h1.6v4h-1.6zM486.5 221.5h1.6v2.5h-1.6zM489.5 222h1.6v2h-1.6zM499.5 221.5h1.6v3h-1.6zM500 222h1.6v2h-1.6zM512 221.5h1.6v2h-1.6zM541.5 221h1.6v2h-1.6zM451 222h1.6v2h-1.6zM452 222.5h1.6v2h-1.6zM452.5 223h1.6v2.5h-1.6zM467.5 223h1.6v3h-1.6zM492.5 222.5h1.6v2h-1.6zM497 222h1.6v2.5h-1.6zM497.5 223h1.6v2h-1.6zM511.5 223h1.6v3h-1.6zM514 222h1.6v2.5h-1.6zM515.5 222.5h1.6v2h-1.6zM517.5 223h1.6v3h-1.6zM519 222.5h1.6v3h-1.6zM524.5 222h1.6v2h-1.6zM540.5 223h1.6v4h-1.6zM477.5 223.5h1.6v2h-1.6zM480 223h1.6v4h-1.6zM484.5 223.5h1.6v3h-1.6zM504 223.5h1.6v2h-1.6zM518.5 224h1.6v2h-1.6zM453 224h1.6v2h-1.6zM475 225h1.6v3h-1.6zM487.5 224.5h1.6v2h-1.6zM488 225h1.6v3h-1.6zM497 225h1.6v2.5h-1.6zM499 225h1.6v2h-1.6zM501.5 224.5h1.6v2.5h-1.6zM503.5 224h1.6v2h-1.6zM513 224.5h1.6v2h-1.6zM480 225h1.6v2h-1.6zM487.5 225.5h1.6v2h-1.6zM491.5 225.5h1.6v3h-1.6zM501 225.5h1.6v3h-1.6zM517 226h1.6v2h-1.6zM530 225.5h1.6v2h-1.6zM451 226.5h1.6v2.5h-1.6zM475 226.5h1.6v3h-1.6zM480.5 227h1.6v2h-1.6zM482 226.5h1.6v3h-1.6zM484 226.5h1.6v3h-1.6zM487 226h1.6v2.5h-1.6zM494.5 226h1.6v4h-1.6zM497 227h1.6v2h-1.6zM500.5 226.5h1.6v2h-1.6zM502.5 226.5h1.6v4h-1.6zM515.5 227h1.6v3h-1.6zM519.5 226.5h1.6v4h-1.6zM535 227h1.6v3h-1.6zM451.5 228h1.6v2.5h-1.6zM452.5 228h1.6v2h-1.6zM469.5 227h1.6v2h-1.6zM474.5 228h1.6v2.5h-1.6zM485 227h1.6v2.5h-1.6zM490 227.5h1.6v2h-1.6zM496 228h1.6v2h-1.6zM498 227.5h1.6v2h-1.6zM502.5 227.5h1.6v2.5h-1.6zM508 228h1.6v2h-1.6zM527.5 227.5h1.6v3h-1.6zM472.5 228h1.6v4h-1.6zM482 228.5h1.6v4h-1.6zM483 229h1.6v2h-1.6zM494.5 228.5h1.6v2h-1.6zM499.5 228.5h1.6v2.5h-1.6zM501.5 228h1.6v3h-1.6zM523 228.5h1.6v4h-1.6zM532 228.5h1.6v2.5h-1.6zM453.5 229h1.6v2h-1.6zM454 230h1.6v3h-1.6zM483 229.5h1.6v2.5h-1.6zM483 229.5h1.6v2h-1.6zM483.5 230h1.6v2h-1.6zM492.5 230h1.6v2h-1.6zM501.5 229.5h1.6v3h-1.6zM508.5 229h1.6v3h-1.6zM508 229.5h1.6v3h-1.6zM516 229h1.6v2h-1.6zM515 229h1.6v3h-1.6zM518 229.5h1.6v2h-1.6zM464 230.5h1.6v3h-1.6zM469.5 230.5h1.6v4h-1.6zM471.5 231h1.6v3h-1.6zM476.5 230.5h1.6v2h-1.6zM479 231h1.6v4h-1.6zM481.5 231h1.6v3h-1.6zM483.5 230.5h1.6v2h-1.6zM485.5 230h1.6v4h-1.6zM492 231h1.6v2h-1.6zM495 230.5h1.6v3h-1.6zM497.5 230.5h1.6v4h-1.6zM501 230h1.6v2.5h-1.6zM506 230h1.6v3h-1.6zM519.5 230h1.6v2.5h-1.6zM529.5 230.5h1.6v4h-1.6zM531 230h1.6v2.5h-1.6zM534.5 230.5h1.6v3h-1.6zM453 232h1.6v2h-1.6zM477 231.5h1.6v2.5h-1.6zM476.5 231.5h1.6v4h-1.6zM483 232h1.6v3h-1.6zM489 231.5h1.6v2.5h-1.6zM521 231.5h1.6v3h-1.6zM522.5 231h1.6v3h-1.6zM525.5 232h1.6v2h-1.6zM525.5 231.5h1.6v2.5h-1.6zM529 231h1.6v4h-1.6zM537.5 231.5h1.6v2h-1.6zM453 233h1.6v3h-1.6zM466 232.5h1.6v4h-1.6zM467 233h1.6v3h-1.6zM466.5 232.5h1.6v2h-1.6zM478.5 233h1.6v2h-1.6zM484.5 232.5h1.6v3h-1.6zM491 232h1.6v2h-1.6zM492.5 232.5h1.6v3h-1.6zM496 232.5h1.6v2h-1.6zM496.5 232h1.6v2h-1.6zM496 232.5h1.6v3h-1.6zM514.5 232h1.6v3h-1.6zM515.5 232.5h1.6v2.5h-1.6zM522.5 233h1.6v3h-1.6zM532 232h1.6v2h-1.6zM533 233h1.6v2h-1.6zM534.5 232h1.6v2h-1.6zM544 232.5h1.6v2h-1.6zM454.5 233.5h1.6v3h-1.6zM461.5 234h1.6v2h-1.6zM466.5 233h1.6v4h-1.6zM475 233.5h1.6v3h-1.6zM476.5 233.5h1.6v2h-1.6zM481 234h1.6v3h-1.6zM482.5 233h1.6v3h-1.6zM488.5 233h1.6v2.5h-1.6zM491.5 233.5h1.6v4h-1.6zM494 233.5h1.6v3h-1.6zM497 233.5h1.6v2h-1.6zM499.5 233.5h1.6v2h-1.6zM501 233h1.6v2.5h-1.6zM501.5 233h1.6v2.5h-1.6zM514.5 233h1.6v2h-1.6zM523 234h1.6v3h-1.6zM531 233.5h1.6v2h-1.6zM532.5 233h1.6v2h-1.6zM460.5 234h1.6v2h-1.6zM471 234.5h1.6v3h-1.6zM473.5 235h1.6v3h-1.6zM474.5 234.5h1.6v2h-1.6zM479 234.5h1.6v2.5h-1.6zM485.5 234.5h1.6v2h-1.6zM487.5 234h1.6v2h-1.6zM492 234.5h1.6v3h-1.6zM495 235h1.6v2.5h-1.6zM503 234.5h1.6v2h-1.6zM509 235h1.6v3h-1.6zM524 234.5h1.6v4h-1.6zM524.5 234.5h1.6v3h-1.6zM525.5 234.5h1.6v2h-1.6zM535.5 234.5h1.6v4h-1.6zM453.5 236h1.6v3h-1.6zM463 235.5h1.6v4h-1.6zM476 235.5h1.6v2h-1.6zM498 236h1.6v4h-1.6zM504 235h1.6v2h-1.6zM513.5 235.5h1.6v3h-1.6zM524.5 235.5h1.6v3h-1.6zM528 235.5h1.6v3h-1.6zM533.5 235.5h1.6v2h-1.6zM537 235.5h1.6v3h-1.6zM450.5 236.5h1.6v2h-1.6zM459 236h1.6v3h-1.6zM459.5 236.5h1.6v2h-1.6zM460 237h1.6v2h-1.6zM462 237h1.6v3h-1.6zM464.5 236.5h1.6v3h-1.6zM468 237h1.6v2h-1.6zM476 237h1.6v3h-1.6zM481 236.5h1.6v2.5h-1.6zM489 236h1.6v2h-1.6zM494.5 236.5h1.6v2h-1.6zM498 236.5h1.6v2h-1.6zM528.5 236h1.6v4h-1.6zM531.5 236.5h1.6v2h-1.6zM533.5 236.5h1.6v2h-1.6zM457.5 237.5h1.6v3h-1.6zM464 237h1.6v4h-1.6zM465.5 237.5h1.6v2h-1.6zM475.5 237.5h1.6v4h-1.6zM475.5 237h1.6v2.5h-1.6zM477.5 237h1.6v2h-1.6zM480.5 238h1.6v3h-1.6zM486.5 237h1.6v3h-1.6zM487.5 237.5h1.6v3h-1.6zM494.5 237.5h1.6v3h-1.6zM495 237.5h1.6v4h-1.6zM497.5 237.5h1.6v2.5h-1.6zM502.5 237h1.6v4h-1.6zM513.5 237.5h1.6v3h-1.6zM525 238h1.6v2.5h-1.6zM533 237.5h1.6v3h-1.6zM538 238h1.6v2h-1.6zM540 237.5h1.6v3h-1.6zM540 237.5h1.6v3h-1.6zM469 239h1.6v4h-1.6zM476.5 238.5h1.6v2.5h-1.6zM476.5 239h1.6v3h-1.6zM477.5 239h1.6v3h-1.6zM477.5 238.5h1.6v3h-1.6zM486.5 238.5h1.6v2h-1.6zM488.5 238.5h1.6v2h-1.6zM493.5 238.5h1.6v2h-1.6zM493 238.5h1.6v3h-1.6zM494 238.5h1.6v3h-1.6zM497.5 238h1.6v3h-1.6zM502.5 238.5h1.6v2h-1.6zM509 238.5h1.6v3h-1.6zM517 239h1.6v3h-1.6zM522 238h1.6v3h-1.6zM523 238h1.6v2h-1.6zM526 238h1.6v3h-1.6zM529 238.5h1.6v3h-1.6zM448 239.5h1.6v2h-1.6zM489 239.5h1.6v2h-1.6zM490 239h1.6v2h-1.6zM491.5 239.5h1.6v2.5h-1.6zM495.5 239.5h1.6v3h-1.6zM501 239.5h1.6v2.5h-1.6zM513.5 239.5h1.6v2h-1.6zM530.5 239h1.6v3h-1.6zM535 239.5h1.6v3h-1.6zM445 240.5h1.6v3h-1.6zM449 240h1.6v4h-1.6zM463.5 241h1.6v2h-1.6zM479.5 240h1.6v2h-1.6zM490 240h1.6v4h-1.6zM495 241h1.6v2h-1.6zM496.5 240h1.6v2h-1.6zM501 240.5h1.6v4h-1.6zM507.5 240h1.6v2.5h-1.6zM513 240.5h1.6v4h-1.6zM516 241h1.6v3h-1.6zM519.5 240.5h1.6v2h-1.6zM540 240.5h1.6v2h-1.6zM546.5 240.5h1.6v3h-1.6zM473.5 241.5h1.6v3h-1.6zM484.5 241.5h1.6v4h-1.6zM489.5 242h1.6v2h-1.6zM495 241h1.6v2h-1.6zM501.5 241.5h1.6v2h-1.6zM512 242h1.6v3h-1.6zM511 241h1.6v4h-1.6zM532 241.5h1.6v4h-1.6zM536 241h1.6v2h-1.6zM539 241.5h1.6v2h-1.6zM466 242.5h1.6v2h-1.6zM484 242.5h1.6v3h-1.6zM496 242.5h1.6v2.5h-1.6zM502.5 242.5h1.6v2h-1.6zM503 242.5h1.6v4h-1.6zM507.5 242.5h1.6v4h-1.6zM517.5 242.5h1.6v2h-1.6zM524 242.5h1.6v2h-1.6zM532.5 242.5h1.6v2.5h-1.6zM533 242h1.6v3h-1.6zM462 244h1.6v2.5h-1.6zM463.5 243.5h1.6v2h-1.6zM470 243h1.6v2.5h-1.6zM474.5 244h1.6v3h-1.6zM481.5 243.5h1.6v2.5h-1.6zM497.5 243.5h1.6v3h-1.6zM499 243.5h1.6v2h-1.6zM503 243.5h1.6v2.5h-1.6zM520.5 244h1.6v3h-1.6zM531.5 244h1.6v3h-1.6zM536.5 243h1.6v2h-1.6zM541 243.5h1.6v3h-1.6zM544 244h1.6v2.5h-1.6zM441 244h1.6v3h-1.6zM479.5 244h1.6v3h-1.6zM496.5 244.5h1.6v2h-1.6zM499.5 245h1.6v2.5h-1.6zM506.5 244.5h1.6v2.5h-1.6zM506.5 244.5h1.6v2h-1.6zM513.5 245h1.6v2h-1.6zM514.5 244.5h1.6v2h-1.6zM518.5 244.5h1.6v3h-1.6zM521.5 245h1.6v2h-1.6zM524.5 245h1.6v4h-1.6zM525 244.5h1.6v2.5h-1.6zM537 244.5h1.6v4h-1.6zM537.5 245h1.6v2.5h-1.6zM547 244h1.6v3h-1.6zM471.5 245.5h1.6v2h-1.6zM476.5 245h1.6v2.5h-1.6zM482 245h1.6v2h-1.6zM482.5 245.5h1.6v3h-1.6zM482 245.5h1.6v2h-1.6zM491 245.5h1.6v4h-1.6zM492.5 245.5h1.6v2.5h-1.6zM493 245h1.6v3h-1.6zM526.5 245.5h1.6v3h-1.6zM454 246.5h1.6v3h-1.6zM487 246.5h1.6v3h-1.6zM487.5 246h1.6v4h-1.6zM492.5 247h1.6v2h-1.6zM500 246.5h1.6v2.5h-1.6zM508 246.5h1.6v3h-1.6zM522 246h1.6v4h-1.6zM539 246h1.6v3h-1.6zM539 247h1.6v4h-1.6zM542 246.5h1.6v2.5h-1.6zM466 247h1.6v2.5h-1.6zM475 247h1.6v3h-1.6zM489 247.5h1.6v2.5h-1.6zM488 247.5h1.6v3h-1.6zM490.5 247.5h1.6v2h-1.6zM492.5 248h1.6v2.5h-1.6zM494.5 247.5h1.6v2.5h-1.6zM508.5 247h1.6v2h-1.6zM514 248h1.6v3h-1.6zM521 247.5h1.6v2h-1.6zM525.5 247.5h1.6v2h-1.6zM528.5 247.5h1.6v3h-1.6zM542 247.5h1.6v4h-1.6zM441 249h1.6v2h-1.6zM441 248.5h1.6v2.5h-1.6zM443.5 248.5h1.6v3h-1.6zM471 249h1.6v2.5h-1.6zM475.5 248h1.6v2.5h-1.6zM488 248h1.6v4h-1.6zM492.5 248.5h1.6v3h-1.6zM493 248.5h1.6v4h-1.6zM512 248.5h1.6v2.5h-1.6zM440 249h1.6v4h-1.6zM442.5 249h1.6v2h-1.6zM444.5 249.5h1.6v4h-1.6zM447 249.5h1.6v2h-1.6zM462.5 249.5h1.6v2h-1.6zM475 249.5h1.6v2h-1.6zM479 249.5h1.6v2.5h-1.6zM479.5 250h1.6v3h-1.6zM499 249.5h1.6v4h-1.6zM525.5 249.5h1.6v3h-1.6zM526.5 249.5h1.6v3h-1.6zM531.5 249.5h1.6v3h-1.6zM442.5 250.5h1.6v2.5h-1.6zM490 250.5h1.6v2h-1.6zM510.5 251h1.6v2h-1.6zM510 251h1.6v3h-1.6zM542.5 250.5h1.6v2h-1.6zM443 251h1.6v3h-1.6zM456.5 252h1.6v4h-1.6zM459.5 251.5h1.6v2h-1.6zM462 251.5h1.6v2h-1.6zM471.5 251.5h1.6v2h-1.6zM476 251h1.6v2h-1.6zM488.5 251h1.6v3h-1.6zM491 251.5h1.6v2.5h-1.6zM497 251.5h1.6v2.5h-1.6zM503.5 251.5h1.6v2h-1.6zM546 251.5h1.6v3h-1.6zM438.5 252.5h1.6v2.5h-1.6zM449 253h1.6v3h-1.6zM474.5 253h1.6v2h-1.6zM480.5 252h1.6v3h-1.6zM481 253h1.6v3h-1.6zM484 253h1.6v2.5h-1.6zM484.5 252h1.6v3h-1.6zM444.5 253.5h1.6v2h-1.6zM458.5 253h1.6v2h-1.6zM463 253.5h1.6v2.5h-1.6zM488.5 254h1.6v3h-1.6zM490 253.5h1.6v3h-1.6zM493.5 254h1.6v2h-1.6zM495 253h1.6v2h-1.6zM502 254h1.6v2h-1.6zM517 253.5h1.6v2h-1.6zM526 253.5h1.6v4h-1.6zM532.5 253h1.6v2h-1.6zM534 254h1.6v3h-1.6zM545 253.5h1.6v2h-1.6zM458 255h1.6v2h-1.6zM488.5 255h1.6v4h-1.6zM492.5 254h1.6v2h-1.6zM495 255h1.6v4h-1.6zM462 255.5h1.6v2.5h-1.6zM482 255.5h1.6v3h-1.6zM484.5 255.5h1.6v2.5h-1.6zM487 256h1.6v2h-1.6zM488 256h1.6v2h-1.6zM489.5 256h1.6v4h-1.6zM492.5 255.5h1.6v3h-1.6zM495.5 255.5h1.6v2.5h-1.6zM509.5 255h1.6v3h-1.6zM451 256h1.6v4h-1.6zM490.5 256.5h1.6v3h-1.6zM505 257h1.6v3h-1.6zM511 257h1.6v3h-1.6zM451.5 257.5h1.6v3h-1.6zM457 257.5h1.6v4h-1.6zM460.5 257h1.6v3h-1.6zM485 257.5h1.6v2h-1.6zM489 257h1.6v2h-1.6zM493 258h1.6v2h-1.6zM494.5 258h1.6v2h-1.6zM494 257.5h1.6v2h-1.6zM501.5 257h1.6v3h-1.6zM490.5 258h1.6v2h-1.6zM446 259h1.6v3h-1.6zM459 259.5h1.6v2h-1.6zM481.5 259.5h1.6v2h-1.6zM486.5 260h1.6v2h-1.6zM488.5 260h1.6v2h-1.6zM489 259.5h1.6v2h-1.6zM489 259h1.6v2h-1.6zM508.5 259.5h1.6v3h-1.6zM460.5 260.5h1.6v3h-1.6zM464.5 260.5h1.6v4h-1.6zM486 260.5h1.6v2h-1.6zM488 260h1.6v2h-1.6zM495 260.5h1.6v3h-1.6zM447 261.5h1.6v2h-1.6zM457.5 261h1.6v3h-1.6zM477.5 261.5h1.6v3h-1.6zM504 261h1.6v4h-1.6zM530 261.5h1.6v3h-1.6zM435 262.5h1.6v4h-1.6zM445 262h1.6v4h-1.6zM445.5 263h1.6v3h-1.6zM488 262.5h1.6v3h-1.6zM493.5 262.5h1.6v2h-1.6zM495.5 262h1.6v3h-1.6zM438.5 263h1.6v2.5h-1.6zM457.5 263.5h1.6v2h-1.6zM461 264h1.6v2.5h-1.6zM493 263.5h1.6v4h-1.6zM496.5 263.5h1.6v2h-1.6zM434 264h1.6v4h-1.6zM442.5 265h1.6v3h-1.6zM457 264.5h1.6v4h-1.6zM482 264h1.6v3h-1.6zM492 264.5h1.6v2h-1.6zM438 265h1.6v3h-1.6zM462.5 266h1.6v3h-1.6zM487.5 265.5h1.6v4h-1.6zM488.5 265.5h1.6v3h-1.6zM513.5 265.5h1.6v2h-1.6zM515 265.5h1.6v4h-1.6zM433.5 266.5h1.6v4h-1.6zM461.5 266h1.6v3h-1.6zM482 267h1.6v2h-1.6zM494.5 266.5h1.6v2h-1.6zM538 266.5h1.6v2h-1.6zM438.5 268h1.6v2.5h-1.6zM447.5 267.5h1.6v2h-1.6zM484.5 268h1.6v4h-1.6zM493 268h1.6v2h-1.6zM518 267.5h1.6v2h-1.6zM526 267h1.6v2.5h-1.6zM544.5 267.5h1.6v4h-1.6zM548 267.5h1.6v4h-1.6zM449 268h1.6v2.5h-1.6zM461.5 268h1.6v4h-1.6zM481.5 269h1.6v2h-1.6zM487.5 268h1.6v2.5h-1.6zM490 268h1.6v4h-1.6zM492.5 268.5h1.6v3h-1.6zM535 268.5h1.6v4h-1.6zM538 268.5h1.6v3h-1.6zM472 269h1.6v4h-1.6zM515 269.5h1.6v3h-1.6zM541 270h1.6v2.5h-1.6zM550.5 270h1.6v2.5h-1.6zM430 270.5h1.6v4h-1.6zM439.5 270.5h1.6v2h-1.6zM448 270h1.6v2h-1.6zM480 270.5h1.6v3h-1.6zM516 271h1.6v2h-1.6zM475.5 271h1.6v2h-1.6zM486.5 271.5h1.6v2.5h-1.6zM492.5 271.5h1.6v2h-1.6zM494 272h1.6v4h-1.6zM520.5 271h1.6v2h-1.6zM543.5 272h1.6v2h-1.6zM436 272h1.6v4h-1.6zM517.5 272.5h1.6v2.5h-1.6zM550 272h1.6v2h-1.6zM440.5 273.5h1.6v3h-1.6zM443.5 273.5h1.6v2.5h-1.6zM446.5 273.5h1.6v3h-1.6zM467.5 274h1.6v2h-1.6zM483 273h1.6v3h-1.6zM485 274h1.6v4h-1.6zM486 273h1.6v4h-1.6zM504.5 273.5h1.6v4h-1.6zM478 274h1.6v3h-1.6zM484 274h1.6v3h-1.6zM506.5 274h1.6v3h-1.6zM515.5 275h1.6v3h-1.6zM545 274.5h1.6v4h-1.6zM552.5 274.5h1.6v2h-1.6zM438 276h1.6v2h-1.6zM516 275.5h1.6v3h-1.6zM436 276.5h1.6v4h-1.6zM442 276.5h1.6v2h-1.6zM502 277h1.6v3h-1.6zM513.5 276.5h1.6v2.5h-1.6zM436.5 277.5h1.6v2h-1.6zM442.5 277.5h1.6v3h-1.6zM443 277.5h1.6v3h-1.6zM449 277.5h1.6v3h-1.6zM504 277h1.6v2h-1.6zM438 278.5h1.6v3h-1.6zM447 279h1.6v2h-1.6zM452.5 278h1.6v2h-1.6zM506 279h1.6v2h-1.6zM516.5 279h1.6v2h-1.6zM537 279h1.6v2h-1.6zM445 279h1.6v2h-1.6zM479.5 279.5h1.6v3h-1.6zM486 280h1.6v2h-1.6zM547.5 279h1.6v2.5h-1.6zM450 280h1.6v2h-1.6zM466.5 280.5h1.6v4h-1.6zM471.5 280h1.6v2h-1.6zM482.5 281h1.6v2h-1.6zM482.5 280h1.6v2h-1.6zM533.5 281h1.6v2h-1.6zM434.5 281.5h1.6v4h-1.6zM448 281.5h1.6v4h-1.6zM452.5 282h1.6v4h-1.6zM455 282h1.6v2h-1.6zM477.5 282h1.6v4h-1.6zM480 281.5h1.6v2h-1.6zM521 281h1.6v4h-1.6zM446.5 282h1.6v2h-1.6zM447.5 282h1.6v2h-1.6zM448 283h1.6v3h-1.6zM450.5 282h1.6v2.5h-1.6zM509.5 282.5h1.6v2h-1.6zM511.5 282.5h1.6v3h-1.6zM538.5 282.5h1.6v4h-1.6zM546 282.5h1.6v2h-1.6zM553.5 283h1.6v4h-1.6zM554 282.5h1.6v3h-1.6zM449 283.5h1.6v2h-1.6zM455 284h1.6v2h-1.6zM456 283.5h1.6v2h-1.6zM477.5 283.5h1.6v2h-1.6zM518.5 283.5h1.6v2h-1.6zM542.5 283.5h1.6v2h-1.6zM451 284h1.6v2h-1.6zM488 284.5h1.6v4h-1.6zM518 284h1.6v2h-1.6zM548 284h1.6v4h-1.6zM477.5 286h1.6v4h-1.6zM553 285.5h1.6v2.5h-1.6zM533.5 286.5h1.6v3h-1.6zM455 288h1.6v2h-1.6zM474.5 287h1.6v2h-1.6zM475.5 287.5h1.6v2h-1.6zM531 288h1.6v4h-1.6zM542.5 287.5h1.6v2h-1.6zM548.5 287.5h1.6v2.5h-1.6zM505 288.5h1.6v2.5h-1.6zM463.5 290h1.6v2.5h-1.6zM470.5 289.5h1.6v3h-1.6zM517 289.5h1.6v2.5h-1.6zM531.5 289.5h1.6v2h-1.6zM484.5 290.5h1.6v2.5h-1.6zM486.5 290.5h1.6v2.5h-1.6zM498.5 290.5h1.6v2.5h-1.6zM538 290h1.6v2h-1.6zM453.5 290.5h1.6v4h-1.6zM473.5 292h1.6v2.5h-1.6zM482 292h1.6v2.5h-1.6zM501 291.5h1.6v3h-1.6zM532.5 291.5h1.6v3h-1.6zM500.5 291.5h1.6v3h-1.6zM534.5 292h1.6v2.5h-1.6zM527.5 291.5h1.6v3h-1.6zM529 290.5h1.6v4h-1.6zM528.5 292.5h1.6v2h-1.6zM538.5 291.5h1.6v3h-1.6zM448.5 292.5h1.6v2h-1.6zM448 291.5h1.6v3h-1.6zM451.5 291.5h1.6v3h-1.6zM454 292.5h1.6v2h-1.6zM467.5 292h1.6v2.5h-1.6zM167 243h1.6v3h-1.6zM163.5 253.5h1.6v4h-1.6zM167 243.5h1.6v2h-1.6zM160 258h1.6v3h-1.6zM161 256.5h1.6v3h-1.6zM159 259h1.6v2h-1.6zM167 244h1.6v4h-1.6zM166 245h1.6v2h-1.6zM164.5 246.5h1.6v3h-1.6zM165 247h1.6v2.5h-1.6zM161.5 252.5h1.6v2h-1.6zM164.5 246h1.6v3h-1.6zM162.5 253h1.6v2h-1.6zM165 245h1.6v3h-1.6zM167 243h1.6v2h-1.6zM165 249h1.6v2.5h-1.6zM160 259h1.6v2h-1.6zM169.5 231h1.6v2h-1.6zM171.5 226.5h1.6v2.5h-1.6zM172.5 225.5h1.6v3h-1.6zM170 230h1.6v2h-1.6zM167 239h1.6v3h-1.6zM170 236h1.6v4h-1.6zM171 232.5h1.6v2h-1.6zM170.5 234h1.6v3h-1.6zM173 225.5h1.6v3h-1.6zM171 227.5h1.6v2.5h-1.6zM171 231h1.6v3h-1.6zM169 239.5h1.6v2.5h-1.6zM171 225.5h1.6v3h-1.6zM176 208h1.6v2h-1.6zM173.5 222h1.6v2.5h-1.6zM175 211.5h1.6v2h-1.6zM174 221h1.6v4h-1.6zM173 217h1.6v2h-1.6zM172.5 221.5h1.6v3h-1.6zM173.5 216.5h1.6v2h-1.6zM174.5 219.5h1.6v2h-1.6zM176 210.5h1.6v4h-1.6zM175.5 208h1.6v2h-1.6zM175 209.5h1.6v3h-1.6zM172.5 218h1.6v4h-1.6zM173 217.5h1.6v3h-1.6zM179 195.5h1.6v2h-1.6zM182.5 188.5h1.6v4h-1.6zM183 190h1.6v2.5h-1.6zM182 192h1.6v2.5h-1.6zM181.5 192.5h1.6v2h-1.6zM181.5 193h1.6v3h-1.6zM180 195h1.6v3h-1.6zM180 197h1.6v4h-1.6zM175.5 205h1.6v2h-1.6zM177.5 200.5h1.6v3h-1.6zM179.5 198h1.6v4h-1.6zM177 204.5h1.6v2h-1.6zM180 197h1.6v2.5h-1.6zM178.5 203h1.6v2h-1.6zM177 205h1.6v2.5h-1.6zM181.5 192.5h1.6v2.5h-1.6zM184.5 183.5h1.6v3h-1.6zM185 180.5h1.6v3h-1.6zM183.5 183h1.6v3h-1.6zM186.5 179h1.6v2h-1.6zM182 188h1.6v3h-1.6zM183 187h1.6v4h-1.6zM183.5 186h1.6v2h-1.6zM182.5 187h1.6v3h-1.6zM185 182h1.6v2h-1.6zM184 186h1.6v3h-1.6zM185.5 176h1.6v3h-1.6zM190.5 161.5h1.6v4h-1.6zM185 176h1.6v3h-1.6zM189 160.5h1.6v4h-1.6zM190 161h1.6v2h-1.6zM189 162.5h1.6v2.5h-1.6zM187.5 171.5h1.6v3h-1.6zM190 161.5h1.6v2.5h-1.6zM188.5 170.5h1.6v3h-1.6zM186 175h1.6v2h-1.6zM189.5 160h1.6v3h-1.6zM189.5 162.5h1.6v4h-1.6zM186.5 174.5h1.6v3h-1.6zM189 165.5h1.6v4h-1.6zM190.5 157.5h1.6v2.5h-1.6zM194.5 145.5h1.6v2h-1.6zM194.5 147.5h1.6v3h-1.6zM191.5 156h1.6v3h-1.6zM189 158.5h1.6v4h-1.6zM193 152h1.6v2.5h-1.6zM192 153h1.6v3h-1.6zM192 154h1.6v2h-1.6zM190.5 157.5h1.6v2h-1.6zM196 145.5h1.6v2.5h-1.6zM193 150.5h1.6v3h-1.6zM194 144.5h1.6v4h-1.6zM201 134.5h1.6v4h-1.6zM199 137h1.6v2h-1.6zM199.5 139h1.6v3h-1.6zM201.5 136h1.6v2h-1.6zM199.5 135.5h1.6v2.5h-1.6zM198.5 140h1.6v2.5h-1.6zM198.5 139h1.6v4h-1.6zM202 133.5h1.6v3h-1.6zM202 133.5h1.6v2h-1.6zM200 137h1.6v4h-1.6zM203.5 132h1.6v2h-1.6zM203 132.5h1.6v2h-1.6zM203 130h1.6v4h-1.6zM203.5 130h1.6v2.5h-1.6zM205 128h1.6v3h-1.6zM188.5 257.5h1.6v3h-1.6zM188.5 242h1.6v2.5h-1.6zM189.5 236h1.6v2h-1.6zM190 238.5h1.6v2h-1.6zM188.5 246.5h1.6v2.5h-1.6zM188 251h1.6v2h-1.6zM189 243h1.6v2.5h-1.6zM190.5 235.5h1.6v4h-1.6zM190 236h1.6v2h-1.6zM189.5 224h1.6v2h-1.6zM191 217.5h1.6v4h-1.6zM190.5 226h1.6v2h-1.6zM190 212.5h1.6v2h-1.6zM190 226h1.6v3h-1.6zM189.5 219.5h1.6v2h-1.6zM190 223.5h1.6v2h-1.6zM190.5 232.5h1.6v2.5h-1.6zM199 252.5h1.6v4h-1.6zM200.5 242h1.6v2.5h-1.6zM200 247.5h1.6v3h-1.6zM201 244.5h1.6v2.5h-1.6zM202.5 234.5h1.6v2h-1.6zM200.5 248h1.6v2h-1.6zM198 255h1.6v4h-1.6zM199.5 255.5h1.6v2h-1.6zM202.5 236h1.6v2.5h-1.6zM199.5 250.5h1.6v2h-1.6zM204.5 225h1.6v3h-1.6zM202.5 232.5h1.6v3h-1.6zM203 223.5h1.6v2h-1.6zM205 222.5h1.6v2h-1.6zM207 209.5h1.6v3h-1.6zM205.5 221.5h1.6v3h-1.6zM206 210h1.6v4h-1.6zM205.5 220h1.6v2h-1.6zM202 234h1.6v3h-1.6zM202 232.5h1.6v4h-1.6zM203 227.5h1.6v2.5h-1.6zM212.5 133.5h1.6v3h-1.6zM212.5 110.5h1.6v2h-1.6zM212.5 104h1.6v2h-1.6zM212 122.5h1.6v2.5h-1.6zM211.5 123h1.6v3h-1.6zM216 115h1.6v4h-1.6zM216.5 112.5h1.6v3h-1.6zM215.5 116.5h1.6v2h-1.6zM216.5 111.5h1.6v4h-1.6zM214.5 121h1.6v2h-1.6zM213.5 122h1.6v3h-1.6zM216 116.5h1.6v4h-1.6zM215.5 120.5h1.6v3h-1.6zM218.5 108.5h1.6v3h-1.6zM215 119.5h1.6v4h-1.6zM218 112.5h1.6v4h-1.6zM230 106h1.6v3h-1.6zM228.5 112h1.6v2h-1.6zM230 109.5h1.6v4h-1.6zM231 108.5h1.6v4h-1.6zM229 111h1.6v4h-1.6zM228 114.5h1.6v4h-1.6zM227.5 112.5h1.6v4h-1.6zM228 115h1.6v3h-1.6zM232.5 93.5h1.6v2h-1.6zM235 91.5h1.6v4h-1.6zM235.5 90h1.6v2h-1.6zM238.5 85h1.6v4h-1.6zM236.5 88h1.6v2h-1.6zM239 99h1.6v3h-1.6zM238 103h1.6v3h-1.6zM238.5 100h1.6v2.5h-1.6zM238.5 99.5h1.6v2.5h-1.6zM241.5 121h1.6v4h-1.6zM241.5 109.5h1.6v4h-1.6zM221 124h1.6v2h-1.6zM223.5 121.5h1.6v3h-1.6zM225 117.5h1.6v2h-1.6zM225.5 119.5h1.6v3h-1.6zM222 124.5h1.6v4h-1.6zM450 210.5h1.6v4h-1.6zM449 213.5h1.6v4h-1.6zM450 204h1.6v2h-1.6zM448.5 207.5h1.6v2.5h-1.6zM447.5 216h1.6v3h-1.6zM449 205.5h1.6v3h-1.6zM449 215.5h1.6v3h-1.6zM448.5 215h1.6v2h-1.6zM453 200h1.6v3h-1.6zM454 197.5h1.6v3h-1.6zM451 201h1.6v3h-1.6zM454 196h1.6v4h-1.6zM451 203h1.6v4h-1.6zM453 200.5h1.6v2h-1.6zM456 189.5h1.6v4h-1.6zM454 197h1.6v2.5h-1.6zM456.5 190.5h1.6v2h-1.6zM450 202.5h1.6v3h-1.6zM463 173.5h1.6v3h-1.6zM462 176h1.6v2h-1.6zM459.5 183h1.6v2h-1.6zM460 182.5h1.6v2.5h-1.6zM457.5 187.5h1.6v3h-1.6zM458 183.5h1.6v2h-1.6zM459 181.5h1.6v2h-1.6zM458 186.5h1.6v4h-1.6zM457.5 185h1.6v2h-1.6zM459 186.5h1.6v3h-1.6zM460 179.5h1.6v2.5h-1.6zM466.5 159h1.6v2h-1.6zM464 170h1.6v3h-1.6zM463 172.5h1.6v3h-1.6zM468 151.5h1.6v3h-1.6zM465 155h1.6v2h-1.6zM463.5 164.5h1.6v4h-1.6zM465.5 161.5h1.6v3h-1.6zM465 160.5h1.6v3h-1.6zM465 163h1.6v2h-1.6zM465.5 164h1.6v4h-1.6zM467 153h1.6v2.5h-1.6zM463.5 167h1.6v3h-1.6zM467.5 152h1.6v2.5h-1.6zM463.5 167h1.6v3h-1.6zM465 167.5h1.6v4h-1.6zM471 127h1.6v3h-1.6zM468 144.5h1.6v2h-1.6zM468.5 136.5h1.6v4h-1.6zM467.5 141h1.6v2h-1.6zM467 142.5h1.6v3h-1.6zM468.5 143.5h1.6v3h-1.6zM469 131.5h1.6v2h-1.6zM469 139h1.6v4h-1.6zM470.5 128.5h1.6v3h-1.6zM467.5 137h1.6v2.5h-1.6zM466.5 147.5h1.6v4h-1.6zM470 127.5h1.6v2h-1.6zM468 137.5h1.6v2.5h-1.6zM468 140.5h1.6v2.5h-1.6zM472 130.5h1.6v3h-1.6zM470 132h1.6v3h-1.6zM474 124.5h1.6v2h-1.6zM473.5 128h1.6v2h-1.6zM476 120.5h1.6v2h-1.6zM477 116.5h1.6v3h-1.6zM482 106h1.6v3h-1.6zM476.5 119.5h1.6v4h-1.6zM477 117h1.6v4h-1.6zM484.5 102h1.6v4h-1.6zM484 103h1.6v2.5h-1.6zM485.5 100h1.6v3h-1.6zM489.5 89h1.6v2.5h-1.6zM490.5 91h1.6v2h-1.6zM494 83.5h1.6v2h-1.6zM493.5 84.5h1.6v2.5h-1.6zM539.5 93h1.6v4h-1.6zM540.5 95.5h1.6v3h-1.6zM538.5 90.5h1.6v3h-1.6zM540.5 98.5h1.6v2h-1.6zM539.5 100.5h1.6v3h-1.6zM543 109.5h1.6v3h-1.6zM542.5 106.5h1.6v2h-1.6zM540.5 101.5h1.6v2h-1.6zM527.5 35.5h1.6v2h-1.6zM526 38.5h1.6v2h-1.6zM526 46h1.6v4h-1.6zM525.5 45h1.6v2h-1.6zM528 31.5h1.6v3h-1.6zM525 43h1.6v4h-1.6zM526.5 39.5h1.6v3h-1.6zM518 51.5h1.6v4h-1.6zM515.5 58.5h1.6v2h-1.6zM512.5 63h1.6v2h-1.6zM514 62h1.6v2.5h-1.6zM516 58h1.6v4h-1.6zM515 59.5h1.6v4h-1.6zM517 50.5h1.6v3h-1.6zM513.5 64.5h1.6v3h-1.6zM533 52h1.6v2.5h-1.6zM533 55h1.6v3h-1.6zM532 49h1.6v4h-1.6zM532 48.5h1.6v2h-1.6zM532.5 57h1.6v3h-1.6zM536.5 59h1.6v2.5h-1.6zM537 64.5h1.6v2h-1.6zM535 68.5h1.6v2.5h-1.6zM537 63h1.6v4h-1.6zM523.5 63.5h1.6v3h-1.6zM522 68h1.6v4h-1.6zM502.5 119.5h1.6v2.5h-1.6zM503.5 116.5h1.6v3h-1.6zM503 122.5h1.6v4h-1.6zM506 113h1.6v2h-1.6zM503.5 113h1.6v3h-1.6zM504.5 117.5h1.6v2h-1.6zM517.5 102.5h1.6v4h-1.6zM516.5 102.5h1.6v2.5h-1.6zM517.5 104.5h1.6v2.5h-1.6zM519 103h1.6v2h-1.6zM516.5 107.5h1.6v4h-1.6z" fill="#000"/>
<path d="M76.5 361.5V630.5H657.5" fill="none" stroke="#b0b0b0" stroke-width="1"/>
<path d="M76.5 630.50h6" stroke="#dcdcdc" stroke-width="1"/>
<text x="71.30" y="637.60" text-anchor="end" font-size="20" font-family="Liberation Serif" font-weight="bold" fill="#262626">0</text>
<path d="M76.5 585.75h6" stroke="#dcdcdc" stroke-width="1"/>
<text x="71.30" y="592.85" text-anchor="end" font-size="20" font-family="Liberation Serif" font-weight="bold" fill="#262626">50</text>
<path d="M76.5 541.00h6" stroke="#dcdcdc" stroke-width="1"/>
<text x="71.30" y="548.10" text-anchor="end" font-size="20" font-family="Liberation Serif" font-weight="bold" fill="#262626">100</text>
<path d="M76.5 496.25h6" stroke="#dcdcdc" stroke-width="1"/>
<text x="71.30" y="503.35" text-anchor="end" font-size="20" font-family="Liberation Serif" font-weight="bold" fill="#262626">150</text>
<path d="M76.5 451.50h6" stroke="#dcdcdc" stroke-width="1"/>
<text x="71.30" y="458.60" text-anchor="end" font-size="20" font-family="Liberation Serif" font-weight="bold" fill="#262626">200</text>
<path d="M76.5 406.75h6" stroke="#dcdcdc" stroke-width="1"/>
<text x="71.30" y="413.85" text-anchor="end" font-size="20" font-family="Liberation Serif" font-weight="bold" fill="#262626">250</text>
<path d="M76.5 362.00h6" stroke="#dcdcdc" stroke-width="1"/>
<text x="71.30" y="369.10" text-anchor="end" font-size="20" font-family="Liberation Serif" font-weight="bold" fill="#262626">300</text>
<path d="M76.50 630.5v-6" stroke="#dcdcdc" stroke-width="1"/>
<text x="76.50" y="655" text-anchor="middle" font-size="20" font-family="Liberation Serif" font-weight="bold" fill="#262626">0</text>
<path d="M270.17 630.5v-6" stroke="#dcdcdc" stroke-width="1"/>
<text x="270.17" y="655" text-anchor="middle" font-size="20" font-family="Liberation Serif" font-weight="bold" fill="#262626">50</text>
<path d="M463.83 630.5v-6" stroke="#dcdcdc" stroke-width="1"/>
<text x="463.83" y="655" text-anchor="middle" font-size="20" font-family="Liberation Serif" font-weight="bold" fill="#262626">100</text>
<path d="M657.50 630.5v-6" stroke="#dcdcdc" stroke-width="1"/>
<text x="657.50" y="655" text-anchor="middle" font-size="20" font-family="Liberation Serif" font-weight="bold" fill="#262626">150</text>
<text x="372.8" y="681.9" text-anchor="middle" font-size="24.6" font-family="Liberation Serif" font-weight="bold" fill="#262626">Time step (starting from midnight)</text>
<text transform="translate(33.8 496.4) rotate(-90)" text-anchor="middle" font-size="22.4" font-family="Liberation Serif" font-weight="bold" fill="#262626">Mean waiting time (s)</text>
<path d="M80.37 630.50 L84.25 630.50 L88.12 630.50 L91.99 630.50 L95.87 630.50 L99.74 630.50 L103.61 630.50 L107.49 630.50 L111.36 630.50 L115.23 630.50 L119.11 630.50 L122.98 630.50 L126.85 630.50 L130.73 630.50 L134.60 630.50 L138.47 630.50 L142.35 630.50 L146.22 630.50 L150.09 630.50 L153.97 630.50 L157.84 630.50 L161.71 630.50 L165.59 630.50 L169.46 630.50 L173.33 630.50 L177.21 630.50 L181.08 630.50 L184.95 630.50 L188.83 630.50 L192.70 630.50 L196.57 630.50 L200.45 630.50 L204.32 630.50 L208.19 630.50 L212.07 630.50 L215.94 630.50 L219.81 630.50 L223.69 630.50 L227.56 630.50 L231.43 630.50 L235.31 628.71 L239.18 618.87 L243.05 597.38 L246.93 574.12 L250.80 569.64 L254.67 560.69 L258.55 505.20 L262.42 485.51 L266.29 440.76 L270.17 454.19 L274.04 456.87 L277.91 472.98 L281.79 496.25 L285.66 415.70 L289.53 403.17 L293.41 453.29 L297.28 491.77 L301.15 502.51 L305.03 473.88 L308.90 489.09 L312.77 496.25 L316.65 543.68 L320.52 581.27 L324.39 605.44 L328.27 616.18 L332.14 625.13 L336.01 630.50 L339.89 630.50 L343.76 630.50 L347.63 630.50 L351.51 630.50 L355.38 630.50 L359.25 630.50 L363.13 630.50 L367.00 630.50 L370.87 630.50 L374.75 630.50 L378.62 630.50 L382.49 630.50 L386.37 630.50 L390.24 630.50 L394.11 630.50 L397.99 630.50 L401.86 630.50 L405.73 630.50 L409.61 630.50 L413.48 630.50 L417.35 630.50 L421.23 630.50 L425.10 630.50 L428.97 630.50 L432.85 630.50 L436.72 630.50 L440.59 630.50 L444.47 629.61 L448.34 626.92 L452.21 603.65 L456.09 554.42 L459.96 523.10 L463.83 430.91 L467.71 452.39 L471.58 496.25 L475.45 402.27 L479.33 448.81 L483.20 450.61 L487.07 467.61 L490.95 430.02 L494.82 454.19 L498.69 440.76 L502.57 422.86 L506.44 374.53 L510.31 485.51 L514.19 449.71 L518.06 439.87 L521.93 459.56 L525.81 447.92 L529.68 399.59 L533.55 515.94 L537.43 541.00 L541.30 576.80 L545.17 620.65 L549.05 629.61 L552.92 630.50 L556.79 630.50 L560.67 630.50 L564.54 630.50 L568.41 630.50 L572.29 630.50 L576.16 630.50 L580.03 630.50 L583.91 630.50 L587.78 630.50 L591.65 630.50 L595.53 630.50 L599.40 630.50 L603.27 630.50 L607.15 630.50 L611.02 630.50 L614.89 630.50 L618.77 630.50 L622.64 630.50 L626.51 630.50 L630.39 630.50" fill="none" stroke="#2a2a2a" stroke-width="0.85" stroke-linejoin="round"/>
<path transform="translate(0 0.25)" d="M80.37 630.50 L84.25 630.50 L88.12 630.50 L91.99 630.50 L95.87 630.50 L99.74 630.50 L103.61 630.50 L107.49 630.50 L111.36 630.50 L115.23 630.50 L119.11 630.50 L122.98 630.50 L126.85 630.50 L130.73 630.50 L134.60 630.50 L138.47 630.50 L142.35 630.50 L146.22 630.50 L150.09 630.50 L153.97 630.50 L157.84 630.50 L161.71 630.50 L165.59 630.50 L169.46 630.50 L173.33 630.50 L177.21 630.50 L181.08 630.50 L184.95 630.50 L188.83 630.50 L192.70 630.50 L196.57 630.50 L200.45 630.50 L204.32 630.50 L208.19 630.50 L212.07 630.50 L215.94 630.50 L219.81 630.50 L223.69 630.50 L227.56 630.50 L231.43 630.50 L235.31 628.71 L239.18 618.87 L243.05 599.17 L246.93 579.49 L250.80 558.90 L254.67 536.52 L258.55 512.36 L262.42 487.30 L266.29 561.59 L270.17 579.49 L274.04 604.54 L277.91 534.74 L281.79 464.93 L285.66 499.83 L289.53 412.12 L293.41 451.50 L297.28 496.25 L301.15 560.69 L305.03 524.89 L308.90 464.93 L312.77 509.68 L316.65 556.22 L320.52 597.38 L324.39 566.06 L328.27 562.48 L332.14 616.18 L336.01 629.61 L339.89 629.61 L343.76 625.13 L347.63 625.13 L351.51 625.13 L355.38 630.50 L359.25 630.50 L363.13 630.50 L367.00 630.50 L370.87 630.50 L374.75 630.50 L378.62 630.50 L382.49 630.50 L386.37 630.50 L390.24 630.50 L394.11 630.50 L397.99 630.50 L401.86 630.50 L405.73 628.71 L409.61 630.05 L413.48 629.61 L417.35 630.50 L421.23 630.50 L425.10 630.50 L428.97 630.50 L432.85 630.50 L436.72 630.50 L440.59 630.50 L444.47 628.71 L448.34 627.82 L452.21 605.44 L456.09 557.11 L459.96 530.26 L463.83 495.36 L467.71 536.52 L471.58 539.21 L475.45 549.95 L479.33 569.64 L483.20 513.25 L487.07 617.08 L490.95 603.65 L494.82 576.80 L498.69 574.12 L502.57 525.78 L506.44 531.15 L510.31 497.14 L514.19 513.25 L518.06 528.47 L521.93 479.25 L525.81 514.15 L529.68 556.22 L533.55 513.25 L537.43 524.89 L541.30 527.58 L545.17 598.28 L549.05 617.08 L552.92 630.50 L556.79 630.50 L560.67 630.50 L564.54 630.50 L568.41 630.50 L572.29 630.50 L576.16 630.50 L580.03 630.50 L583.91 630.50 L587.78 630.50 L591.65 630.50 L595.53 630.50 L599.40 630.50 L603.27 630.50 L607.15 630.50 L611.02 630.50 L614.89 630.50 L618.77 630.50 L622.64 630.50 L626.51 630.50 L630.39 630.50" fill="none" stroke="#ec2a2e" stroke-width="1.9" stroke-linejoin="round"/>
<path d="M675.5 351V684" stroke="#f5f5f5" stroke-width="1"/>
<rect x="546.8" y="36" width="111.9" height="43.1" fill="#fff" stroke="#a0a0a0" stroke-width="1"/>
<rect x="561" y="47" width="1.2" height="1.2" fill="#000"/>
<rect x="561" y="67.2" width="1.4" height="1.4" fill="#e02020"/>
<text x="573.8" y="53.8" font-size="18" font-family="Liberation Serif" font-weight="bold" fill="#000">Standard</text>
<text x="573.8" y="72.4" font-size="18" font-family="Liberation Serif" font-weight="bold" fill="#000">Optimized</text>
<rect x="538.5" y="368" width="112.9" height="43.2" fill="#fff" stroke="#a0a0a0" stroke-width="1"/>
<path d="M541.4 379H564.7" stroke="#707070" stroke-width="1.5"/>
<path d="M541.4 399.8H564.7" stroke="#ec2a2e" stroke-width="2"/>
<text x="567" y="385.6" font-size="18" font-family="Liberation Serif" font-weight="bold" fill="#000">Standard</text>
<text x="567" y="405.5" font-size="18" font-family="Liberation Serif" font-weight="bold" fill="#000">Optimized</text></svg>
</body></html>
